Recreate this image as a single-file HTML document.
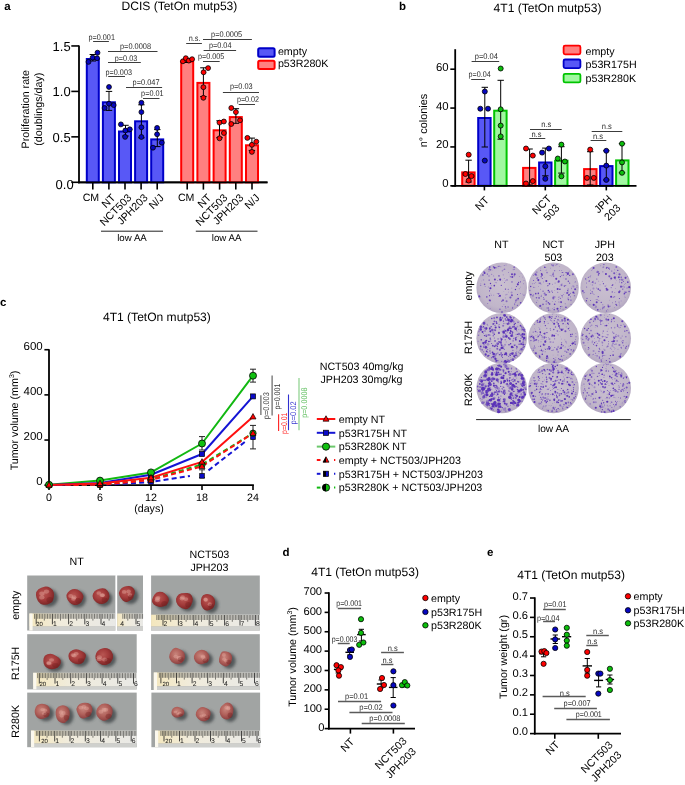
<!DOCTYPE html><html><head><meta charset="utf-8"><style>html,body{margin:0;padding:0;background:#fff;}svg{display:block;will-change:transform;}text{font-family:"Liberation Sans",sans-serif;text-rendering:geometricPrecision;}</style></head><body>
<svg width="685" height="785" viewBox="0 0 685 785">
<rect width="685" height="785" fill="#fff"/>
<text x="4.3" y="10.3" font-size="11.5" font-weight="bold">a</text>
<text x="121.5" y="10.3" font-size="12.05">DCIS (TetOn mutp53)</text>
<line x1="79" y1="45.45" x2="79" y2="183.2" stroke="#000" stroke-width="1.8"/>
<line x1="78.1" y1="182.3" x2="267.5" y2="182.3" stroke="#000" stroke-width="1.8"/>
<line x1="71.3" y1="45.95" x2="79" y2="45.95" stroke="#000" stroke-width="1.6"/>
<text x="70.7" y="50.65" font-size="13" text-anchor="end">1.5</text>
<line x1="71.3" y1="91.4" x2="79" y2="91.4" stroke="#000" stroke-width="1.6"/>
<text x="70.7" y="96.1" font-size="13" text-anchor="end">1.0</text>
<line x1="71.3" y1="136.85" x2="79" y2="136.85" stroke="#000" stroke-width="1.6"/>
<text x="70.7" y="141.55" font-size="13" text-anchor="end">0.5</text>
<line x1="71.3" y1="182.3" x2="79" y2="182.3" stroke="#000" stroke-width="1.6"/>
<text x="73.7" y="189.4" font-size="13" text-anchor="end">0.0</text>
<text x="29.4" y="109.2" font-size="10.7" text-anchor="middle" transform="rotate(-90 29.4 109.2)">Proliferation rate</text>
<text x="41.6" y="109.2" font-size="10.7" text-anchor="middle" transform="rotate(-90 41.6 109.2)">(doublings/day)</text>
<rect x="86.8" y="59" width="12" height="123.3" fill="#5858f6" stroke="#0000c8" stroke-width="2"/>
<rect x="102.9" y="102.3" width="12" height="80" fill="#5858f6" stroke="#0000c8" stroke-width="2"/>
<rect x="119" y="131.5" width="12" height="50.8" fill="#5858f6" stroke="#0000c8" stroke-width="2"/>
<rect x="135.1" y="121.3" width="12" height="61" fill="#5858f6" stroke="#0000c8" stroke-width="2"/>
<rect x="151.2" y="139.4" width="12" height="42.9" fill="#5858f6" stroke="#0000c8" stroke-width="2"/>
<rect x="181.2" y="61.6" width="12" height="120.7" fill="#ff8080" stroke="#ff0000" stroke-width="2"/>
<rect x="197.4" y="82.9" width="12" height="99.4" fill="#ff8080" stroke="#ff0000" stroke-width="2"/>
<rect x="213.6" y="130.3" width="12" height="52" fill="#ff8080" stroke="#ff0000" stroke-width="2"/>
<rect x="229.8" y="117.1" width="12" height="65.2" fill="#ff8080" stroke="#ff0000" stroke-width="2"/>
<rect x="246" y="145.3" width="12" height="37" fill="#ff8080" stroke="#ff0000" stroke-width="2"/>
<line x1="78.1" y1="182.3" x2="267.5" y2="182.3" stroke="#000" stroke-width="1.8"/>
<line x1="92.8" y1="182.3" x2="92.8" y2="189.6" stroke="#000" stroke-width="1.6"/>
<line x1="108.9" y1="182.3" x2="108.9" y2="189.6" stroke="#000" stroke-width="1.6"/>
<line x1="125" y1="182.3" x2="125" y2="189.6" stroke="#000" stroke-width="1.6"/>
<line x1="141.1" y1="182.3" x2="141.1" y2="189.6" stroke="#000" stroke-width="1.6"/>
<line x1="157.2" y1="182.3" x2="157.2" y2="189.6" stroke="#000" stroke-width="1.6"/>
<line x1="187.2" y1="182.3" x2="187.2" y2="189.6" stroke="#000" stroke-width="1.6"/>
<line x1="203.4" y1="182.3" x2="203.4" y2="189.6" stroke="#000" stroke-width="1.6"/>
<line x1="219.6" y1="182.3" x2="219.6" y2="189.6" stroke="#000" stroke-width="1.6"/>
<line x1="235.8" y1="182.3" x2="235.8" y2="189.6" stroke="#000" stroke-width="1.6"/>
<line x1="252" y1="182.3" x2="252" y2="189.6" stroke="#000" stroke-width="1.6"/>
<line x1="92.8" y1="54.5" x2="92.8" y2="61" stroke="#000" stroke-width="1"/>
<line x1="89.6" y1="54.5" x2="96" y2="54.5" stroke="#000" stroke-width="1"/>
<line x1="89.6" y1="61" x2="96" y2="61" stroke="#000" stroke-width="1"/>
<line x1="109" y1="91.4" x2="109" y2="110.4" stroke="#000" stroke-width="1"/>
<line x1="105.8" y1="91.4" x2="112.2" y2="91.4" stroke="#000" stroke-width="1"/>
<line x1="105.8" y1="110.4" x2="112.2" y2="110.4" stroke="#000" stroke-width="1"/>
<line x1="125.5" y1="125.3" x2="125.5" y2="136" stroke="#000" stroke-width="1"/>
<line x1="122.3" y1="125.3" x2="128.7" y2="125.3" stroke="#000" stroke-width="1"/>
<line x1="122.3" y1="136" x2="128.7" y2="136" stroke="#000" stroke-width="1"/>
<line x1="141.4" y1="104.8" x2="141.4" y2="137.8" stroke="#000" stroke-width="1"/>
<line x1="138.2" y1="104.8" x2="144.6" y2="104.8" stroke="#000" stroke-width="1"/>
<line x1="138.2" y1="137.8" x2="144.6" y2="137.8" stroke="#000" stroke-width="1"/>
<line x1="157.3" y1="129.6" x2="157.3" y2="146.6" stroke="#000" stroke-width="1"/>
<line x1="154.1" y1="129.6" x2="160.5" y2="129.6" stroke="#000" stroke-width="1"/>
<line x1="154.1" y1="146.6" x2="160.5" y2="146.6" stroke="#000" stroke-width="1"/>
<line x1="187" y1="58.5" x2="187" y2="62.5" stroke="#000" stroke-width="1"/>
<line x1="183.8" y1="58.5" x2="190.2" y2="58.5" stroke="#000" stroke-width="1"/>
<line x1="183.8" y1="62.5" x2="190.2" y2="62.5" stroke="#000" stroke-width="1"/>
<line x1="203.4" y1="67.8" x2="203.4" y2="96.5" stroke="#000" stroke-width="1"/>
<line x1="200.2" y1="67.8" x2="206.6" y2="67.8" stroke="#000" stroke-width="1"/>
<line x1="200.2" y1="96.5" x2="206.6" y2="96.5" stroke="#000" stroke-width="1"/>
<line x1="219.5" y1="120.8" x2="219.5" y2="137.6" stroke="#000" stroke-width="1"/>
<line x1="216.3" y1="120.8" x2="222.7" y2="120.8" stroke="#000" stroke-width="1"/>
<line x1="216.3" y1="137.6" x2="222.7" y2="137.6" stroke="#000" stroke-width="1"/>
<line x1="235.9" y1="108.7" x2="235.9" y2="123.3" stroke="#000" stroke-width="1"/>
<line x1="232.7" y1="108.7" x2="239.1" y2="108.7" stroke="#000" stroke-width="1"/>
<line x1="232.7" y1="123.3" x2="239.1" y2="123.3" stroke="#000" stroke-width="1"/>
<line x1="251.9" y1="138.1" x2="251.9" y2="150.4" stroke="#000" stroke-width="1"/>
<line x1="248.7" y1="138.1" x2="255.1" y2="138.1" stroke="#000" stroke-width="1"/>
<line x1="248.7" y1="150.4" x2="255.1" y2="150.4" stroke="#000" stroke-width="1"/>
<circle cx="88.5" cy="61.9" r="2.45" fill="#0606c0" stroke="#000" stroke-width="0.8"/>
<circle cx="92.7" cy="57.6" r="2.45" fill="#0606c0" stroke="#000" stroke-width="0.8"/>
<circle cx="97.1" cy="58.2" r="2.45" fill="#0606c0" stroke="#000" stroke-width="0.8"/>
<circle cx="97.5" cy="52.7" r="2.45" fill="#0606c0" stroke="#000" stroke-width="0.8"/>
<circle cx="109" cy="87" r="2.45" fill="#0606c0" stroke="#000" stroke-width="0.8"/>
<circle cx="109" cy="103.7" r="2.45" fill="#0606c0" stroke="#000" stroke-width="0.8"/>
<circle cx="113.7" cy="105.1" r="2.45" fill="#0606c0" stroke="#000" stroke-width="0.8"/>
<circle cx="104.6" cy="108" r="2.45" fill="#0606c0" stroke="#000" stroke-width="0.8"/>
<circle cx="120.9" cy="124.4" r="2.45" fill="#0606c0" stroke="#000" stroke-width="0.8"/>
<circle cx="125.4" cy="130.5" r="2.45" fill="#0606c0" stroke="#000" stroke-width="0.8"/>
<circle cx="129.8" cy="129.3" r="2.45" fill="#0606c0" stroke="#000" stroke-width="0.8"/>
<circle cx="125.1" cy="136.9" r="2.45" fill="#0606c0" stroke="#000" stroke-width="0.8"/>
<circle cx="141.4" cy="102.8" r="2.45" fill="#0606c0" stroke="#000" stroke-width="0.8"/>
<circle cx="141.4" cy="112.1" r="2.45" fill="#0606c0" stroke="#000" stroke-width="0.8"/>
<circle cx="141.4" cy="127.3" r="2.45" fill="#0606c0" stroke="#000" stroke-width="0.8"/>
<circle cx="141.4" cy="137" r="2.45" fill="#0606c0" stroke="#000" stroke-width="0.8"/>
<circle cx="157.1" cy="127.9" r="2.45" fill="#0606c0" stroke="#000" stroke-width="0.8"/>
<circle cx="157.1" cy="134.3" r="2.45" fill="#0606c0" stroke="#000" stroke-width="0.8"/>
<circle cx="161.8" cy="142.7" r="2.45" fill="#0606c0" stroke="#000" stroke-width="0.8"/>
<circle cx="153" cy="147.7" r="2.45" fill="#0606c0" stroke="#000" stroke-width="0.8"/>
<circle cx="182.9" cy="61.3" r="2.45" fill="#ff0000" stroke="#000" stroke-width="0.8"/>
<circle cx="185.8" cy="58.2" r="2.45" fill="#ff0000" stroke="#000" stroke-width="0.8"/>
<circle cx="188.8" cy="60.6" r="2.45" fill="#ff0000" stroke="#000" stroke-width="0.8"/>
<circle cx="192.1" cy="59.2" r="2.45" fill="#ff0000" stroke="#000" stroke-width="0.8"/>
<circle cx="208.1" cy="68.1" r="2.45" fill="#ff0000" stroke="#000" stroke-width="0.8"/>
<circle cx="203.6" cy="72.3" r="2.45" fill="#ff0000" stroke="#000" stroke-width="0.8"/>
<circle cx="203.4" cy="87.2" r="2.45" fill="#ff0000" stroke="#000" stroke-width="0.8"/>
<circle cx="203.4" cy="97.8" r="2.45" fill="#ff0000" stroke="#000" stroke-width="0.8"/>
<circle cx="219.5" cy="122.6" r="2.45" fill="#ff0000" stroke="#000" stroke-width="0.8"/>
<circle cx="223.9" cy="121.5" r="2.45" fill="#ff0000" stroke="#000" stroke-width="0.8"/>
<circle cx="223.9" cy="133" r="2.45" fill="#ff0000" stroke="#000" stroke-width="0.8"/>
<circle cx="219.5" cy="138.3" r="2.45" fill="#ff0000" stroke="#000" stroke-width="0.8"/>
<circle cx="231.3" cy="108" r="2.45" fill="#ff0000" stroke="#000" stroke-width="0.8"/>
<circle cx="235.9" cy="112.1" r="2.45" fill="#ff0000" stroke="#000" stroke-width="0.8"/>
<circle cx="240" cy="120.3" r="2.45" fill="#ff0000" stroke="#000" stroke-width="0.8"/>
<circle cx="231.3" cy="124" r="2.45" fill="#ff0000" stroke="#000" stroke-width="0.8"/>
<circle cx="247.4" cy="137.9" r="2.45" fill="#ff0000" stroke="#000" stroke-width="0.8"/>
<circle cx="256.3" cy="141.7" r="2.45" fill="#ff0000" stroke="#000" stroke-width="0.8"/>
<circle cx="251.9" cy="144.8" r="2.45" fill="#ff0000" stroke="#000" stroke-width="0.8"/>
<circle cx="251.9" cy="151.9" r="2.45" fill="#ff0000" stroke="#000" stroke-width="0.8"/>
<line x1="93.1" y1="41.5" x2="108.9" y2="41.5" stroke="#3c3c3c" stroke-width="1"/>
<text x="88.5" y="39.9" font-size="8.2" fill="#2a2a2a" textLength="26.45" lengthAdjust="spacingAndGlyphs">p=0.001</text>
<line x1="108" y1="51.5" x2="157.5" y2="51.5" stroke="#3c3c3c" stroke-width="1"/>
<text x="120" y="48.5" font-size="8.2" fill="#2a2a2a" textLength="31.05" lengthAdjust="spacingAndGlyphs">p=0.0008</text>
<line x1="108" y1="62.5" x2="140.8" y2="62.5" stroke="#3c3c3c" stroke-width="1"/>
<text x="114.8" y="60.7" font-size="8.2" fill="#2a2a2a" textLength="22.45" lengthAdjust="spacingAndGlyphs">p=0.03</text>
<line x1="108.2" y1="76.5" x2="125" y2="76.5" stroke="#3c3c3c" stroke-width="1"/>
<text x="105.6" y="74.7" font-size="8.2" fill="#2a2a2a" textLength="26.35" lengthAdjust="spacingAndGlyphs">p=0.003</text>
<line x1="126" y1="87.5" x2="162.1" y2="87.5" stroke="#3c3c3c" stroke-width="1"/>
<text x="132.6" y="85.1" font-size="8.2" fill="#2a2a2a" textLength="26.95" lengthAdjust="spacingAndGlyphs">p=0.047</text>
<line x1="143" y1="98.5" x2="159.5" y2="98.5" stroke="#3c3c3c" stroke-width="1"/>
<text x="141.1" y="96.3" font-size="8.2" fill="#2a2a2a" textLength="22.55" lengthAdjust="spacingAndGlyphs">p=0.01</text>
<line x1="186.2" y1="43.5" x2="201.9" y2="43.5" stroke="#3c3c3c" stroke-width="1"/>
<text x="188.8" y="41.3" font-size="8.2" fill="#2a2a2a" textLength="11.75" lengthAdjust="spacingAndGlyphs">n.s.</text>
<line x1="203" y1="39.5" x2="251.9" y2="39.5" stroke="#3c3c3c" stroke-width="1"/>
<text x="211.1" y="37.1" font-size="8.2" fill="#2a2a2a" textLength="31.05" lengthAdjust="spacingAndGlyphs">p=0.0005</text>
<line x1="203.6" y1="50.5" x2="236.1" y2="50.5" stroke="#3c3c3c" stroke-width="1"/>
<text x="208.9" y="48.3" font-size="8.2" fill="#2a2a2a" textLength="22.65" lengthAdjust="spacingAndGlyphs">p=0.04</text>
<line x1="203" y1="61.5" x2="219.7" y2="61.5" stroke="#3c3c3c" stroke-width="1"/>
<text x="198" y="59.2" font-size="8.2" fill="#2a2a2a" textLength="26.35" lengthAdjust="spacingAndGlyphs">p=0.005</text>
<line x1="222.9" y1="92.5" x2="259" y2="92.5" stroke="#3c3c3c" stroke-width="1"/>
<text x="229.9" y="89.1" font-size="8.2" fill="#2a2a2a" textLength="22.75" lengthAdjust="spacingAndGlyphs">p=0.03</text>
<line x1="238.7" y1="104.5" x2="255" y2="104.5" stroke="#3c3c3c" stroke-width="1"/>
<text x="236.9" y="101.9" font-size="8.2" fill="#2a2a2a" textLength="22.25" lengthAdjust="spacingAndGlyphs">p=0.02</text>
<text x="90.9" y="201.2" font-size="10.6" text-anchor="middle">CM</text>
<text x="186.2" y="201.2" font-size="10.6" text-anchor="middle">CM</text>
<text x="116.2" y="198.4" font-size="10.7" text-anchor="end" transform="rotate(-45 116.2 198.4)">NT</text>
<text x="132.3" y="198.4" font-size="10.7" text-anchor="end" transform="rotate(-45 132.3 198.4)">NCT503</text>
<text x="148.4" y="198.4" font-size="10.7" text-anchor="end" transform="rotate(-45 148.4 198.4)">JPH203</text>
<text x="164.5" y="198.4" font-size="10.7" text-anchor="end" transform="rotate(-45 164.5 198.4)">N/J</text>
<text x="212" y="198.4" font-size="10.7" text-anchor="end" transform="rotate(-45 212 198.4)">NT</text>
<text x="228.1" y="198.4" font-size="10.7" text-anchor="end" transform="rotate(-45 228.1 198.4)">NCT503</text>
<text x="244.2" y="198.4" font-size="10.7" text-anchor="end" transform="rotate(-45 244.2 198.4)">JPH203</text>
<text x="260.3" y="198.4" font-size="10.7" text-anchor="end" transform="rotate(-45 260.3 198.4)">N/J</text>
<line x1="101" y1="231.2" x2="163" y2="231.2" stroke="#222" stroke-width="1"/>
<line x1="195.8" y1="231.2" x2="257.5" y2="231.2" stroke="#222" stroke-width="1"/>
<text x="132" y="240.6" font-size="9.7" text-anchor="middle">low AA</text>
<text x="226.6" y="240.6" font-size="9.7" text-anchor="middle">low AA</text>
<rect x="258.2" y="48.2" width="16.4" height="8.5" fill="#5858f6" stroke="#0000c8" stroke-width="2" rx="1.5"/>
<rect x="258.2" y="60.7" width="16.4" height="8.3" fill="#ff8080" stroke="#ff0000" stroke-width="2" rx="1.5"/>
<text x="277.9" y="54.6" font-size="10.7">empty</text>
<text x="277.9" y="66.7" font-size="10.7">p53R280K</text>
<text x="399" y="10.3" font-size="11.5" font-weight="bold">b</text>
<text x="493.6" y="12.1" font-size="12.05">4T1 (TetOn mutp53)</text>
<line x1="455.2" y1="49.2" x2="455.2" y2="186.7" stroke="#000" stroke-width="1.8"/>
<line x1="450.3" y1="185.8" x2="455.2" y2="185.8" stroke="#000" stroke-width="1.6"/>
<text x="448.7" y="187.3" font-size="11.4" text-anchor="end">0</text>
<line x1="450.3" y1="146.93" x2="455.2" y2="146.93" stroke="#000" stroke-width="1.6"/>
<text x="448.7" y="148.43" font-size="11.4" text-anchor="end">20</text>
<line x1="450.3" y1="108.07" x2="455.2" y2="108.07" stroke="#000" stroke-width="1.6"/>
<text x="448.7" y="109.57" font-size="11.4" text-anchor="end">40</text>
<line x1="450.3" y1="69.2" x2="455.2" y2="69.2" stroke="#000" stroke-width="1.6"/>
<text x="448.7" y="70.7" font-size="11.4" text-anchor="end">60</text>
<text x="426.6" y="120.5" font-size="10.9" text-anchor="middle" transform="rotate(-90 426.6 120.5)">n° colonies</text>
<rect x="462.2" y="172.4" width="12.4" height="13.4" fill="#ff8080" stroke="#ff0000" stroke-width="2"/>
<rect x="478.2" y="118" width="12.4" height="67.8" fill="#5858f6" stroke="#0000c8" stroke-width="2"/>
<rect x="494.2" y="110.7" width="12.4" height="75.1" fill="#a0f8a0" stroke="#00c400" stroke-width="2"/>
<rect x="523.1" y="167.9" width="12.4" height="17.9" fill="#ff8080" stroke="#ff0000" stroke-width="2"/>
<rect x="539.1" y="162.5" width="12.4" height="23.3" fill="#5858f6" stroke="#0000c8" stroke-width="2"/>
<rect x="555.1" y="160.7" width="12.4" height="25.1" fill="#a0f8a0" stroke="#00c400" stroke-width="2"/>
<rect x="584.1" y="169.1" width="12.4" height="16.7" fill="#ff8080" stroke="#ff0000" stroke-width="2"/>
<rect x="600.1" y="166.1" width="12.4" height="19.7" fill="#5858f6" stroke="#0000c8" stroke-width="2"/>
<rect x="616.1" y="160.4" width="12.4" height="25.4" fill="#a0f8a0" stroke="#00c400" stroke-width="2"/>
<line x1="451.5" y1="185.8" x2="636.5" y2="185.8" stroke="#000" stroke-width="1.8"/>
<line x1="484.4" y1="185.8" x2="484.4" y2="190.4" stroke="#000" stroke-width="1.6"/>
<line x1="545.3" y1="185.8" x2="545.3" y2="190.4" stroke="#000" stroke-width="1.6"/>
<line x1="606.3" y1="185.8" x2="606.3" y2="190.4" stroke="#000" stroke-width="1.6"/>
<line x1="468.6" y1="160.2" x2="468.6" y2="182" stroke="#000" stroke-width="1"/>
<line x1="465.4" y1="160.2" x2="471.8" y2="160.2" stroke="#000" stroke-width="1"/>
<line x1="465.4" y1="182" x2="471.8" y2="182" stroke="#000" stroke-width="1"/>
<line x1="484.8" y1="87.3" x2="484.8" y2="147" stroke="#000" stroke-width="1"/>
<line x1="481.6" y1="87.3" x2="488" y2="87.3" stroke="#000" stroke-width="1"/>
<line x1="481.6" y1="147" x2="488" y2="147" stroke="#000" stroke-width="1"/>
<line x1="500.7" y1="80.3" x2="500.7" y2="139.2" stroke="#000" stroke-width="1"/>
<line x1="497.5" y1="80.3" x2="503.9" y2="80.3" stroke="#000" stroke-width="1"/>
<line x1="497.5" y1="139.2" x2="503.9" y2="139.2" stroke="#000" stroke-width="1"/>
<line x1="529.6" y1="149" x2="529.6" y2="185" stroke="#000" stroke-width="1"/>
<line x1="526.4" y1="149" x2="532.8" y2="149" stroke="#000" stroke-width="1"/>
<line x1="526.4" y1="185" x2="532.8" y2="185" stroke="#000" stroke-width="1"/>
<line x1="545.3" y1="148.1" x2="545.3" y2="175.8" stroke="#000" stroke-width="1"/>
<line x1="542.1" y1="148.1" x2="548.5" y2="148.1" stroke="#000" stroke-width="1"/>
<line x1="542.1" y1="175.8" x2="548.5" y2="175.8" stroke="#000" stroke-width="1"/>
<line x1="561.4" y1="146.7" x2="561.4" y2="173.1" stroke="#000" stroke-width="1"/>
<line x1="558.2" y1="146.7" x2="564.6" y2="146.7" stroke="#000" stroke-width="1"/>
<line x1="558.2" y1="173.1" x2="564.6" y2="173.1" stroke="#000" stroke-width="1"/>
<line x1="590.2" y1="151.7" x2="590.2" y2="185" stroke="#000" stroke-width="1"/>
<line x1="587" y1="151.7" x2="593.4" y2="151.7" stroke="#000" stroke-width="1"/>
<line x1="587" y1="185" x2="593.4" y2="185" stroke="#000" stroke-width="1"/>
<line x1="606.3" y1="150.8" x2="606.3" y2="180" stroke="#000" stroke-width="1"/>
<line x1="603.1" y1="150.8" x2="609.5" y2="150.8" stroke="#000" stroke-width="1"/>
<line x1="603.1" y1="180" x2="609.5" y2="180" stroke="#000" stroke-width="1"/>
<line x1="622" y1="143.7" x2="622" y2="172.8" stroke="#000" stroke-width="1"/>
<line x1="618.8" y1="143.7" x2="625.2" y2="143.7" stroke="#000" stroke-width="1"/>
<line x1="618.8" y1="172.8" x2="625.2" y2="172.8" stroke="#000" stroke-width="1"/>
<circle cx="468.7" cy="154.7" r="2.5" fill="#ff0000" stroke="#000" stroke-width="0.8"/>
<circle cx="465.4" cy="174" r="2.5" fill="#ff0000" stroke="#000" stroke-width="0.8"/>
<circle cx="471.5" cy="176.1" r="2.5" fill="#ff0000" stroke="#000" stroke-width="0.8"/>
<circle cx="468.7" cy="180.6" r="2.5" fill="#ff0000" stroke="#000" stroke-width="0.8"/>
<circle cx="526" cy="148.5" r="2.5" fill="#ff0000" stroke="#000" stroke-width="0.8"/>
<circle cx="532.8" cy="155.6" r="2.5" fill="#ff0000" stroke="#000" stroke-width="0.8"/>
<circle cx="532.8" cy="181.1" r="2.5" fill="#ff0000" stroke="#000" stroke-width="0.8"/>
<circle cx="526" cy="183.5" r="2.5" fill="#ff0000" stroke="#000" stroke-width="0.8"/>
<circle cx="590.2" cy="149.6" r="2.5" fill="#ff0000" stroke="#000" stroke-width="0.8"/>
<circle cx="587" cy="177.9" r="2.5" fill="#ff0000" stroke="#000" stroke-width="0.8"/>
<circle cx="593.8" cy="177.9" r="2.5" fill="#ff0000" stroke="#000" stroke-width="0.8"/>
<circle cx="484.8" cy="91.5" r="2.5" fill="#0606c0" stroke="#000" stroke-width="0.8"/>
<circle cx="480.3" cy="108.7" r="2.5" fill="#0606c0" stroke="#000" stroke-width="0.8"/>
<circle cx="488" cy="108.7" r="2.5" fill="#0606c0" stroke="#000" stroke-width="0.8"/>
<circle cx="484.8" cy="160.6" r="2.5" fill="#0606c0" stroke="#000" stroke-width="0.8"/>
<circle cx="542.1" cy="152.6" r="2.5" fill="#0606c0" stroke="#000" stroke-width="0.8"/>
<circle cx="548.9" cy="148.5" r="2.5" fill="#0606c0" stroke="#000" stroke-width="0.8"/>
<circle cx="545.3" cy="166.3" r="2.5" fill="#0606c0" stroke="#000" stroke-width="0.8"/>
<circle cx="545.3" cy="178.8" r="2.5" fill="#0606c0" stroke="#000" stroke-width="0.8"/>
<circle cx="606.3" cy="150.8" r="2.5" fill="#0606c0" stroke="#000" stroke-width="0.8"/>
<circle cx="606.3" cy="165.6" r="2.5" fill="#0606c0" stroke="#000" stroke-width="0.8"/>
<circle cx="606.3" cy="179.9" r="2.5" fill="#0606c0" stroke="#000" stroke-width="0.8"/>
<circle cx="500.7" cy="68.5" r="2.5" fill="#0cbf0c" stroke="#000" stroke-width="0.8"/>
<circle cx="500.7" cy="109.3" r="2.5" fill="#0cbf0c" stroke="#000" stroke-width="0.8"/>
<circle cx="500.7" cy="125.6" r="2.5" fill="#0cbf0c" stroke="#000" stroke-width="0.8"/>
<circle cx="500.7" cy="136.4" r="2.5" fill="#0cbf0c" stroke="#000" stroke-width="0.8"/>
<circle cx="561.4" cy="144.6" r="2.5" fill="#0cbf0c" stroke="#000" stroke-width="0.8"/>
<circle cx="557.8" cy="158.5" r="2.5" fill="#0cbf0c" stroke="#000" stroke-width="0.8"/>
<circle cx="564.9" cy="161.5" r="2.5" fill="#0cbf0c" stroke="#000" stroke-width="0.8"/>
<circle cx="561.4" cy="176.3" r="2.5" fill="#0cbf0c" stroke="#000" stroke-width="0.8"/>
<circle cx="622" cy="143.7" r="2.5" fill="#0cbf0c" stroke="#000" stroke-width="0.8"/>
<circle cx="622" cy="162.4" r="2.5" fill="#0cbf0c" stroke="#000" stroke-width="0.8"/>
<circle cx="622" cy="172.8" r="2.5" fill="#0cbf0c" stroke="#000" stroke-width="0.8"/>
<line x1="471.6" y1="61.5" x2="499.2" y2="61.5" stroke="#3c3c3c" stroke-width="1"/>
<text x="474.7" y="58.7" font-size="8.2" fill="#2a2a2a" textLength="23.25" lengthAdjust="spacingAndGlyphs">p=0.04</text>
<line x1="471.2" y1="79.5" x2="484.9" y2="79.5" stroke="#3c3c3c" stroke-width="1"/>
<text x="468.6" y="76.7" font-size="8.2" fill="#2a2a2a" textLength="22.15" lengthAdjust="spacingAndGlyphs">p=0.04</text>
<line x1="529.3" y1="138.5" x2="545.3" y2="138.5" stroke="#3c3c3c" stroke-width="1"/>
<text x="531.4" y="136.9" font-size="8.2" fill="#2a2a2a" textLength="10.05" lengthAdjust="spacingAndGlyphs">n.s</text>
<line x1="530" y1="129.5" x2="561.7" y2="129.5" stroke="#3c3c3c" stroke-width="1"/>
<text x="541.2" y="127.2" font-size="8.2" fill="#2a2a2a" textLength="10.05" lengthAdjust="spacingAndGlyphs">n.s</text>
<line x1="590.6" y1="140.5" x2="606.3" y2="140.5" stroke="#3c3c3c" stroke-width="1"/>
<text x="592.9" y="138.7" font-size="8.2" fill="#2a2a2a" textLength="10.05" lengthAdjust="spacingAndGlyphs">n.s</text>
<line x1="591.7" y1="131.5" x2="622.3" y2="131.5" stroke="#3c3c3c" stroke-width="1"/>
<text x="601.8" y="129" font-size="8.2" fill="#2a2a2a" textLength="10.05" lengthAdjust="spacingAndGlyphs">n.s</text>
<text x="489.6" y="201" font-size="10.7" text-anchor="end" transform="rotate(-45 489.6 201)">NT</text>
<text x="552" y="199.5" font-size="10.7" text-anchor="end" transform="rotate(-45 552 199.5)">NCT</text>
<text x="560.3" y="208.6" font-size="10.7" text-anchor="end" transform="rotate(-45 560.3 208.6)">503</text>
<text x="612.8" y="199.5" font-size="10.7" text-anchor="end" transform="rotate(-45 612.8 199.5)">JPH</text>
<text x="621.1" y="208.6" font-size="10.7" text-anchor="end" transform="rotate(-45 621.1 208.6)">203</text>
<rect x="563.6" y="45.7" width="16.8" height="8.6" fill="#ff8080" stroke="#ff0000" stroke-width="1.8" rx="1.5"/>
<rect x="563.6" y="59.5" width="16.8" height="8.6" fill="#5858f6" stroke="#0000c8" stroke-width="1.8" rx="1.5"/>
<rect x="563.6" y="73.8" width="16.8" height="8.6" fill="#a0f8a0" stroke="#00c400" stroke-width="1.8" rx="1.5"/>
<text x="585.5" y="54.6" font-size="10.7">empty</text>
<text x="585.5" y="68.4" font-size="10.7">p53R175H</text>
<text x="585.5" y="82.3" font-size="10.7">p53R280K</text>
<text x="501.4" y="248.2" font-size="10.7" text-anchor="middle">NT</text>
<text x="553.4" y="248.4" font-size="10.7" text-anchor="middle">NCT</text>
<text x="553.4" y="261" font-size="10.7" text-anchor="middle">503</text>
<text x="604.8" y="248.4" font-size="10.7" text-anchor="middle">JPH</text>
<text x="604.8" y="261" font-size="10.7" text-anchor="middle">203</text>
<text x="472.2" y="286" font-size="10.7" text-anchor="middle" transform="rotate(-90 472.2 286)">empty</text>
<text x="472.2" y="337.4" font-size="10.7" text-anchor="middle" transform="rotate(-90 472.2 337.4)">R175H</text>
<text x="472.2" y="389.6" font-size="10.7" text-anchor="middle" transform="rotate(-90 472.2 389.6)">R280K</text>
<defs><radialGradient id="pg" cx="50%" cy="45%" r="55%"><stop offset="0" stop-color="#cac0d0"/><stop offset="0.8" stop-color="#c1b6ca"/><stop offset="1" stop-color="#b2a6c0"/></radialGradient><radialGradient id="tg" cx="40%" cy="35%" r="65%"><stop offset="0" stop-color="#c87070"/><stop offset="0.6" stop-color="#a83c3c"/><stop offset="1" stop-color="#7a2424"/></radialGradient><linearGradient id="bgp" x1="0" y1="0" x2="1" y2="1"><stop offset="0" stop-color="#9a9d9f"/><stop offset="1" stop-color="#a7abac"/></linearGradient></defs>
<circle cx="501.7" cy="287.8" r="25.3" fill="url(#pg)"/>
<g fill="#5a32b8"><circle cx="492.79" cy="270.13" r="0.3" fill-opacity="0.35"/><circle cx="505.89" cy="308.53" r="0.51" fill-opacity="0.35"/><circle cx="480.75" cy="283.66" r="0.51" fill-opacity="0.35"/><circle cx="504.28" cy="265.49" r="0.38" fill-opacity="0.55"/><circle cx="508.31" cy="292" r="0.3" fill-opacity="1.00"/><circle cx="506.03" cy="265.01" r="0.51" fill-opacity="0.35"/><circle cx="504.57" cy="269.24" r="0.81" fill-opacity="0.55"/><circle cx="503.76" cy="291.39" r="0.42" fill-opacity="0.35"/><circle cx="505.83" cy="294.83" r="0.68" fill-opacity="0.35"/><circle cx="504.12" cy="265.68" r="0.3" fill-opacity="1.00"/><circle cx="486.82" cy="296.93" r="0.81" fill-opacity="0.75"/><circle cx="499.96" cy="309.23" r="0.68" fill-opacity="0.75"/><circle cx="488.97" cy="271.6" r="0.51" fill-opacity="0.35"/><circle cx="505.47" cy="289.07" r="0.68" fill-opacity="1.00"/><circle cx="499.11" cy="293.31" r="0.38" fill-opacity="0.35"/><circle cx="502.3" cy="270.85" r="0.68" fill-opacity="0.55"/><circle cx="523.62" cy="283.84" r="0.38" fill-opacity="1.00"/><circle cx="505.4" cy="306.8" r="0.68" fill-opacity="0.75"/><circle cx="511.58" cy="292.58" r="1.02" fill-opacity="0.35"/><circle cx="500.39" cy="296.11" r="0.3" fill-opacity="1.00"/><circle cx="511.9" cy="295.24" r="1.02" fill-opacity="0.75"/><circle cx="512.66" cy="307.38" r="0.68" fill-opacity="0.35"/><circle cx="524" cy="280.49" r="0.38" fill-opacity="0.90"/><circle cx="482.94" cy="275.03" r="0.81" fill-opacity="0.90"/><circle cx="480.48" cy="285.23" r="0.59" fill-opacity="0.55"/><circle cx="490.49" cy="283.51" r="0.68" fill-opacity="1.00"/><circle cx="484.04" cy="271.42" r="0.51" fill-opacity="1.00"/><circle cx="488.21" cy="287.04" r="0.42" fill-opacity="0.75"/><circle cx="490.67" cy="269.87" r="0.68" fill-opacity="1.00"/><circle cx="505.06" cy="310.73" r="0.3" fill-opacity="0.90"/><circle cx="520.65" cy="302.87" r="0.81" fill-opacity="0.90"/><circle cx="496.59" cy="267.74" r="0.81" fill-opacity="0.35"/><circle cx="498.7" cy="268.06" r="0.3" fill-opacity="0.35"/><circle cx="481.53" cy="280.9" r="0.3" fill-opacity="0.35"/><circle cx="520.64" cy="293.57" r="0.42" fill-opacity="1.00"/><circle cx="489.16" cy="280.08" r="0.68" fill-opacity="0.90"/><circle cx="500.88" cy="266.85" r="0.38" fill-opacity="1.00"/><circle cx="493.74" cy="275.9" r="0.42" fill-opacity="1.00"/><circle cx="503.13" cy="269.92" r="0.3" fill-opacity="1.00"/><circle cx="491.48" cy="295.03" r="0.38" fill-opacity="1.00"/><circle cx="519.18" cy="288.73" r="0.42" fill-opacity="0.75"/><circle cx="515.46" cy="289.45" r="0.68" fill-opacity="1.00"/><circle cx="487.69" cy="303.56" r="0.51" fill-opacity="0.55"/><circle cx="517.81" cy="299.94" r="0.51" fill-opacity="0.55"/><circle cx="502.59" cy="280.49" r="0.3" fill-opacity="0.35"/><circle cx="516.38" cy="286.4" r="0.51" fill-opacity="1.00"/><circle cx="507.02" cy="279.92" r="0.68" fill-opacity="0.75"/><circle cx="500.19" cy="279.59" r="1.02" fill-opacity="1.00"/><circle cx="493.81" cy="295.04" r="0.38" fill-opacity="0.90"/><circle cx="515.98" cy="300.46" r="1.02" fill-opacity="0.55"/><circle cx="498.36" cy="294.67" r="0.38" fill-opacity="1.00"/><circle cx="496.43" cy="282.81" r="0.38" fill-opacity="1.00"/><circle cx="499.95" cy="295.69" r="1.02" fill-opacity="1.00"/><circle cx="516.85" cy="299.25" r="0.38" fill-opacity="1.00"/><circle cx="514.32" cy="269.55" r="0.51" fill-opacity="0.55"/><circle cx="501.76" cy="301.14" r="0.68" fill-opacity="0.75"/><circle cx="503.94" cy="304.71" r="0.3" fill-opacity="1.00"/><circle cx="494.3" cy="285.68" r="0.81" fill-opacity="1.00"/><circle cx="502.23" cy="306.66" r="0.42" fill-opacity="1.00"/><circle cx="485.12" cy="286.46" r="0.38" fill-opacity="1.00"/><circle cx="479.52" cy="297.03" r="1.02" fill-opacity="0.35"/><circle cx="481.35" cy="285.38" r="0.3" fill-opacity="0.35"/><circle cx="498.83" cy="293.49" r="0.51" fill-opacity="1.00"/><circle cx="490.43" cy="288.21" r="1.02" fill-opacity="1.00"/><circle cx="489.54" cy="290.81" r="0.51" fill-opacity="0.90"/><circle cx="498.77" cy="266.17" r="0.51" fill-opacity="0.90"/><circle cx="480.1" cy="296.38" r="0.38" fill-opacity="0.55"/><circle cx="523.94" cy="295.06" r="0.68" fill-opacity="0.55"/><circle cx="489.21" cy="269.45" r="1.02" fill-opacity="0.55"/><circle cx="514.18" cy="267.26" r="1.02" fill-opacity="0.55"/><circle cx="484.57" cy="284.34" r="0.81" fill-opacity="0.75"/><circle cx="497.72" cy="280.54" r="0.38" fill-opacity="1.00"/><circle cx="494.92" cy="279.6" r="1.02" fill-opacity="0.90"/><circle cx="511.98" cy="281.95" r="0.59" fill-opacity="1.00"/><circle cx="490.16" cy="308.34" r="0.42" fill-opacity="0.75"/><circle cx="514.64" cy="303.98" r="0.59" fill-opacity="0.90"/><circle cx="505.27" cy="297.94" r="0.38" fill-opacity="0.75"/><circle cx="497.92" cy="266.16" r="0.3" fill-opacity="1.00"/><circle cx="480.88" cy="275.68" r="0.51" fill-opacity="0.35"/><circle cx="489.78" cy="268.66" r="0.3" fill-opacity="0.75"/><circle cx="522.72" cy="293.96" r="0.3" fill-opacity="1.00"/><circle cx="508.21" cy="289.37" r="0.51" fill-opacity="0.75"/><circle cx="498.95" cy="296.51" r="0.59" fill-opacity="0.75"/><circle cx="501.99" cy="311.99" r="1.02" fill-opacity="0.55"/><circle cx="517.84" cy="284.37" r="1.02" fill-opacity="1.00"/><circle cx="518.63" cy="282.39" r="0.59" fill-opacity="1.00"/><circle cx="487.29" cy="274.12" r="0.51" fill-opacity="1.00"/><circle cx="513.28" cy="269.57" r="0.68" fill-opacity="0.35"/><circle cx="508.05" cy="307.02" r="0.81" fill-opacity="0.55"/><circle cx="479.2" cy="296.16" r="0.81" fill-opacity="1.00"/><circle cx="510.33" cy="276.77" r="0.51" fill-opacity="1.00"/><circle cx="491.23" cy="285.75" r="0.42" fill-opacity="0.75"/><circle cx="498.96" cy="275.82" r="0.68" fill-opacity="1.00"/><circle cx="521.05" cy="273.52" r="0.42" fill-opacity="0.35"/><circle cx="493.37" cy="266.74" r="0.59" fill-opacity="1.00"/><circle cx="509.59" cy="275.06" r="0.3" fill-opacity="0.35"/><circle cx="489.77" cy="267.04" r="0.81" fill-opacity="1.00"/><circle cx="491.79" cy="274.28" r="0.42" fill-opacity="1.00"/><circle cx="506.59" cy="301.17" r="1.02" fill-opacity="0.55"/><circle cx="490.78" cy="293.81" r="0.42" fill-opacity="0.35"/><circle cx="518.14" cy="298.68" r="0.81" fill-opacity="1.00"/><circle cx="511.87" cy="288.08" r="0.3" fill-opacity="1.00"/><circle cx="505.95" cy="307.68" r="0.51" fill-opacity="0.35"/><circle cx="494.65" cy="267.81" r="1.02" fill-opacity="1.00"/><circle cx="503.29" cy="274.87" r="0.59" fill-opacity="0.35"/><circle cx="499.52" cy="266.05" r="0.38" fill-opacity="1.00"/><circle cx="503.02" cy="300.23" r="1.02" fill-opacity="0.75"/><circle cx="517.35" cy="305.31" r="0.51" fill-opacity="1.00"/><circle cx="514.68" cy="274.18" r="1.02" fill-opacity="0.90"/><circle cx="522.47" cy="277.04" r="0.3" fill-opacity="1.00"/><circle cx="508.42" cy="272.53" r="0.42" fill-opacity="0.75"/><circle cx="489.25" cy="300.11" r="0.59" fill-opacity="1.00"/><circle cx="510.4" cy="297.52" r="1.02" fill-opacity="0.75"/><circle cx="512.27" cy="276.95" r="1.02" fill-opacity="0.90"/><circle cx="504.18" cy="278.27" r="0.38" fill-opacity="0.90"/><circle cx="499.14" cy="276.09" r="0.51" fill-opacity="0.55"/><circle cx="514.22" cy="275.75" r="0.68" fill-opacity="0.55"/><circle cx="506.93" cy="294.46" r="0.59" fill-opacity="0.35"/><circle cx="511.99" cy="274.21" r="1.02" fill-opacity="0.90"/><circle cx="501.28" cy="285.31" r="0.59" fill-opacity="1.00"/><circle cx="483.52" cy="279.9" r="0.68" fill-opacity="0.35"/><circle cx="514.39" cy="304.96" r="0.38" fill-opacity="0.55"/><circle cx="512.48" cy="308.12" r="0.59" fill-opacity="0.75"/><circle cx="495.23" cy="282.38" r="0.38" fill-opacity="0.75"/><circle cx="519.63" cy="276.7" r="0.3" fill-opacity="1.00"/><circle cx="489.02" cy="275.95" r="0.68" fill-opacity="0.55"/><circle cx="515.52" cy="302.23" r="0.81" fill-opacity="0.35"/><circle cx="517.49" cy="294.42" r="0.51" fill-opacity="1.00"/><circle cx="497.19" cy="293.61" r="0.42" fill-opacity="1.00"/><circle cx="520.4" cy="287.07" r="0.42" fill-opacity="0.55"/><circle cx="500.29" cy="279.89" r="0.59" fill-opacity="0.75"/><circle cx="489.56" cy="295.69" r="0.59" fill-opacity="0.90"/><circle cx="504.6" cy="282.46" r="0.42" fill-opacity="1.00"/><circle cx="484.58" cy="273.02" r="1.02" fill-opacity="1.00"/><circle cx="483.46" cy="272.24" r="0.38" fill-opacity="0.55"/><circle cx="493.7" cy="267.11" r="0.51" fill-opacity="0.75"/><circle cx="489.47" cy="291.32" r="0.3" fill-opacity="1.00"/><circle cx="520.45" cy="281.87" r="0.51" fill-opacity="0.90"/><circle cx="490.07" cy="300.56" r="1.02" fill-opacity="0.75"/><circle cx="505.46" cy="280.72" r="0.51" fill-opacity="0.35"/></g>
<circle cx="553.5" cy="287.8" r="25.3" fill="url(#pg)"/>
<g fill="#5a32b8"><circle cx="541.91" cy="275.07" r="0.81" fill-opacity="1.00"/><circle cx="550.76" cy="310.77" r="0.3" fill-opacity="0.55"/><circle cx="573.52" cy="286.45" r="1.02" fill-opacity="0.35"/><circle cx="575.16" cy="289.21" r="1.02" fill-opacity="0.90"/><circle cx="540.77" cy="268.02" r="0.42" fill-opacity="0.55"/><circle cx="554.63" cy="297.01" r="1.02" fill-opacity="0.35"/><circle cx="556.11" cy="264.5" r="0.42" fill-opacity="0.55"/><circle cx="557.01" cy="264.4" r="0.59" fill-opacity="0.55"/><circle cx="559.9" cy="289.23" r="0.81" fill-opacity="1.00"/><circle cx="537.9" cy="275.7" r="0.3" fill-opacity="0.35"/><circle cx="542.3" cy="278.51" r="0.51" fill-opacity="0.90"/><circle cx="554.83" cy="290.18" r="0.3" fill-opacity="0.90"/><circle cx="563.86" cy="278.05" r="0.3" fill-opacity="0.55"/><circle cx="553.41" cy="296.63" r="0.81" fill-opacity="0.35"/><circle cx="541.22" cy="296.27" r="0.68" fill-opacity="0.55"/><circle cx="553.14" cy="297.71" r="0.81" fill-opacity="0.75"/><circle cx="562.74" cy="272.52" r="0.59" fill-opacity="1.00"/><circle cx="553.28" cy="272.64" r="0.51" fill-opacity="0.55"/><circle cx="551.73" cy="275.91" r="0.59" fill-opacity="0.35"/><circle cx="576.37" cy="287.59" r="0.42" fill-opacity="0.55"/><circle cx="552.74" cy="308.57" r="0.3" fill-opacity="1.00"/><circle cx="535.61" cy="282.41" r="0.51" fill-opacity="0.35"/><circle cx="548.1" cy="307.95" r="0.68" fill-opacity="1.00"/><circle cx="536.58" cy="272.15" r="1.02" fill-opacity="0.35"/><circle cx="543.98" cy="299.2" r="0.68" fill-opacity="0.75"/><circle cx="550.59" cy="268.01" r="0.38" fill-opacity="0.75"/><circle cx="532.29" cy="283.76" r="0.38" fill-opacity="1.00"/><circle cx="546.25" cy="304.07" r="0.81" fill-opacity="0.35"/><circle cx="530.69" cy="286.46" r="0.68" fill-opacity="1.00"/><circle cx="546.63" cy="307.89" r="0.3" fill-opacity="1.00"/><circle cx="548.99" cy="303.58" r="0.81" fill-opacity="0.35"/><circle cx="547.2" cy="285.98" r="0.3" fill-opacity="0.75"/><circle cx="558.84" cy="280.87" r="0.68" fill-opacity="1.00"/><circle cx="563.09" cy="309.27" r="0.59" fill-opacity="0.35"/><circle cx="564.71" cy="292.64" r="0.38" fill-opacity="0.35"/><circle cx="564.41" cy="286.07" r="0.81" fill-opacity="0.75"/><circle cx="534.91" cy="287.62" r="0.3" fill-opacity="1.00"/><circle cx="543.55" cy="297.52" r="0.42" fill-opacity="1.00"/><circle cx="540.15" cy="306.08" r="1.02" fill-opacity="0.75"/><circle cx="567.86" cy="292.64" r="0.51" fill-opacity="0.90"/><circle cx="566.3" cy="275.01" r="0.38" fill-opacity="1.00"/><circle cx="529.91" cy="290.46" r="0.68" fill-opacity="0.55"/><circle cx="553.42" cy="298.41" r="1.02" fill-opacity="0.55"/><circle cx="540.05" cy="283.59" r="0.51" fill-opacity="1.00"/><circle cx="555.45" cy="301.66" r="0.38" fill-opacity="0.75"/><circle cx="543.07" cy="291.18" r="0.68" fill-opacity="0.75"/><circle cx="565.55" cy="272.58" r="0.51" fill-opacity="0.55"/><circle cx="540.61" cy="270.26" r="0.51" fill-opacity="0.75"/><circle cx="540.65" cy="289.13" r="0.38" fill-opacity="1.00"/><circle cx="551.67" cy="264.37" r="0.3" fill-opacity="0.90"/><circle cx="572.87" cy="274.19" r="1.02" fill-opacity="0.75"/><circle cx="575.27" cy="281.34" r="0.42" fill-opacity="0.90"/><circle cx="558.71" cy="301.71" r="0.3" fill-opacity="0.35"/><circle cx="560.46" cy="298.41" r="0.68" fill-opacity="0.55"/><circle cx="569.63" cy="283.2" r="0.68" fill-opacity="0.55"/><circle cx="559.62" cy="266.44" r="0.3" fill-opacity="0.90"/><circle cx="555.93" cy="265.7" r="0.38" fill-opacity="0.90"/><circle cx="561.8" cy="270.32" r="0.38" fill-opacity="1.00"/><circle cx="536.48" cy="297.69" r="0.81" fill-opacity="0.75"/><circle cx="561.99" cy="283.64" r="0.3" fill-opacity="0.75"/><circle cx="565.91" cy="307.21" r="0.81" fill-opacity="0.90"/><circle cx="568.79" cy="295.11" r="0.81" fill-opacity="1.00"/><circle cx="548.69" cy="310.16" r="0.81" fill-opacity="0.55"/><circle cx="549.64" cy="304.01" r="0.81" fill-opacity="1.00"/><circle cx="572.87" cy="285.82" r="0.42" fill-opacity="0.55"/><circle cx="560.62" cy="308.54" r="0.38" fill-opacity="1.00"/><circle cx="559.68" cy="281.26" r="0.42" fill-opacity="0.55"/><circle cx="545.81" cy="270.69" r="0.42" fill-opacity="0.35"/><circle cx="533.7" cy="287.32" r="0.51" fill-opacity="0.75"/><circle cx="577.56" cy="286.93" r="0.3" fill-opacity="1.00"/><circle cx="575.06" cy="282.13" r="0.42" fill-opacity="1.00"/><circle cx="567.96" cy="273.74" r="0.81" fill-opacity="1.00"/><circle cx="571.03" cy="304.46" r="0.42" fill-opacity="1.00"/><circle cx="539.24" cy="282.73" r="0.42" fill-opacity="0.90"/><circle cx="546.38" cy="270.06" r="0.51" fill-opacity="0.35"/><circle cx="562.22" cy="296.3" r="0.68" fill-opacity="0.35"/><circle cx="547.93" cy="285.56" r="0.59" fill-opacity="1.00"/><circle cx="549.46" cy="291.98" r="0.81" fill-opacity="0.90"/><circle cx="561.54" cy="285.11" r="1.02" fill-opacity="0.55"/><circle cx="552.97" cy="274.4" r="1.02" fill-opacity="0.55"/><circle cx="569.21" cy="282.76" r="0.38" fill-opacity="0.55"/><circle cx="546.34" cy="280.99" r="1.02" fill-opacity="1.00"/><circle cx="554.01" cy="264.56" r="0.42" fill-opacity="0.35"/><circle cx="574.86" cy="278.37" r="0.38" fill-opacity="0.35"/><circle cx="566.25" cy="307.78" r="0.42" fill-opacity="0.35"/><circle cx="565.24" cy="303.74" r="0.51" fill-opacity="0.55"/><circle cx="536.55" cy="302.39" r="0.51" fill-opacity="0.35"/><circle cx="570.35" cy="293.39" r="0.59" fill-opacity="0.55"/><circle cx="544.59" cy="293.54" r="1.02" fill-opacity="0.55"/><circle cx="552.49" cy="292.45" r="0.51" fill-opacity="0.75"/><circle cx="547.04" cy="272.57" r="0.81" fill-opacity="0.55"/><circle cx="560.41" cy="276.58" r="0.68" fill-opacity="0.90"/><circle cx="536.74" cy="302.21" r="0.38" fill-opacity="1.00"/><circle cx="577.09" cy="285.42" r="0.38" fill-opacity="0.75"/><circle cx="548.15" cy="302.86" r="0.59" fill-opacity="0.90"/><circle cx="546.43" cy="301.19" r="1.02" fill-opacity="0.55"/><circle cx="537.14" cy="300.13" r="0.3" fill-opacity="0.75"/><circle cx="569.68" cy="275.33" r="0.68" fill-opacity="1.00"/><circle cx="535.76" cy="293.67" r="0.81" fill-opacity="0.90"/><circle cx="554.14" cy="307.81" r="0.42" fill-opacity="0.90"/><circle cx="539.7" cy="295.55" r="0.3" fill-opacity="0.35"/><circle cx="533.58" cy="280.57" r="0.51" fill-opacity="0.90"/><circle cx="557.73" cy="292.31" r="0.51" fill-opacity="0.75"/><circle cx="559.77" cy="286.53" r="0.42" fill-opacity="0.35"/><circle cx="560.49" cy="306.59" r="0.59" fill-opacity="0.90"/><circle cx="573.37" cy="292.59" r="1.02" fill-opacity="1.00"/><circle cx="540.77" cy="308.22" r="0.3" fill-opacity="0.35"/><circle cx="555.1" cy="283.04" r="0.51" fill-opacity="0.55"/><circle cx="538.3" cy="293.27" r="0.81" fill-opacity="1.00"/><circle cx="537.04" cy="278.15" r="0.59" fill-opacity="1.00"/><circle cx="567.82" cy="298.7" r="0.3" fill-opacity="0.90"/><circle cx="570.93" cy="300.21" r="1.02" fill-opacity="0.35"/><circle cx="565.73" cy="285.4" r="0.51" fill-opacity="0.35"/><circle cx="541.43" cy="295.09" r="0.38" fill-opacity="0.75"/><circle cx="530.86" cy="294.67" r="0.81" fill-opacity="1.00"/><circle cx="568.1" cy="288.98" r="0.59" fill-opacity="0.75"/><circle cx="539.18" cy="307.03" r="0.3" fill-opacity="0.55"/><circle cx="541.37" cy="274.45" r="0.51" fill-opacity="0.55"/><circle cx="565.96" cy="279.04" r="0.81" fill-opacity="0.75"/><circle cx="558.62" cy="281.7" r="1.02" fill-opacity="0.90"/><circle cx="570.69" cy="297.8" r="0.3" fill-opacity="0.90"/><circle cx="548.01" cy="292.12" r="0.42" fill-opacity="0.55"/><circle cx="559.67" cy="270.69" r="0.42" fill-opacity="1.00"/><circle cx="563.25" cy="294.57" r="0.38" fill-opacity="1.00"/><circle cx="566.75" cy="272.59" r="0.38" fill-opacity="1.00"/><circle cx="569.29" cy="294.59" r="0.59" fill-opacity="0.90"/><circle cx="566.52" cy="272.87" r="0.68" fill-opacity="0.75"/><circle cx="541.19" cy="276.8" r="0.68" fill-opacity="0.75"/><circle cx="567.12" cy="292.96" r="1.02" fill-opacity="0.75"/><circle cx="549.09" cy="284.58" r="0.38" fill-opacity="0.75"/><circle cx="551.93" cy="264.93" r="0.51" fill-opacity="1.00"/><circle cx="569.68" cy="271.12" r="0.3" fill-opacity="1.00"/><circle cx="538.42" cy="301.07" r="0.3" fill-opacity="0.35"/><circle cx="545.8" cy="267.34" r="0.42" fill-opacity="0.90"/><circle cx="558.18" cy="310.93" r="0.59" fill-opacity="1.00"/><circle cx="539.06" cy="297.89" r="1.02" fill-opacity="0.55"/><circle cx="533.76" cy="294.71" r="0.38" fill-opacity="0.90"/><circle cx="568.07" cy="297.78" r="0.38" fill-opacity="1.00"/><circle cx="544.73" cy="267.31" r="0.81" fill-opacity="1.00"/><circle cx="541.52" cy="308.1" r="0.42" fill-opacity="0.90"/><circle cx="558.26" cy="297.38" r="0.3" fill-opacity="0.75"/><circle cx="557.63" cy="288.9" r="1.02" fill-opacity="1.00"/><circle cx="556.22" cy="278.86" r="1.02" fill-opacity="0.90"/><circle cx="563.07" cy="275.51" r="0.51" fill-opacity="0.55"/><circle cx="545.1" cy="295.02" r="0.51" fill-opacity="1.00"/><circle cx="537.89" cy="277.76" r="0.42" fill-opacity="1.00"/><circle cx="536.09" cy="275.03" r="0.68" fill-opacity="1.00"/><circle cx="554.62" cy="270.64" r="0.68" fill-opacity="0.55"/><circle cx="561.49" cy="272.39" r="0.42" fill-opacity="0.55"/><circle cx="568.42" cy="299.6" r="0.81" fill-opacity="0.75"/><circle cx="538.13" cy="294.78" r="0.38" fill-opacity="0.75"/><circle cx="538.65" cy="282.15" r="0.3" fill-opacity="0.35"/><circle cx="548.39" cy="302.52" r="0.51" fill-opacity="1.00"/><circle cx="540.46" cy="305.66" r="0.81" fill-opacity="0.55"/><circle cx="562" cy="295.52" r="0.51" fill-opacity="1.00"/><circle cx="550.09" cy="275.65" r="0.38" fill-opacity="0.90"/><circle cx="540.47" cy="282.75" r="0.42" fill-opacity="0.75"/><circle cx="571.18" cy="286.93" r="0.3" fill-opacity="1.00"/><circle cx="571.64" cy="288.72" r="0.42" fill-opacity="1.00"/><circle cx="533.58" cy="275.21" r="0.51" fill-opacity="0.55"/><circle cx="538.31" cy="280.12" r="1.02" fill-opacity="1.00"/><circle cx="538.57" cy="286.57" r="0.3" fill-opacity="1.00"/><circle cx="568.3" cy="281.22" r="0.68" fill-opacity="0.90"/><circle cx="565.75" cy="285.62" r="0.42" fill-opacity="0.90"/><circle cx="554.2" cy="309.69" r="0.68" fill-opacity="1.00"/><circle cx="549.38" cy="283.78" r="0.68" fill-opacity="1.00"/><circle cx="541.62" cy="273.86" r="0.81" fill-opacity="1.00"/><circle cx="576.82" cy="285.88" r="0.42" fill-opacity="0.55"/><circle cx="568.6" cy="272.27" r="0.51" fill-opacity="0.55"/><circle cx="546.07" cy="294.82" r="0.81" fill-opacity="0.90"/><circle cx="561.07" cy="301.96" r="1.02" fill-opacity="0.75"/><circle cx="567.85" cy="274.16" r="0.81" fill-opacity="1.00"/><circle cx="541.03" cy="284.06" r="0.42" fill-opacity="0.90"/><circle cx="542.43" cy="274.9" r="0.59" fill-opacity="0.75"/><circle cx="552.47" cy="284.18" r="0.38" fill-opacity="1.00"/><circle cx="543.54" cy="281.99" r="0.38" fill-opacity="1.00"/><circle cx="561.39" cy="275.15" r="0.38" fill-opacity="1.00"/><circle cx="535.42" cy="274.32" r="1.02" fill-opacity="0.75"/><circle cx="567.92" cy="273.05" r="0.81" fill-opacity="1.00"/><circle cx="558.98" cy="302.03" r="0.59" fill-opacity="0.55"/><circle cx="553.22" cy="273.28" r="0.38" fill-opacity="1.00"/><circle cx="570.67" cy="296.46" r="0.38" fill-opacity="1.00"/><circle cx="534.19" cy="283.7" r="0.42" fill-opacity="0.90"/><circle cx="553.15" cy="265.46" r="1.02" fill-opacity="0.55"/><circle cx="563.64" cy="274.98" r="0.42" fill-opacity="1.00"/><circle cx="558.54" cy="299.67" r="0.42" fill-opacity="0.75"/><circle cx="551.88" cy="290.97" r="0.59" fill-opacity="0.90"/><circle cx="547.17" cy="283.69" r="0.38" fill-opacity="0.55"/><circle cx="560.43" cy="294.69" r="0.3" fill-opacity="0.35"/><circle cx="559.05" cy="297.04" r="0.68" fill-opacity="0.35"/><circle cx="554.04" cy="287.02" r="0.42" fill-opacity="0.35"/><circle cx="539" cy="283.53" r="0.42" fill-opacity="0.75"/><circle cx="532.98" cy="295.85" r="0.68" fill-opacity="0.90"/><circle cx="567.59" cy="290.54" r="0.51" fill-opacity="0.75"/><circle cx="550.22" cy="283.87" r="0.3" fill-opacity="0.75"/><circle cx="543.02" cy="304.38" r="0.81" fill-opacity="0.75"/><circle cx="553.69" cy="276.25" r="0.68" fill-opacity="0.55"/><circle cx="561.32" cy="302.57" r="0.68" fill-opacity="0.55"/><circle cx="544.24" cy="277.64" r="0.38" fill-opacity="0.35"/><circle cx="548.38" cy="290.55" r="0.81" fill-opacity="1.00"/><circle cx="557.25" cy="282.66" r="0.38" fill-opacity="0.35"/><circle cx="552.24" cy="301.26" r="0.3" fill-opacity="1.00"/><circle cx="574.24" cy="293.45" r="0.42" fill-opacity="1.00"/><circle cx="562.29" cy="297.37" r="0.38" fill-opacity="0.55"/><circle cx="530.2" cy="294.56" r="0.42" fill-opacity="0.35"/><circle cx="561.78" cy="306.48" r="0.81" fill-opacity="0.35"/><circle cx="574.45" cy="295.68" r="0.68" fill-opacity="0.55"/><circle cx="568" cy="290.94" r="0.59" fill-opacity="0.75"/><circle cx="557.46" cy="308.74" r="1.02" fill-opacity="1.00"/><circle cx="554.62" cy="304.23" r="0.81" fill-opacity="1.00"/></g>
<circle cx="605.7" cy="287.8" r="25.3" fill="url(#pg)"/>
<g fill="#5a32b8"><circle cx="615.6" cy="282.98" r="0.38" fill-opacity="0.35"/><circle cx="614.81" cy="292.55" r="0.42" fill-opacity="0.90"/><circle cx="619.36" cy="290.27" r="0.38" fill-opacity="1.00"/><circle cx="604.29" cy="307.83" r="0.3" fill-opacity="0.90"/><circle cx="616.8" cy="274.76" r="0.42" fill-opacity="0.35"/><circle cx="598.91" cy="300.31" r="0.42" fill-opacity="1.00"/><circle cx="618.82" cy="277.33" r="1.02" fill-opacity="0.90"/><circle cx="614.28" cy="307.53" r="0.3" fill-opacity="1.00"/><circle cx="625.1" cy="297.24" r="0.38" fill-opacity="0.90"/><circle cx="596.14" cy="299.41" r="0.42" fill-opacity="0.90"/><circle cx="611.21" cy="278.5" r="1.02" fill-opacity="0.90"/><circle cx="614.65" cy="269.83" r="0.38" fill-opacity="0.75"/><circle cx="620.97" cy="286.63" r="1.02" fill-opacity="0.75"/><circle cx="620.1" cy="291.18" r="0.59" fill-opacity="0.75"/><circle cx="615.99" cy="304.37" r="0.68" fill-opacity="1.00"/><circle cx="592.85" cy="282.1" r="0.81" fill-opacity="1.00"/><circle cx="619.44" cy="274.36" r="1.02" fill-opacity="0.75"/><circle cx="615.24" cy="278.77" r="0.59" fill-opacity="0.90"/><circle cx="619.02" cy="302.12" r="0.59" fill-opacity="0.55"/><circle cx="609.34" cy="276.36" r="1.02" fill-opacity="0.75"/><circle cx="607.45" cy="289.82" r="1.02" fill-opacity="0.90"/><circle cx="590.54" cy="300.46" r="0.51" fill-opacity="0.75"/><circle cx="611.11" cy="296.79" r="1.02" fill-opacity="1.00"/><circle cx="590.85" cy="275.39" r="0.3" fill-opacity="0.90"/><circle cx="603.66" cy="266.94" r="0.68" fill-opacity="0.35"/><circle cx="592.18" cy="291.83" r="0.59" fill-opacity="1.00"/><circle cx="596.64" cy="288.11" r="0.51" fill-opacity="0.55"/><circle cx="621.18" cy="277.16" r="0.68" fill-opacity="0.90"/><circle cx="619.85" cy="305.86" r="0.51" fill-opacity="0.35"/><circle cx="627.08" cy="287.46" r="0.38" fill-opacity="0.75"/><circle cx="612.42" cy="302.34" r="0.42" fill-opacity="0.75"/><circle cx="610.62" cy="279.95" r="0.3" fill-opacity="0.35"/><circle cx="624.22" cy="287.11" r="0.51" fill-opacity="0.75"/><circle cx="627.23" cy="276.66" r="0.38" fill-opacity="0.90"/><circle cx="619.22" cy="303.93" r="0.42" fill-opacity="0.75"/><circle cx="623.09" cy="279.65" r="0.42" fill-opacity="0.90"/><circle cx="608.6" cy="306.56" r="1.02" fill-opacity="0.90"/><circle cx="583.65" cy="292.76" r="0.81" fill-opacity="0.35"/><circle cx="616.14" cy="267.05" r="0.68" fill-opacity="1.00"/><circle cx="627" cy="288.13" r="0.42" fill-opacity="0.90"/><circle cx="623.39" cy="281.27" r="0.51" fill-opacity="1.00"/><circle cx="593.35" cy="280.31" r="0.3" fill-opacity="0.35"/><circle cx="593.45" cy="288.47" r="1.02" fill-opacity="0.35"/><circle cx="585.51" cy="278.57" r="0.3" fill-opacity="0.55"/><circle cx="614.65" cy="277.62" r="1.02" fill-opacity="1.00"/><circle cx="585.73" cy="278.89" r="0.59" fill-opacity="0.90"/><circle cx="586.68" cy="286.85" r="0.42" fill-opacity="0.90"/><circle cx="592.47" cy="269.74" r="0.3" fill-opacity="0.90"/><circle cx="616.69" cy="272.37" r="0.3" fill-opacity="0.55"/><circle cx="603.03" cy="267.41" r="0.81" fill-opacity="0.35"/><circle cx="612.2" cy="285.39" r="0.68" fill-opacity="0.75"/><circle cx="622.05" cy="286.66" r="0.68" fill-opacity="0.55"/><circle cx="597.2" cy="299.74" r="0.42" fill-opacity="1.00"/><circle cx="603.24" cy="307.5" r="1.02" fill-opacity="0.55"/><circle cx="593.88" cy="283.34" r="0.42" fill-opacity="0.35"/><circle cx="594.12" cy="304.98" r="0.68" fill-opacity="0.55"/><circle cx="593.59" cy="268.03" r="1.02" fill-opacity="0.90"/><circle cx="614.21" cy="273.18" r="1.02" fill-opacity="0.75"/><circle cx="586.43" cy="300.7" r="0.68" fill-opacity="0.90"/><circle cx="595.05" cy="307.85" r="0.3" fill-opacity="1.00"/><circle cx="612.77" cy="284.87" r="0.68" fill-opacity="1.00"/><circle cx="622.51" cy="289.15" r="0.42" fill-opacity="0.75"/><circle cx="602.42" cy="308.65" r="0.51" fill-opacity="0.75"/><circle cx="609.31" cy="269.49" r="0.42" fill-opacity="1.00"/><circle cx="619.38" cy="298.51" r="0.51" fill-opacity="1.00"/><circle cx="611.19" cy="287.57" r="0.59" fill-opacity="0.55"/><circle cx="590.83" cy="293.49" r="0.51" fill-opacity="1.00"/><circle cx="615.43" cy="288.79" r="0.3" fill-opacity="1.00"/><circle cx="621.42" cy="279.46" r="1.02" fill-opacity="0.35"/><circle cx="604.52" cy="306.62" r="0.59" fill-opacity="0.55"/><circle cx="589.81" cy="304.58" r="0.68" fill-opacity="0.35"/><circle cx="588.67" cy="281.28" r="0.3" fill-opacity="0.75"/><circle cx="606.7" cy="285.06" r="0.38" fill-opacity="0.35"/><circle cx="598.45" cy="274.88" r="0.68" fill-opacity="1.00"/><circle cx="624.33" cy="291.66" r="0.3" fill-opacity="0.75"/><circle cx="605.44" cy="288.47" r="0.42" fill-opacity="0.35"/><circle cx="611.73" cy="270.99" r="0.59" fill-opacity="0.75"/><circle cx="608.5" cy="310.84" r="0.3" fill-opacity="0.35"/><circle cx="593.63" cy="304.87" r="1.02" fill-opacity="1.00"/><circle cx="592.46" cy="284.98" r="0.68" fill-opacity="0.35"/><circle cx="586.63" cy="287.48" r="0.59" fill-opacity="0.35"/><circle cx="586.58" cy="283.03" r="0.42" fill-opacity="1.00"/><circle cx="610.35" cy="306.07" r="0.42" fill-opacity="1.00"/><circle cx="609.39" cy="300.28" r="0.42" fill-opacity="0.35"/><circle cx="627.84" cy="282.17" r="0.81" fill-opacity="1.00"/><circle cx="622.89" cy="289.1" r="0.81" fill-opacity="0.35"/><circle cx="619.71" cy="279.63" r="0.51" fill-opacity="0.75"/><circle cx="616.61" cy="305.16" r="0.68" fill-opacity="0.90"/><circle cx="606.58" cy="310.97" r="0.68" fill-opacity="0.55"/><circle cx="624.45" cy="296.05" r="0.3" fill-opacity="0.75"/><circle cx="596.81" cy="272.66" r="0.3" fill-opacity="0.55"/><circle cx="612.44" cy="303.45" r="0.3" fill-opacity="0.35"/><circle cx="624.2" cy="293.92" r="0.59" fill-opacity="1.00"/><circle cx="607.84" cy="309.27" r="0.38" fill-opacity="0.75"/><circle cx="586.12" cy="280.09" r="0.42" fill-opacity="0.35"/><circle cx="584.67" cy="292.37" r="0.42" fill-opacity="0.90"/><circle cx="595.26" cy="283.07" r="0.59" fill-opacity="0.75"/><circle cx="608.04" cy="304.99" r="0.51" fill-opacity="1.00"/><circle cx="599.96" cy="290.26" r="0.68" fill-opacity="0.90"/><circle cx="625.53" cy="277.87" r="1.02" fill-opacity="0.90"/><circle cx="597.28" cy="272.05" r="0.81" fill-opacity="1.00"/><circle cx="600.46" cy="309.26" r="0.42" fill-opacity="0.55"/><circle cx="596.79" cy="278.97" r="0.59" fill-opacity="0.75"/><circle cx="624.85" cy="273.44" r="0.3" fill-opacity="0.35"/><circle cx="624.49" cy="284.76" r="0.3" fill-opacity="1.00"/><circle cx="600.03" cy="284.76" r="0.38" fill-opacity="1.00"/><circle cx="617.78" cy="270.32" r="0.68" fill-opacity="1.00"/><circle cx="598.23" cy="296.67" r="0.59" fill-opacity="1.00"/><circle cx="594" cy="294.41" r="0.42" fill-opacity="0.90"/><circle cx="619.14" cy="292.14" r="1.02" fill-opacity="0.90"/><circle cx="629.11" cy="291.44" r="0.81" fill-opacity="0.75"/><circle cx="624.56" cy="293.23" r="0.81" fill-opacity="0.90"/><circle cx="615.45" cy="277.08" r="0.68" fill-opacity="0.75"/><circle cx="598.26" cy="289.12" r="0.81" fill-opacity="1.00"/><circle cx="596.69" cy="302.33" r="1.02" fill-opacity="0.90"/><circle cx="602.87" cy="271.82" r="0.59" fill-opacity="0.55"/><circle cx="602.44" cy="281.58" r="0.51" fill-opacity="0.35"/><circle cx="621.97" cy="279.2" r="0.51" fill-opacity="0.75"/><circle cx="590.74" cy="284.08" r="0.3" fill-opacity="0.35"/><circle cx="582.8" cy="291.09" r="1.02" fill-opacity="0.75"/><circle cx="606.58" cy="288.67" r="0.81" fill-opacity="0.90"/><circle cx="603.89" cy="264.56" r="0.68" fill-opacity="0.90"/><circle cx="606.98" cy="267.51" r="0.68" fill-opacity="1.00"/><circle cx="600.69" cy="290.9" r="0.42" fill-opacity="0.55"/><circle cx="629.2" cy="287.13" r="1.02" fill-opacity="1.00"/><circle cx="625.9" cy="292.22" r="0.38" fill-opacity="0.55"/><circle cx="598.75" cy="281.05" r="0.38" fill-opacity="0.75"/><circle cx="606.34" cy="268.09" r="0.59" fill-opacity="1.00"/><circle cx="597.77" cy="309.83" r="0.81" fill-opacity="1.00"/><circle cx="588.31" cy="277.17" r="0.51" fill-opacity="1.00"/><circle cx="625.59" cy="283.36" r="0.3" fill-opacity="1.00"/><circle cx="608.99" cy="267.89" r="0.3" fill-opacity="1.00"/><circle cx="601.22" cy="302.35" r="0.59" fill-opacity="1.00"/><circle cx="595.81" cy="305.11" r="0.3" fill-opacity="1.00"/><circle cx="619.31" cy="291.19" r="0.42" fill-opacity="1.00"/><circle cx="590.45" cy="292.95" r="0.42" fill-opacity="0.55"/><circle cx="606.63" cy="288.28" r="0.3" fill-opacity="0.35"/><circle cx="605.22" cy="286.16" r="0.81" fill-opacity="0.35"/><circle cx="613.3" cy="297.14" r="0.68" fill-opacity="0.55"/><circle cx="616.6" cy="280.4" r="0.42" fill-opacity="0.35"/><circle cx="593.89" cy="267.53" r="0.38" fill-opacity="0.75"/><circle cx="590.1" cy="294.07" r="0.3" fill-opacity="0.35"/><circle cx="591.53" cy="282.54" r="0.3" fill-opacity="0.90"/><circle cx="591.68" cy="270.57" r="0.42" fill-opacity="0.75"/><circle cx="603.45" cy="283.67" r="0.59" fill-opacity="0.90"/><circle cx="614.67" cy="296.65" r="0.51" fill-opacity="0.90"/><circle cx="596.04" cy="306.79" r="1.02" fill-opacity="0.35"/><circle cx="620.51" cy="274.82" r="0.42" fill-opacity="0.55"/><circle cx="598.53" cy="271.94" r="0.59" fill-opacity="0.90"/><circle cx="608.81" cy="268.31" r="0.81" fill-opacity="0.75"/><circle cx="600.8" cy="265.81" r="0.38" fill-opacity="0.90"/><circle cx="622.19" cy="280.27" r="0.51" fill-opacity="0.90"/><circle cx="590.07" cy="276.85" r="0.51" fill-opacity="0.90"/><circle cx="597.68" cy="270.39" r="0.42" fill-opacity="0.35"/><circle cx="590.33" cy="290.07" r="0.42" fill-opacity="1.00"/><circle cx="602.83" cy="304.82" r="0.51" fill-opacity="0.55"/><circle cx="599.02" cy="273.45" r="0.81" fill-opacity="0.90"/><circle cx="612.24" cy="291.89" r="0.59" fill-opacity="0.90"/><circle cx="605.94" cy="274" r="1.02" fill-opacity="1.00"/><circle cx="587.03" cy="298.25" r="0.59" fill-opacity="1.00"/><circle cx="625.92" cy="292.23" r="0.68" fill-opacity="1.00"/><circle cx="592.86" cy="293.28" r="0.51" fill-opacity="0.55"/><circle cx="606.36" cy="289.96" r="0.59" fill-opacity="1.00"/><circle cx="619.45" cy="281.97" r="0.42" fill-opacity="0.75"/><circle cx="615.55" cy="301.77" r="0.51" fill-opacity="0.75"/><circle cx="621.14" cy="300.88" r="0.51" fill-opacity="0.35"/><circle cx="616.77" cy="266.95" r="0.59" fill-opacity="0.55"/><circle cx="621.73" cy="282.69" r="0.68" fill-opacity="0.90"/><circle cx="623.12" cy="286" r="0.42" fill-opacity="0.75"/><circle cx="589.33" cy="281.05" r="0.68" fill-opacity="0.90"/></g>
<circle cx="501.7" cy="338.3" r="25.3" fill="url(#pg)"/>
<g fill="#5a32b8"><circle cx="496.67" cy="358.85" r="0.5" fill-opacity="0.55"/><circle cx="491.15" cy="326.71" r="0.66" fill-opacity="1.00"/><circle cx="510.68" cy="333.48" r="0.55" fill-opacity="0.90"/><circle cx="486.42" cy="328.34" r="1.04" fill-opacity="1.00"/><circle cx="508.7" cy="322.09" r="0.66" fill-opacity="1.00"/><circle cx="501.59" cy="339.35" r="1.04" fill-opacity="1.00"/><circle cx="511.03" cy="330.66" r="0.39" fill-opacity="0.35"/><circle cx="518.61" cy="352.29" r="0.77" fill-opacity="0.35"/><circle cx="520.68" cy="342.61" r="0.39" fill-opacity="0.55"/><circle cx="492.52" cy="352.32" r="0.88" fill-opacity="1.00"/><circle cx="522.63" cy="334.11" r="1.04" fill-opacity="1.00"/><circle cx="507.54" cy="324.17" r="0.5" fill-opacity="0.75"/><circle cx="524.29" cy="334.45" r="0.88" fill-opacity="1.00"/><circle cx="501.86" cy="347.83" r="1.32" fill-opacity="1.00"/><circle cx="498.07" cy="338.9" r="0.55" fill-opacity="0.90"/><circle cx="511.96" cy="353.77" r="0.77" fill-opacity="0.55"/><circle cx="504.05" cy="362.05" r="0.66" fill-opacity="1.00"/><circle cx="484.9" cy="330.57" r="0.5" fill-opacity="0.55"/><circle cx="508.61" cy="319.94" r="1.32" fill-opacity="1.00"/><circle cx="500.83" cy="348.7" r="0.39" fill-opacity="1.00"/><circle cx="511.39" cy="319.73" r="0.88" fill-opacity="1.00"/><circle cx="491.55" cy="357.77" r="0.55" fill-opacity="1.00"/><circle cx="504.9" cy="329.88" r="0.5" fill-opacity="1.00"/><circle cx="497.89" cy="360.63" r="0.55" fill-opacity="1.00"/><circle cx="496.95" cy="323.44" r="0.77" fill-opacity="0.35"/><circle cx="494.64" cy="323.45" r="0.39" fill-opacity="0.75"/><circle cx="491.78" cy="318.6" r="0.77" fill-opacity="0.90"/><circle cx="498.92" cy="341.8" r="0.77" fill-opacity="0.55"/><circle cx="504.61" cy="315.31" r="1.32" fill-opacity="0.90"/><circle cx="480.65" cy="349.29" r="0.77" fill-opacity="0.35"/><circle cx="509.04" cy="361.41" r="1.32" fill-opacity="0.55"/><circle cx="516.06" cy="329.28" r="0.88" fill-opacity="0.35"/><circle cx="509.01" cy="344.76" r="0.77" fill-opacity="1.00"/><circle cx="488.85" cy="320.02" r="0.39" fill-opacity="0.35"/><circle cx="515.59" cy="355.48" r="0.77" fill-opacity="0.75"/><circle cx="485.8" cy="345.29" r="0.55" fill-opacity="0.35"/><circle cx="516.1" cy="355.02" r="0.88" fill-opacity="0.90"/><circle cx="485.74" cy="354.76" r="0.88" fill-opacity="0.55"/><circle cx="495.05" cy="340.89" r="0.88" fill-opacity="0.75"/><circle cx="505.08" cy="344.79" r="1.04" fill-opacity="0.35"/><circle cx="524.21" cy="338.02" r="1.32" fill-opacity="1.00"/><circle cx="484.37" cy="328.16" r="0.5" fill-opacity="0.55"/><circle cx="511.21" cy="321.28" r="1.32" fill-opacity="1.00"/><circle cx="478.42" cy="335.24" r="0.66" fill-opacity="0.55"/><circle cx="516.22" cy="334.53" r="0.77" fill-opacity="0.35"/><circle cx="509.88" cy="339.04" r="1.04" fill-opacity="0.75"/><circle cx="513.07" cy="332.17" r="0.39" fill-opacity="0.90"/><circle cx="517.09" cy="347.17" r="0.66" fill-opacity="0.90"/><circle cx="480.7" cy="329.38" r="1.32" fill-opacity="0.90"/><circle cx="525.07" cy="344.37" r="0.39" fill-opacity="1.00"/><circle cx="510.63" cy="343.82" r="0.77" fill-opacity="1.00"/><circle cx="505.3" cy="361.21" r="1.32" fill-opacity="1.00"/><circle cx="509.16" cy="328.15" r="0.88" fill-opacity="1.00"/><circle cx="485.96" cy="347.34" r="1.32" fill-opacity="1.00"/><circle cx="480.71" cy="346.42" r="0.88" fill-opacity="1.00"/><circle cx="505.79" cy="334.07" r="0.66" fill-opacity="1.00"/><circle cx="498.73" cy="326.21" r="0.66" fill-opacity="0.55"/><circle cx="514.34" cy="324.2" r="0.77" fill-opacity="1.00"/><circle cx="481.21" cy="339.86" r="0.77" fill-opacity="1.00"/><circle cx="501.16" cy="341.03" r="0.66" fill-opacity="1.00"/><circle cx="505.38" cy="318.72" r="0.5" fill-opacity="0.90"/><circle cx="510.78" cy="353.5" r="0.55" fill-opacity="1.00"/><circle cx="504.26" cy="349.16" r="0.5" fill-opacity="1.00"/><circle cx="496.23" cy="321.67" r="0.66" fill-opacity="1.00"/><circle cx="500.44" cy="317.71" r="0.88" fill-opacity="1.00"/><circle cx="506.47" cy="323.78" r="0.77" fill-opacity="0.35"/><circle cx="512.2" cy="334.55" r="0.5" fill-opacity="1.00"/><circle cx="482.2" cy="349.85" r="0.88" fill-opacity="0.55"/><circle cx="494.97" cy="355.58" r="0.39" fill-opacity="0.75"/><circle cx="482.61" cy="331.87" r="0.88" fill-opacity="1.00"/><circle cx="501.14" cy="354.32" r="0.88" fill-opacity="0.35"/><circle cx="494.4" cy="329.56" r="0.5" fill-opacity="0.35"/><circle cx="523.22" cy="347.17" r="0.77" fill-opacity="0.75"/><circle cx="486.17" cy="335.61" r="1.32" fill-opacity="0.35"/><circle cx="516.43" cy="337.7" r="0.5" fill-opacity="0.75"/><circle cx="485.77" cy="341.04" r="0.77" fill-opacity="1.00"/><circle cx="510.28" cy="355.31" r="0.77" fill-opacity="1.00"/><circle cx="490" cy="335.47" r="0.39" fill-opacity="0.75"/><circle cx="500.89" cy="314.6" r="0.39" fill-opacity="0.35"/><circle cx="485.62" cy="354.41" r="1.04" fill-opacity="0.90"/><circle cx="499.1" cy="324.6" r="0.5" fill-opacity="0.75"/><circle cx="493.06" cy="323.95" r="0.55" fill-opacity="1.00"/><circle cx="508.01" cy="323.7" r="0.88" fill-opacity="1.00"/><circle cx="500.07" cy="342.2" r="1.04" fill-opacity="0.75"/><circle cx="492.31" cy="329.98" r="1.32" fill-opacity="0.75"/><circle cx="487.87" cy="325.59" r="0.39" fill-opacity="1.00"/><circle cx="483.78" cy="346.95" r="0.77" fill-opacity="0.90"/><circle cx="490.23" cy="338.3" r="0.77" fill-opacity="0.75"/><circle cx="505.19" cy="339.72" r="0.55" fill-opacity="1.00"/><circle cx="478.13" cy="341.37" r="0.5" fill-opacity="0.55"/><circle cx="515.58" cy="345.03" r="0.5" fill-opacity="0.75"/><circle cx="516.47" cy="353.13" r="0.66" fill-opacity="0.55"/><circle cx="510.88" cy="328.38" r="0.88" fill-opacity="1.00"/><circle cx="494.75" cy="356.17" r="0.66" fill-opacity="0.75"/><circle cx="520.57" cy="349.21" r="0.88" fill-opacity="0.35"/><circle cx="512.03" cy="346.99" r="1.32" fill-opacity="1.00"/><circle cx="494.98" cy="325.32" r="0.66" fill-opacity="0.75"/><circle cx="484.03" cy="323.39" r="1.32" fill-opacity="0.90"/><circle cx="498.94" cy="341.78" r="0.77" fill-opacity="0.55"/><circle cx="506.09" cy="320.28" r="0.77" fill-opacity="0.75"/><circle cx="513.17" cy="340.89" r="0.88" fill-opacity="0.35"/><circle cx="523.01" cy="342.52" r="0.5" fill-opacity="1.00"/><circle cx="485.44" cy="342.37" r="1.32" fill-opacity="0.75"/><circle cx="512.89" cy="359.65" r="1.32" fill-opacity="0.75"/><circle cx="521.89" cy="326.96" r="0.77" fill-opacity="1.00"/><circle cx="489.96" cy="348.64" r="0.66" fill-opacity="0.35"/><circle cx="496.62" cy="323.14" r="0.77" fill-opacity="1.00"/><circle cx="509.19" cy="322.95" r="0.39" fill-opacity="0.55"/><circle cx="506.81" cy="317.01" r="0.88" fill-opacity="1.00"/><circle cx="483.32" cy="322.52" r="0.39" fill-opacity="1.00"/><circle cx="492.67" cy="356.91" r="0.39" fill-opacity="1.00"/><circle cx="501.01" cy="343.86" r="0.88" fill-opacity="0.55"/><circle cx="479.31" cy="333.96" r="0.39" fill-opacity="0.35"/><circle cx="508.09" cy="329.93" r="1.32" fill-opacity="1.00"/><circle cx="496.62" cy="360.58" r="0.39" fill-opacity="0.35"/><circle cx="523.22" cy="341.55" r="0.88" fill-opacity="0.35"/><circle cx="497.41" cy="348.93" r="0.88" fill-opacity="0.55"/><circle cx="483.62" cy="351.82" r="0.5" fill-opacity="0.75"/><circle cx="517.59" cy="334.42" r="0.55" fill-opacity="1.00"/><circle cx="488.04" cy="344.31" r="1.32" fill-opacity="0.35"/><circle cx="515.67" cy="328.65" r="1.32" fill-opacity="1.00"/><circle cx="490.48" cy="339.48" r="0.77" fill-opacity="0.55"/><circle cx="489.2" cy="341.24" r="0.5" fill-opacity="1.00"/><circle cx="484.02" cy="344.82" r="1.04" fill-opacity="0.35"/><circle cx="523.81" cy="344.61" r="0.5" fill-opacity="0.35"/><circle cx="503.89" cy="323.37" r="0.55" fill-opacity="0.75"/><circle cx="523.95" cy="331.5" r="0.55" fill-opacity="0.55"/><circle cx="515.82" cy="339.74" r="0.88" fill-opacity="1.00"/><circle cx="501.65" cy="345.19" r="0.88" fill-opacity="0.90"/><circle cx="499.68" cy="329.39" r="0.39" fill-opacity="0.35"/><circle cx="510.52" cy="330.74" r="0.66" fill-opacity="1.00"/><circle cx="495.43" cy="358.9" r="1.04" fill-opacity="1.00"/><circle cx="508.13" cy="324.34" r="0.77" fill-opacity="0.35"/><circle cx="489.67" cy="334.95" r="0.66" fill-opacity="0.75"/><circle cx="486.68" cy="351.41" r="0.77" fill-opacity="0.75"/><circle cx="520.9" cy="338.23" r="0.55" fill-opacity="0.90"/><circle cx="489.92" cy="351.03" r="0.77" fill-opacity="0.75"/><circle cx="520.53" cy="325.64" r="0.88" fill-opacity="1.00"/><circle cx="507.28" cy="361.42" r="0.66" fill-opacity="1.00"/><circle cx="519.48" cy="350.22" r="0.39" fill-opacity="0.90"/><circle cx="513.64" cy="317.94" r="0.55" fill-opacity="0.90"/><circle cx="510.95" cy="317.57" r="0.88" fill-opacity="1.00"/><circle cx="522.88" cy="349.25" r="0.88" fill-opacity="0.35"/><circle cx="506.01" cy="323.19" r="0.39" fill-opacity="0.35"/><circle cx="483.22" cy="343.12" r="1.04" fill-opacity="1.00"/><circle cx="501.06" cy="319.87" r="1.04" fill-opacity="0.35"/><circle cx="485.46" cy="347.68" r="0.55" fill-opacity="1.00"/><circle cx="513.75" cy="338.34" r="0.5" fill-opacity="1.00"/><circle cx="494.29" cy="338.11" r="0.5" fill-opacity="0.75"/><circle cx="480.06" cy="348.6" r="0.39" fill-opacity="0.75"/><circle cx="489.92" cy="329.48" r="0.39" fill-opacity="1.00"/><circle cx="499.36" cy="327.28" r="0.88" fill-opacity="1.00"/><circle cx="514.11" cy="326.59" r="1.04" fill-opacity="0.75"/><circle cx="503.72" cy="332.38" r="0.55" fill-opacity="0.90"/><circle cx="514.9" cy="357.61" r="0.55" fill-opacity="1.00"/><circle cx="507.31" cy="332.07" r="0.66" fill-opacity="0.55"/><circle cx="509.97" cy="317.39" r="0.39" fill-opacity="1.00"/><circle cx="492.81" cy="345.7" r="0.88" fill-opacity="0.90"/><circle cx="514.16" cy="356.19" r="0.88" fill-opacity="1.00"/><circle cx="504.04" cy="332.22" r="1.04" fill-opacity="0.75"/><circle cx="512.44" cy="332.91" r="0.77" fill-opacity="1.00"/><circle cx="509.78" cy="354.81" r="0.5" fill-opacity="1.00"/><circle cx="516.74" cy="346.61" r="0.77" fill-opacity="0.75"/><circle cx="522.38" cy="336.95" r="0.88" fill-opacity="1.00"/><circle cx="506.23" cy="341.88" r="0.55" fill-opacity="0.35"/><circle cx="523.32" cy="339.75" r="0.66" fill-opacity="1.00"/><circle cx="484.96" cy="331.51" r="0.55" fill-opacity="0.55"/><circle cx="517.99" cy="336.29" r="0.39" fill-opacity="0.75"/><circle cx="495.69" cy="355.11" r="1.04" fill-opacity="0.35"/><circle cx="497.15" cy="348.55" r="1.04" fill-opacity="0.35"/><circle cx="494.86" cy="346.55" r="0.77" fill-opacity="0.90"/><circle cx="509.91" cy="326.92" r="0.77" fill-opacity="0.90"/><circle cx="511.57" cy="335.74" r="1.32" fill-opacity="1.00"/><circle cx="516.79" cy="351.4" r="0.55" fill-opacity="0.35"/><circle cx="510.82" cy="331.57" r="0.66" fill-opacity="1.00"/><circle cx="495.16" cy="330.21" r="1.04" fill-opacity="0.75"/><circle cx="505.27" cy="315.92" r="0.55" fill-opacity="0.75"/><circle cx="512.74" cy="326.89" r="0.88" fill-opacity="0.75"/><circle cx="488.64" cy="355.21" r="0.5" fill-opacity="1.00"/><circle cx="508.59" cy="356.46" r="0.66" fill-opacity="0.55"/><circle cx="497.81" cy="353.09" r="0.88" fill-opacity="0.35"/><circle cx="512.7" cy="332.01" r="0.39" fill-opacity="1.00"/><circle cx="498.21" cy="343.74" r="0.77" fill-opacity="0.75"/><circle cx="488.47" cy="355.99" r="0.55" fill-opacity="1.00"/><circle cx="512.42" cy="331.84" r="0.66" fill-opacity="0.75"/><circle cx="498.94" cy="332.9" r="1.04" fill-opacity="0.90"/><circle cx="523.75" cy="345.54" r="0.39" fill-opacity="0.35"/><circle cx="506.39" cy="336.4" r="1.32" fill-opacity="1.00"/><circle cx="518.88" cy="333.99" r="1.32" fill-opacity="0.55"/><circle cx="521.45" cy="335.26" r="1.32" fill-opacity="0.55"/><circle cx="502.3" cy="354.73" r="0.66" fill-opacity="1.00"/><circle cx="486.53" cy="340.41" r="0.77" fill-opacity="1.00"/><circle cx="493.11" cy="332.61" r="1.32" fill-opacity="0.35"/><circle cx="501.55" cy="355.92" r="0.66" fill-opacity="1.00"/><circle cx="499.39" cy="354.69" r="0.66" fill-opacity="1.00"/><circle cx="493.38" cy="356.67" r="1.04" fill-opacity="1.00"/><circle cx="483.5" cy="333.59" r="0.39" fill-opacity="1.00"/><circle cx="483.76" cy="329.92" r="0.39" fill-opacity="0.55"/><circle cx="489.67" cy="328.84" r="0.77" fill-opacity="1.00"/><circle cx="519.86" cy="341.12" r="1.04" fill-opacity="1.00"/><circle cx="520.26" cy="353.58" r="0.77" fill-opacity="0.75"/><circle cx="503.56" cy="331.91" r="1.32" fill-opacity="1.00"/><circle cx="501.14" cy="342.54" r="0.88" fill-opacity="0.75"/><circle cx="504.54" cy="315.59" r="0.88" fill-opacity="0.35"/><circle cx="503.37" cy="333.69" r="0.88" fill-opacity="0.35"/><circle cx="490.24" cy="353.28" r="0.77" fill-opacity="0.55"/><circle cx="512.35" cy="353.6" r="1.32" fill-opacity="0.90"/><circle cx="523.7" cy="335.51" r="0.66" fill-opacity="0.35"/><circle cx="512.9" cy="350.3" r="0.55" fill-opacity="0.90"/><circle cx="487.57" cy="349.45" r="0.77" fill-opacity="0.55"/><circle cx="503.44" cy="321.04" r="0.66" fill-opacity="1.00"/><circle cx="497.38" cy="346.34" r="0.77" fill-opacity="1.00"/><circle cx="522.24" cy="347.71" r="0.55" fill-opacity="0.35"/><circle cx="484.5" cy="335.58" r="0.66" fill-opacity="1.00"/><circle cx="516.74" cy="348.77" r="0.55" fill-opacity="0.75"/><circle cx="522.54" cy="329.41" r="0.66" fill-opacity="0.55"/><circle cx="524.25" cy="346.67" r="0.66" fill-opacity="0.90"/><circle cx="484.29" cy="327.73" r="0.5" fill-opacity="0.55"/><circle cx="499.9" cy="349.85" r="1.04" fill-opacity="0.75"/><circle cx="510.75" cy="318.79" r="0.88" fill-opacity="0.35"/><circle cx="509.67" cy="323.65" r="0.5" fill-opacity="0.75"/><circle cx="490.57" cy="328.33" r="0.5" fill-opacity="0.55"/><circle cx="483.47" cy="326.72" r="0.66" fill-opacity="1.00"/><circle cx="506.7" cy="361.95" r="0.88" fill-opacity="0.55"/><circle cx="524.19" cy="346.22" r="0.39" fill-opacity="0.55"/><circle cx="493.26" cy="335.75" r="0.66" fill-opacity="0.75"/><circle cx="513.96" cy="322.05" r="0.77" fill-opacity="0.35"/><circle cx="513.02" cy="336.02" r="0.5" fill-opacity="0.55"/><circle cx="506.54" cy="336.35" r="0.39" fill-opacity="0.35"/><circle cx="502.38" cy="317.92" r="0.55" fill-opacity="0.90"/><circle cx="505.65" cy="330.86" r="0.88" fill-opacity="1.00"/><circle cx="509.96" cy="321.29" r="0.55" fill-opacity="1.00"/><circle cx="524.04" cy="329.78" r="1.32" fill-opacity="0.75"/><circle cx="501.5" cy="340.12" r="0.5" fill-opacity="0.75"/><circle cx="500.07" cy="321.3" r="0.39" fill-opacity="1.00"/><circle cx="490.74" cy="341.1" r="0.55" fill-opacity="0.55"/><circle cx="513.16" cy="340.06" r="0.66" fill-opacity="0.35"/><circle cx="501.11" cy="353.03" r="0.66" fill-opacity="1.00"/><circle cx="514.03" cy="317.4" r="0.55" fill-opacity="0.55"/><circle cx="497.85" cy="344.59" r="0.5" fill-opacity="0.75"/><circle cx="505.23" cy="319.11" r="0.66" fill-opacity="0.55"/><circle cx="488.72" cy="352.21" r="0.39" fill-opacity="0.55"/><circle cx="480.1" cy="330.07" r="0.5" fill-opacity="0.35"/><circle cx="487.27" cy="352.11" r="0.55" fill-opacity="0.75"/><circle cx="493.71" cy="354.01" r="1.32" fill-opacity="1.00"/><circle cx="523.98" cy="333.85" r="1.04" fill-opacity="0.35"/><circle cx="513.53" cy="347.35" r="0.55" fill-opacity="0.75"/><circle cx="515.37" cy="323.31" r="0.66" fill-opacity="1.00"/><circle cx="500.67" cy="338.16" r="0.88" fill-opacity="0.35"/><circle cx="514.42" cy="345.2" r="0.66" fill-opacity="1.00"/><circle cx="478.95" cy="331.5" r="1.04" fill-opacity="0.35"/><circle cx="505.89" cy="353.65" r="1.32" fill-opacity="1.00"/><circle cx="515.47" cy="338.11" r="0.77" fill-opacity="1.00"/><circle cx="514.1" cy="355.12" r="0.55" fill-opacity="0.90"/><circle cx="495.92" cy="345.37" r="0.77" fill-opacity="1.00"/><circle cx="525.02" cy="339.9" r="0.5" fill-opacity="0.35"/><circle cx="489.15" cy="355.42" r="0.66" fill-opacity="0.55"/><circle cx="486.42" cy="336.17" r="0.66" fill-opacity="0.90"/><circle cx="505.5" cy="360.22" r="0.39" fill-opacity="0.90"/><circle cx="509.98" cy="332.98" r="0.88" fill-opacity="0.90"/><circle cx="496.96" cy="317.41" r="0.88" fill-opacity="1.00"/><circle cx="506.5" cy="355.32" r="0.77" fill-opacity="0.35"/><circle cx="491.6" cy="343.55" r="0.5" fill-opacity="0.90"/><circle cx="497.58" cy="343.6" r="1.32" fill-opacity="0.55"/><circle cx="493.37" cy="323.81" r="0.88" fill-opacity="0.90"/><circle cx="519.13" cy="344.34" r="0.77" fill-opacity="0.75"/><circle cx="480.85" cy="326.71" r="1.32" fill-opacity="0.90"/><circle cx="509.85" cy="353.84" r="0.5" fill-opacity="0.55"/><circle cx="518.04" cy="322.32" r="0.77" fill-opacity="0.75"/><circle cx="524.86" cy="331.34" r="0.66" fill-opacity="0.75"/><circle cx="521.43" cy="343.88" r="1.04" fill-opacity="0.75"/><circle cx="501.68" cy="361.36" r="0.66" fill-opacity="0.55"/><circle cx="488.84" cy="341.6" r="0.77" fill-opacity="1.00"/><circle cx="494.23" cy="318.11" r="1.04" fill-opacity="0.55"/><circle cx="510.12" cy="316.84" r="0.88" fill-opacity="0.90"/><circle cx="489.88" cy="327.97" r="0.77" fill-opacity="1.00"/><circle cx="512.29" cy="347.73" r="0.39" fill-opacity="1.00"/><circle cx="501.6" cy="331.4" r="0.39" fill-opacity="0.35"/><circle cx="482.42" cy="332.08" r="0.77" fill-opacity="1.00"/><circle cx="521.49" cy="349.88" r="1.32" fill-opacity="0.35"/><circle cx="524.38" cy="337.41" r="0.39" fill-opacity="0.75"/><circle cx="483.71" cy="342.73" r="0.39" fill-opacity="0.90"/><circle cx="485.18" cy="342.83" r="0.77" fill-opacity="1.00"/><circle cx="514.98" cy="327.73" r="0.39" fill-opacity="0.90"/><circle cx="504.14" cy="333.62" r="0.5" fill-opacity="1.00"/><circle cx="508.76" cy="337.95" r="0.88" fill-opacity="1.00"/><circle cx="522.08" cy="329.4" r="1.32" fill-opacity="0.35"/><circle cx="516.56" cy="330.57" r="0.55" fill-opacity="0.55"/><circle cx="502.51" cy="357.4" r="0.55" fill-opacity="0.75"/><circle cx="513.76" cy="321.64" r="0.77" fill-opacity="0.35"/><circle cx="506.12" cy="362.16" r="0.88" fill-opacity="1.00"/><circle cx="485.87" cy="328.66" r="1.32" fill-opacity="0.55"/><circle cx="507.81" cy="359.96" r="1.04" fill-opacity="0.35"/><circle cx="510.89" cy="331.31" r="0.88" fill-opacity="0.90"/><circle cx="516.54" cy="336.91" r="0.5" fill-opacity="0.55"/><circle cx="523.25" cy="344.51" r="1.04" fill-opacity="1.00"/><circle cx="503.51" cy="346.46" r="1.04" fill-opacity="0.35"/><circle cx="490.33" cy="331.35" r="1.04" fill-opacity="1.00"/><circle cx="517.44" cy="356.08" r="0.5" fill-opacity="0.75"/><circle cx="503.33" cy="348.32" r="0.77" fill-opacity="0.75"/><circle cx="506.87" cy="331.21" r="0.66" fill-opacity="0.35"/><circle cx="506.9" cy="354.91" r="0.5" fill-opacity="0.75"/><circle cx="484.8" cy="321.93" r="0.5" fill-opacity="0.90"/><circle cx="496.36" cy="360.58" r="0.88" fill-opacity="0.90"/><circle cx="496.26" cy="353.77" r="0.88" fill-opacity="0.55"/><circle cx="512.44" cy="320.26" r="1.04" fill-opacity="1.00"/><circle cx="523.32" cy="327.61" r="0.66" fill-opacity="0.75"/><circle cx="510.9" cy="359.78" r="0.5" fill-opacity="1.00"/><circle cx="488.32" cy="334.89" r="0.66" fill-opacity="1.00"/><circle cx="513.27" cy="352.73" r="0.55" fill-opacity="0.55"/><circle cx="487.64" cy="355.99" r="0.66" fill-opacity="1.00"/><circle cx="482.72" cy="327.3" r="0.39" fill-opacity="1.00"/><circle cx="495.68" cy="327.55" r="1.04" fill-opacity="1.00"/><circle cx="521.75" cy="349.03" r="0.77" fill-opacity="1.00"/><circle cx="487.18" cy="324.33" r="0.5" fill-opacity="0.75"/><circle cx="516.99" cy="331.2" r="0.5" fill-opacity="0.35"/><circle cx="518.83" cy="329.45" r="0.39" fill-opacity="0.90"/><circle cx="508.24" cy="320.02" r="0.77" fill-opacity="1.00"/><circle cx="479.39" cy="335.55" r="0.39" fill-opacity="0.35"/><circle cx="503.62" cy="336.66" r="1.32" fill-opacity="0.55"/><circle cx="525.21" cy="339.85" r="0.66" fill-opacity="0.55"/><circle cx="504.56" cy="354.52" r="0.77" fill-opacity="1.00"/><circle cx="503.58" cy="314.54" r="0.55" fill-opacity="0.35"/><circle cx="517.43" cy="326.56" r="0.88" fill-opacity="0.35"/><circle cx="496.15" cy="361.3" r="1.04" fill-opacity="0.55"/><circle cx="510.14" cy="357.62" r="0.39" fill-opacity="0.75"/><circle cx="500.58" cy="319.77" r="1.32" fill-opacity="1.00"/><circle cx="520.95" cy="344.25" r="0.66" fill-opacity="0.75"/><circle cx="507.55" cy="318.66" r="0.55" fill-opacity="0.75"/><circle cx="515.74" cy="352.99" r="0.66" fill-opacity="0.75"/><circle cx="486.58" cy="351.23" r="0.77" fill-opacity="1.00"/><circle cx="513.81" cy="344.02" r="0.39" fill-opacity="0.35"/><circle cx="494.31" cy="334.15" r="0.77" fill-opacity="1.00"/><circle cx="494.38" cy="321.28" r="0.88" fill-opacity="0.75"/><circle cx="485.26" cy="330.98" r="0.39" fill-opacity="1.00"/><circle cx="499.43" cy="318.17" r="0.5" fill-opacity="0.55"/><circle cx="494.81" cy="357.74" r="1.32" fill-opacity="0.35"/><circle cx="500.5" cy="354.59" r="0.55" fill-opacity="0.35"/><circle cx="503.13" cy="325.71" r="1.04" fill-opacity="0.55"/><circle cx="494.3" cy="346.21" r="0.66" fill-opacity="1.00"/></g>
<circle cx="553.5" cy="338.3" r="25.3" fill="url(#pg)"/>
<g fill="#5a32b8"><circle cx="542.28" cy="354.24" r="0.81" fill-opacity="1.00"/><circle cx="564.92" cy="321.14" r="0.81" fill-opacity="0.55"/><circle cx="565.03" cy="339.88" r="0.3" fill-opacity="0.35"/><circle cx="538.52" cy="341.99" r="0.38" fill-opacity="0.75"/><circle cx="545.33" cy="341.31" r="1.02" fill-opacity="0.90"/><circle cx="546.14" cy="357.56" r="0.38" fill-opacity="1.00"/><circle cx="550.47" cy="341.95" r="1.02" fill-opacity="0.35"/><circle cx="557.05" cy="349.39" r="1.02" fill-opacity="0.55"/><circle cx="548.45" cy="347.05" r="0.51" fill-opacity="1.00"/><circle cx="561.07" cy="348.02" r="1.02" fill-opacity="1.00"/><circle cx="558.51" cy="316.17" r="0.51" fill-opacity="0.55"/><circle cx="565.91" cy="324.34" r="0.3" fill-opacity="0.55"/><circle cx="562.2" cy="360.08" r="0.81" fill-opacity="0.75"/><circle cx="530.29" cy="336.68" r="1.02" fill-opacity="0.35"/><circle cx="566.63" cy="357.65" r="0.38" fill-opacity="0.55"/><circle cx="535.45" cy="339.77" r="0.68" fill-opacity="0.35"/><circle cx="554" cy="361.41" r="0.81" fill-opacity="0.35"/><circle cx="561" cy="317.33" r="0.38" fill-opacity="1.00"/><circle cx="530.94" cy="340.6" r="0.59" fill-opacity="0.90"/><circle cx="570.18" cy="354.06" r="1.02" fill-opacity="0.55"/><circle cx="534.38" cy="345.89" r="0.51" fill-opacity="1.00"/><circle cx="549.91" cy="318.59" r="0.38" fill-opacity="1.00"/><circle cx="554.5" cy="347.29" r="0.38" fill-opacity="1.00"/><circle cx="540.29" cy="357.6" r="0.38" fill-opacity="0.35"/><circle cx="546.8" cy="328.32" r="0.59" fill-opacity="0.55"/><circle cx="553.2" cy="342.16" r="0.68" fill-opacity="0.55"/><circle cx="533.95" cy="348.04" r="0.51" fill-opacity="1.00"/><circle cx="574.94" cy="342.07" r="0.51" fill-opacity="1.00"/><circle cx="565.1" cy="346.91" r="0.42" fill-opacity="0.90"/><circle cx="559.51" cy="327.84" r="0.59" fill-opacity="1.00"/><circle cx="534.99" cy="352.86" r="0.68" fill-opacity="0.35"/><circle cx="544.62" cy="317.79" r="1.02" fill-opacity="0.55"/><circle cx="566.29" cy="326.87" r="0.51" fill-opacity="0.35"/><circle cx="539.88" cy="357.85" r="0.68" fill-opacity="0.35"/><circle cx="567.18" cy="352.21" r="0.68" fill-opacity="0.35"/><circle cx="555.12" cy="318.31" r="0.68" fill-opacity="0.90"/><circle cx="559.93" cy="331.58" r="0.38" fill-opacity="0.90"/><circle cx="536.35" cy="339.86" r="0.51" fill-opacity="0.90"/><circle cx="575.33" cy="339.25" r="0.38" fill-opacity="1.00"/><circle cx="538.95" cy="327.54" r="0.3" fill-opacity="1.00"/><circle cx="541.37" cy="349.22" r="0.42" fill-opacity="1.00"/><circle cx="550.36" cy="347.76" r="0.59" fill-opacity="0.90"/><circle cx="540.77" cy="326.01" r="0.3" fill-opacity="0.35"/><circle cx="563.17" cy="323.59" r="0.59" fill-opacity="1.00"/><circle cx="558.11" cy="346.2" r="0.38" fill-opacity="1.00"/><circle cx="547.99" cy="316.94" r="0.38" fill-opacity="1.00"/><circle cx="553.18" cy="362.06" r="0.59" fill-opacity="0.90"/><circle cx="543.54" cy="333.69" r="0.42" fill-opacity="0.90"/><circle cx="571.78" cy="336.31" r="0.68" fill-opacity="0.55"/><circle cx="539.65" cy="356.26" r="0.68" fill-opacity="1.00"/><circle cx="545.18" cy="344.62" r="0.51" fill-opacity="0.35"/><circle cx="561.56" cy="342.7" r="0.59" fill-opacity="0.55"/><circle cx="530.51" cy="337.36" r="0.3" fill-opacity="0.90"/><circle cx="541.05" cy="317.5" r="0.51" fill-opacity="0.35"/><circle cx="564.77" cy="320" r="0.59" fill-opacity="0.75"/><circle cx="546.73" cy="339.47" r="0.38" fill-opacity="0.55"/><circle cx="573.06" cy="351.59" r="0.68" fill-opacity="0.55"/><circle cx="560.66" cy="336.87" r="0.3" fill-opacity="0.35"/><circle cx="533.24" cy="332.1" r="0.68" fill-opacity="0.55"/><circle cx="542.46" cy="336.91" r="1.02" fill-opacity="0.35"/><circle cx="533.76" cy="341.1" r="1.02" fill-opacity="0.35"/><circle cx="548.68" cy="337.54" r="0.42" fill-opacity="0.55"/><circle cx="549.75" cy="316.07" r="0.51" fill-opacity="0.35"/><circle cx="541.66" cy="335.46" r="0.51" fill-opacity="0.75"/><circle cx="556.27" cy="316.62" r="0.51" fill-opacity="0.90"/><circle cx="565.86" cy="341.48" r="0.81" fill-opacity="0.35"/><circle cx="531.23" cy="334.85" r="0.3" fill-opacity="0.55"/><circle cx="554.59" cy="338.83" r="0.68" fill-opacity="0.55"/><circle cx="533.34" cy="337.15" r="1.02" fill-opacity="0.90"/><circle cx="567.92" cy="319.67" r="1.02" fill-opacity="1.00"/><circle cx="544.28" cy="323.39" r="0.68" fill-opacity="0.35"/><circle cx="552.57" cy="322.11" r="0.3" fill-opacity="1.00"/><circle cx="561.24" cy="339.04" r="0.3" fill-opacity="1.00"/><circle cx="552" cy="350.47" r="0.51" fill-opacity="0.90"/><circle cx="561.82" cy="320.05" r="0.68" fill-opacity="0.55"/><circle cx="547.8" cy="357.88" r="0.68" fill-opacity="1.00"/><circle cx="561.42" cy="345.93" r="0.51" fill-opacity="0.35"/><circle cx="558.46" cy="358.62" r="0.38" fill-opacity="0.90"/><circle cx="550.41" cy="320.11" r="0.51" fill-opacity="0.75"/><circle cx="566.1" cy="342.52" r="0.38" fill-opacity="0.90"/><circle cx="546.41" cy="337.5" r="0.38" fill-opacity="0.90"/><circle cx="547.11" cy="356.18" r="1.02" fill-opacity="1.00"/><circle cx="539.15" cy="355.2" r="0.51" fill-opacity="0.75"/><circle cx="544.48" cy="333.59" r="0.68" fill-opacity="0.90"/><circle cx="547.12" cy="321.2" r="0.3" fill-opacity="0.55"/><circle cx="558.94" cy="326.05" r="1.02" fill-opacity="0.90"/><circle cx="556.63" cy="349.01" r="0.42" fill-opacity="0.75"/><circle cx="540.37" cy="319.1" r="0.81" fill-opacity="0.55"/><circle cx="535.04" cy="329.25" r="0.3" fill-opacity="0.55"/><circle cx="540.06" cy="321.48" r="1.02" fill-opacity="0.90"/><circle cx="541.01" cy="341.85" r="0.51" fill-opacity="0.55"/><circle cx="575.87" cy="333.63" r="0.3" fill-opacity="0.90"/><circle cx="572.24" cy="334.26" r="0.81" fill-opacity="0.75"/><circle cx="569.04" cy="346.06" r="0.38" fill-opacity="0.90"/><circle cx="540.53" cy="346.3" r="0.68" fill-opacity="1.00"/><circle cx="557.06" cy="322.19" r="0.59" fill-opacity="1.00"/><circle cx="540.17" cy="331.53" r="0.59" fill-opacity="1.00"/><circle cx="569.8" cy="348.47" r="0.3" fill-opacity="1.00"/><circle cx="562.73" cy="323.74" r="0.68" fill-opacity="0.35"/><circle cx="550.71" cy="330.21" r="0.42" fill-opacity="0.90"/><circle cx="539.99" cy="334.79" r="0.51" fill-opacity="1.00"/><circle cx="548.9" cy="361.66" r="0.51" fill-opacity="0.75"/><circle cx="565.4" cy="331.2" r="1.02" fill-opacity="0.75"/><circle cx="534.65" cy="324.26" r="0.51" fill-opacity="0.75"/><circle cx="533.92" cy="338.8" r="0.81" fill-opacity="1.00"/><circle cx="549.49" cy="316.94" r="1.02" fill-opacity="0.75"/><circle cx="557.39" cy="331" r="0.81" fill-opacity="0.75"/><circle cx="537.08" cy="337.37" r="0.3" fill-opacity="1.00"/><circle cx="562.4" cy="321.14" r="0.68" fill-opacity="0.35"/><circle cx="570.48" cy="345.49" r="0.51" fill-opacity="1.00"/><circle cx="558.16" cy="351.91" r="0.68" fill-opacity="0.75"/><circle cx="561.03" cy="321.27" r="0.38" fill-opacity="1.00"/><circle cx="551.22" cy="346.69" r="0.3" fill-opacity="0.55"/><circle cx="573.59" cy="343.13" r="0.81" fill-opacity="1.00"/><circle cx="556.57" cy="314.47" r="0.3" fill-opacity="0.55"/><circle cx="536.98" cy="321.83" r="0.51" fill-opacity="0.35"/><circle cx="551.98" cy="316.71" r="0.68" fill-opacity="0.75"/><circle cx="542.96" cy="350.82" r="0.59" fill-opacity="0.75"/><circle cx="559.78" cy="348.25" r="0.59" fill-opacity="0.55"/><circle cx="568.26" cy="349.88" r="0.68" fill-opacity="1.00"/><circle cx="553.08" cy="322.53" r="0.3" fill-opacity="0.55"/><circle cx="570.65" cy="334.39" r="0.59" fill-opacity="1.00"/><circle cx="531.85" cy="336.91" r="0.38" fill-opacity="1.00"/><circle cx="535.9" cy="353.17" r="1.02" fill-opacity="0.90"/><circle cx="568.24" cy="324.7" r="0.38" fill-opacity="1.00"/><circle cx="552.08" cy="335.03" r="0.3" fill-opacity="0.55"/><circle cx="570.7" cy="336.14" r="0.59" fill-opacity="1.00"/><circle cx="549.63" cy="339.98" r="0.3" fill-opacity="0.35"/><circle cx="554.15" cy="323.7" r="1.02" fill-opacity="1.00"/><circle cx="537.93" cy="322.31" r="0.59" fill-opacity="1.00"/><circle cx="531.34" cy="336.42" r="0.68" fill-opacity="1.00"/><circle cx="568.39" cy="328.67" r="0.68" fill-opacity="1.00"/><circle cx="559.03" cy="317.51" r="0.3" fill-opacity="0.75"/><circle cx="554.2" cy="320.65" r="0.51" fill-opacity="0.90"/><circle cx="567.92" cy="349.35" r="0.68" fill-opacity="1.00"/><circle cx="564.45" cy="339.78" r="0.38" fill-opacity="0.35"/><circle cx="561.54" cy="344.56" r="0.81" fill-opacity="0.90"/><circle cx="554.19" cy="335.75" r="1.02" fill-opacity="1.00"/><circle cx="549.37" cy="348.68" r="1.02" fill-opacity="1.00"/><circle cx="575.46" cy="344.31" r="0.38" fill-opacity="0.90"/><circle cx="575.94" cy="341.21" r="0.38" fill-opacity="0.90"/><circle cx="561.48" cy="356.13" r="0.68" fill-opacity="0.90"/><circle cx="554.5" cy="320.33" r="0.38" fill-opacity="1.00"/><circle cx="542.77" cy="351.86" r="0.42" fill-opacity="1.00"/><circle cx="536.5" cy="339.91" r="0.81" fill-opacity="0.55"/><circle cx="540.33" cy="332.58" r="0.81" fill-opacity="1.00"/><circle cx="545.3" cy="319.24" r="0.51" fill-opacity="0.90"/><circle cx="541.33" cy="350.48" r="0.81" fill-opacity="0.90"/><circle cx="539.66" cy="322.36" r="0.59" fill-opacity="0.90"/><circle cx="548.1" cy="323.21" r="0.42" fill-opacity="1.00"/><circle cx="545.35" cy="325.54" r="0.59" fill-opacity="1.00"/><circle cx="544.45" cy="321.74" r="0.68" fill-opacity="1.00"/><circle cx="537.69" cy="334.17" r="0.3" fill-opacity="0.55"/><circle cx="566.83" cy="343.69" r="0.3" fill-opacity="0.75"/><circle cx="539.73" cy="329.08" r="0.59" fill-opacity="0.75"/><circle cx="543.46" cy="344.26" r="0.81" fill-opacity="0.90"/><circle cx="566.47" cy="351.95" r="0.51" fill-opacity="1.00"/><circle cx="565.04" cy="351.19" r="0.59" fill-opacity="0.75"/><circle cx="553.73" cy="329.49" r="0.81" fill-opacity="0.75"/><circle cx="534.96" cy="340.28" r="0.68" fill-opacity="1.00"/><circle cx="569.72" cy="330.47" r="0.42" fill-opacity="0.75"/><circle cx="562.45" cy="346.01" r="0.3" fill-opacity="1.00"/><circle cx="551.99" cy="336.37" r="0.51" fill-opacity="1.00"/><circle cx="545.43" cy="325.62" r="0.38" fill-opacity="0.35"/><circle cx="568.51" cy="324.49" r="0.38" fill-opacity="1.00"/><circle cx="538.24" cy="336.38" r="0.81" fill-opacity="0.75"/><circle cx="543.88" cy="344.99" r="1.02" fill-opacity="0.75"/><circle cx="573.72" cy="350.13" r="0.59" fill-opacity="1.00"/><circle cx="572.42" cy="342.01" r="0.38" fill-opacity="1.00"/><circle cx="557.93" cy="354.96" r="0.38" fill-opacity="0.90"/><circle cx="538.75" cy="340.46" r="0.38" fill-opacity="1.00"/><circle cx="558.1" cy="334.88" r="0.42" fill-opacity="0.90"/><circle cx="542.92" cy="339.07" r="0.68" fill-opacity="0.35"/><circle cx="539.45" cy="350.69" r="0.3" fill-opacity="0.55"/><circle cx="546.76" cy="360.67" r="0.81" fill-opacity="0.55"/><circle cx="547.46" cy="348.92" r="0.81" fill-opacity="0.55"/><circle cx="554.29" cy="362.21" r="1.02" fill-opacity="1.00"/><circle cx="572.29" cy="343.61" r="0.81" fill-opacity="1.00"/><circle cx="557" cy="315.7" r="0.3" fill-opacity="0.55"/><circle cx="553.75" cy="358.61" r="0.51" fill-opacity="1.00"/><circle cx="551.6" cy="320.81" r="0.51" fill-opacity="0.55"/><circle cx="535.95" cy="335.18" r="0.3" fill-opacity="0.90"/><circle cx="535.09" cy="347.79" r="0.59" fill-opacity="0.55"/><circle cx="549.47" cy="338.97" r="1.02" fill-opacity="0.35"/><circle cx="545.41" cy="349.28" r="0.51" fill-opacity="1.00"/><circle cx="541.13" cy="339.14" r="0.42" fill-opacity="0.55"/><circle cx="558.71" cy="358.75" r="0.51" fill-opacity="1.00"/><circle cx="564.71" cy="318.56" r="1.02" fill-opacity="1.00"/><circle cx="558.27" cy="323.92" r="0.81" fill-opacity="1.00"/><circle cx="550.6" cy="317.37" r="0.38" fill-opacity="1.00"/><circle cx="562.49" cy="320.19" r="1.02" fill-opacity="0.55"/><circle cx="545.2" cy="351.79" r="0.51" fill-opacity="0.55"/><circle cx="539.72" cy="356.99" r="0.68" fill-opacity="1.00"/><circle cx="550.26" cy="328.69" r="0.51" fill-opacity="0.90"/><circle cx="544.18" cy="338.53" r="0.42" fill-opacity="0.90"/><circle cx="552.47" cy="335.26" r="1.02" fill-opacity="0.90"/><circle cx="576.01" cy="336.85" r="0.51" fill-opacity="0.90"/><circle cx="558.15" cy="320.32" r="0.42" fill-opacity="0.55"/><circle cx="531.91" cy="348.49" r="0.38" fill-opacity="0.90"/><circle cx="533.28" cy="350.14" r="0.68" fill-opacity="0.75"/><circle cx="563.87" cy="355.52" r="0.42" fill-opacity="0.90"/><circle cx="571.94" cy="341.97" r="0.3" fill-opacity="0.35"/><circle cx="571.18" cy="349.86" r="0.68" fill-opacity="1.00"/><circle cx="560.08" cy="359.56" r="0.81" fill-opacity="0.90"/><circle cx="559.56" cy="320.92" r="0.3" fill-opacity="1.00"/><circle cx="535.55" cy="331.51" r="0.81" fill-opacity="0.75"/><circle cx="558.06" cy="347.27" r="0.68" fill-opacity="0.55"/><circle cx="556" cy="333.37" r="0.42" fill-opacity="0.75"/><circle cx="544.55" cy="337.27" r="1.02" fill-opacity="0.75"/><circle cx="546.59" cy="358.29" r="0.68" fill-opacity="1.00"/><circle cx="555.12" cy="360.03" r="1.02" fill-opacity="0.35"/><circle cx="545.03" cy="332.59" r="0.59" fill-opacity="0.35"/><circle cx="546.95" cy="332.62" r="0.68" fill-opacity="1.00"/><circle cx="555.47" cy="326.96" r="0.68" fill-opacity="0.75"/><circle cx="569.77" cy="321.11" r="0.81" fill-opacity="0.35"/><circle cx="565.48" cy="320.11" r="0.59" fill-opacity="0.55"/><circle cx="539.3" cy="335.09" r="0.38" fill-opacity="1.00"/><circle cx="556.07" cy="362.26" r="0.42" fill-opacity="0.90"/><circle cx="553.34" cy="349.96" r="0.81" fill-opacity="0.35"/><circle cx="560.06" cy="348.87" r="0.42" fill-opacity="1.00"/><circle cx="534.59" cy="328.27" r="0.38" fill-opacity="0.35"/><circle cx="544.79" cy="348.14" r="0.42" fill-opacity="0.35"/><circle cx="551.65" cy="318.42" r="0.51" fill-opacity="1.00"/><circle cx="546.31" cy="360.62" r="0.51" fill-opacity="0.75"/><circle cx="544.66" cy="333.7" r="1.02" fill-opacity="0.55"/><circle cx="552.64" cy="314.24" r="0.42" fill-opacity="0.55"/><circle cx="537.3" cy="320.7" r="0.68" fill-opacity="1.00"/><circle cx="555.03" cy="347.44" r="0.3" fill-opacity="0.90"/><circle cx="555.89" cy="357.75" r="0.3" fill-opacity="0.90"/><circle cx="560.25" cy="346.41" r="0.42" fill-opacity="0.35"/><circle cx="574.49" cy="341.38" r="0.42" fill-opacity="0.90"/><circle cx="537.06" cy="332.4" r="0.3" fill-opacity="1.00"/><circle cx="568.78" cy="352.77" r="0.3" fill-opacity="0.75"/><circle cx="549.15" cy="346.87" r="0.81" fill-opacity="1.00"/><circle cx="561.73" cy="329.89" r="1.02" fill-opacity="1.00"/><circle cx="575.2" cy="344.13" r="0.68" fill-opacity="0.90"/><circle cx="538.87" cy="346.61" r="0.3" fill-opacity="1.00"/><circle cx="563.01" cy="329.1" r="0.59" fill-opacity="1.00"/><circle cx="545.24" cy="342.02" r="1.02" fill-opacity="0.75"/><circle cx="553.1" cy="354.93" r="0.3" fill-opacity="0.55"/><circle cx="549.86" cy="317.18" r="0.81" fill-opacity="0.75"/><circle cx="557.88" cy="334.62" r="0.3" fill-opacity="0.35"/><circle cx="558" cy="319.76" r="0.81" fill-opacity="0.75"/><circle cx="572.55" cy="343.67" r="0.81" fill-opacity="0.90"/><circle cx="532.32" cy="335.71" r="0.68" fill-opacity="0.35"/><circle cx="543.35" cy="316.29" r="0.59" fill-opacity="0.75"/><circle cx="567.77" cy="323.41" r="0.81" fill-opacity="1.00"/><circle cx="563.25" cy="345.76" r="0.59" fill-opacity="0.90"/><circle cx="560.74" cy="329.08" r="1.02" fill-opacity="0.35"/><circle cx="569.25" cy="327.94" r="0.42" fill-opacity="0.75"/></g>
<circle cx="605.7" cy="338.3" r="25.3" fill="url(#pg)"/>
<g fill="#5a32b8"><circle cx="612.63" cy="332.05" r="0.51" fill-opacity="0.75"/><circle cx="604.58" cy="317.4" r="0.3" fill-opacity="0.55"/><circle cx="603.91" cy="336.73" r="0.38" fill-opacity="1.00"/><circle cx="595.12" cy="355.5" r="0.42" fill-opacity="0.55"/><circle cx="613.05" cy="351.35" r="0.42" fill-opacity="1.00"/><circle cx="593.57" cy="321.31" r="0.51" fill-opacity="0.90"/><circle cx="623.79" cy="324.33" r="0.59" fill-opacity="0.35"/><circle cx="619.42" cy="344.92" r="1.02" fill-opacity="0.55"/><circle cx="621.16" cy="347.51" r="0.81" fill-opacity="0.55"/><circle cx="613.42" cy="337.33" r="0.51" fill-opacity="0.75"/><circle cx="588.52" cy="347.6" r="0.68" fill-opacity="0.90"/><circle cx="625.88" cy="336.76" r="0.59" fill-opacity="1.00"/><circle cx="599" cy="341.03" r="0.68" fill-opacity="0.55"/><circle cx="597.75" cy="317.82" r="0.81" fill-opacity="0.35"/><circle cx="609.86" cy="361.92" r="0.81" fill-opacity="1.00"/><circle cx="608.1" cy="328.88" r="0.3" fill-opacity="0.75"/><circle cx="590.75" cy="319.27" r="0.59" fill-opacity="0.90"/><circle cx="612.25" cy="341.49" r="0.68" fill-opacity="0.90"/><circle cx="628.44" cy="345.08" r="0.42" fill-opacity="0.75"/><circle cx="589.93" cy="322.64" r="0.59" fill-opacity="1.00"/><circle cx="608.39" cy="323.41" r="0.38" fill-opacity="0.55"/><circle cx="614.25" cy="347.62" r="0.38" fill-opacity="0.55"/><circle cx="614.72" cy="349.09" r="0.3" fill-opacity="0.75"/><circle cx="582.89" cy="334.58" r="0.59" fill-opacity="0.75"/><circle cx="625.7" cy="348.07" r="0.81" fill-opacity="0.75"/><circle cx="626.07" cy="342.83" r="0.42" fill-opacity="0.35"/><circle cx="591.05" cy="319.15" r="0.68" fill-opacity="1.00"/><circle cx="629.3" cy="333.5" r="0.3" fill-opacity="0.35"/><circle cx="610.59" cy="348.3" r="0.81" fill-opacity="0.35"/><circle cx="606.43" cy="334.65" r="0.3" fill-opacity="0.35"/><circle cx="611.94" cy="346.06" r="0.42" fill-opacity="0.75"/><circle cx="617.14" cy="340.89" r="0.68" fill-opacity="0.75"/><circle cx="593.31" cy="320.17" r="0.42" fill-opacity="0.55"/><circle cx="587.96" cy="342.78" r="0.38" fill-opacity="0.55"/><circle cx="596.05" cy="341.7" r="0.38" fill-opacity="1.00"/><circle cx="605.53" cy="336.44" r="0.3" fill-opacity="1.00"/><circle cx="583.34" cy="334.39" r="0.51" fill-opacity="0.35"/><circle cx="592.64" cy="354.69" r="0.51" fill-opacity="0.35"/><circle cx="622.64" cy="342.8" r="0.81" fill-opacity="0.75"/><circle cx="604.5" cy="315.1" r="0.3" fill-opacity="0.90"/><circle cx="590.43" cy="326.15" r="0.68" fill-opacity="0.35"/><circle cx="597.54" cy="316.99" r="0.59" fill-opacity="0.35"/><circle cx="606.32" cy="360.39" r="0.51" fill-opacity="1.00"/><circle cx="588.23" cy="328.45" r="0.68" fill-opacity="0.35"/><circle cx="616.13" cy="334.7" r="0.42" fill-opacity="1.00"/><circle cx="623.28" cy="345.79" r="0.42" fill-opacity="1.00"/><circle cx="620.38" cy="327.42" r="0.3" fill-opacity="0.75"/><circle cx="582.82" cy="339.36" r="0.51" fill-opacity="1.00"/><circle cx="600.86" cy="324.58" r="0.51" fill-opacity="0.90"/><circle cx="593.5" cy="335.97" r="0.51" fill-opacity="0.90"/><circle cx="600.56" cy="323.04" r="0.38" fill-opacity="1.00"/><circle cx="597.35" cy="326.47" r="0.68" fill-opacity="0.55"/><circle cx="582.32" cy="334.08" r="0.81" fill-opacity="0.35"/><circle cx="605.82" cy="337.72" r="0.51" fill-opacity="0.35"/><circle cx="614.29" cy="338.08" r="1.02" fill-opacity="0.75"/><circle cx="583.61" cy="342.82" r="1.02" fill-opacity="0.55"/><circle cx="587.55" cy="337.47" r="0.42" fill-opacity="1.00"/><circle cx="615.1" cy="348.29" r="0.3" fill-opacity="1.00"/><circle cx="620.97" cy="325.15" r="0.51" fill-opacity="1.00"/><circle cx="589.03" cy="354.99" r="0.81" fill-opacity="1.00"/><circle cx="622.27" cy="321.19" r="1.02" fill-opacity="0.90"/><circle cx="607.92" cy="334.79" r="0.51" fill-opacity="1.00"/><circle cx="626.31" cy="346.35" r="0.59" fill-opacity="1.00"/><circle cx="584.66" cy="328.49" r="0.68" fill-opacity="1.00"/><circle cx="620.17" cy="356.77" r="1.02" fill-opacity="1.00"/><circle cx="620.12" cy="355.47" r="0.51" fill-opacity="0.75"/><circle cx="606.65" cy="337.44" r="0.68" fill-opacity="0.55"/><circle cx="599.31" cy="338.83" r="0.51" fill-opacity="1.00"/><circle cx="594.44" cy="338.45" r="0.3" fill-opacity="0.90"/><circle cx="602.14" cy="343.25" r="0.3" fill-opacity="1.00"/><circle cx="595.23" cy="319.02" r="1.02" fill-opacity="0.75"/><circle cx="606.58" cy="325.6" r="0.81" fill-opacity="1.00"/><circle cx="595.09" cy="333.34" r="0.3" fill-opacity="0.75"/><circle cx="604.82" cy="349.99" r="0.51" fill-opacity="1.00"/><circle cx="603.27" cy="331.11" r="0.59" fill-opacity="0.90"/><circle cx="598.59" cy="351.19" r="0.51" fill-opacity="0.55"/><circle cx="617.59" cy="325.94" r="0.68" fill-opacity="1.00"/><circle cx="597.69" cy="333.73" r="0.81" fill-opacity="1.00"/><circle cx="606.95" cy="346.91" r="0.59" fill-opacity="0.55"/><circle cx="597.62" cy="336.89" r="0.42" fill-opacity="0.90"/><circle cx="587.04" cy="330.15" r="0.81" fill-opacity="0.90"/><circle cx="595" cy="320.86" r="0.42" fill-opacity="1.00"/><circle cx="589.68" cy="320.98" r="0.59" fill-opacity="0.35"/><circle cx="597.17" cy="356.09" r="0.3" fill-opacity="0.90"/><circle cx="601.86" cy="320.71" r="0.68" fill-opacity="1.00"/><circle cx="602.64" cy="333.11" r="0.59" fill-opacity="0.35"/><circle cx="600.23" cy="322.4" r="0.3" fill-opacity="1.00"/><circle cx="599.21" cy="351.52" r="0.68" fill-opacity="0.55"/><circle cx="614.79" cy="344.6" r="0.51" fill-opacity="0.55"/><circle cx="611.32" cy="327.87" r="0.51" fill-opacity="1.00"/><circle cx="592.21" cy="342.65" r="0.68" fill-opacity="0.35"/><circle cx="613.01" cy="343.46" r="1.02" fill-opacity="0.35"/><circle cx="592.41" cy="335.29" r="0.81" fill-opacity="0.75"/><circle cx="597.2" cy="333.21" r="0.81" fill-opacity="0.55"/><circle cx="597.28" cy="325.17" r="0.3" fill-opacity="1.00"/><circle cx="620.7" cy="354.01" r="0.59" fill-opacity="0.90"/><circle cx="619.67" cy="337.24" r="0.3" fill-opacity="0.35"/><circle cx="613.97" cy="336.37" r="0.42" fill-opacity="1.00"/><circle cx="623.01" cy="340.75" r="0.81" fill-opacity="0.55"/><circle cx="593.56" cy="351.09" r="1.02" fill-opacity="0.35"/><circle cx="596.12" cy="357.08" r="0.3" fill-opacity="0.35"/><circle cx="599.07" cy="334.89" r="1.02" fill-opacity="0.75"/><circle cx="626.91" cy="330.6" r="0.68" fill-opacity="1.00"/><circle cx="588.96" cy="338.84" r="1.02" fill-opacity="0.35"/><circle cx="599.21" cy="356.58" r="0.51" fill-opacity="0.55"/><circle cx="624.81" cy="331.1" r="0.68" fill-opacity="1.00"/><circle cx="611.51" cy="341.51" r="0.59" fill-opacity="0.35"/><circle cx="611.68" cy="349.26" r="0.38" fill-opacity="0.75"/><circle cx="613.62" cy="339.92" r="0.68" fill-opacity="0.55"/><circle cx="597.02" cy="355.76" r="0.68" fill-opacity="0.55"/><circle cx="601.52" cy="361.42" r="0.68" fill-opacity="0.55"/><circle cx="600.74" cy="321.2" r="0.51" fill-opacity="1.00"/><circle cx="607.3" cy="331.25" r="0.59" fill-opacity="0.55"/><circle cx="589.12" cy="348.65" r="0.42" fill-opacity="0.75"/><circle cx="599.46" cy="357.9" r="0.68" fill-opacity="1.00"/><circle cx="600.72" cy="315.13" r="1.02" fill-opacity="0.55"/><circle cx="607.8" cy="316.41" r="0.42" fill-opacity="1.00"/><circle cx="589.82" cy="354.05" r="0.42" fill-opacity="1.00"/><circle cx="611.42" cy="321.69" r="0.68" fill-opacity="0.75"/><circle cx="608.26" cy="319.78" r="1.02" fill-opacity="1.00"/><circle cx="611.6" cy="319.82" r="0.59" fill-opacity="0.75"/><circle cx="614.74" cy="340.64" r="0.51" fill-opacity="1.00"/><circle cx="602.79" cy="355.01" r="0.42" fill-opacity="0.75"/><circle cx="605.38" cy="340.82" r="0.42" fill-opacity="0.35"/><circle cx="613.43" cy="318.39" r="0.3" fill-opacity="1.00"/><circle cx="617.24" cy="326.54" r="0.38" fill-opacity="0.55"/><circle cx="622.2" cy="335.97" r="0.51" fill-opacity="0.55"/><circle cx="597.43" cy="316.34" r="0.38" fill-opacity="0.35"/><circle cx="611.98" cy="319.11" r="0.42" fill-opacity="1.00"/><circle cx="595.2" cy="327.1" r="0.38" fill-opacity="0.55"/><circle cx="620.67" cy="327.22" r="0.3" fill-opacity="0.35"/><circle cx="617.45" cy="324.52" r="0.38" fill-opacity="1.00"/><circle cx="608.34" cy="343.98" r="0.42" fill-opacity="0.90"/><circle cx="615.79" cy="336.48" r="1.02" fill-opacity="0.55"/><circle cx="606.23" cy="319.74" r="0.59" fill-opacity="0.90"/><circle cx="602.65" cy="353.01" r="1.02" fill-opacity="1.00"/><circle cx="598.01" cy="337.53" r="0.68" fill-opacity="0.90"/><circle cx="591.01" cy="330.58" r="0.81" fill-opacity="0.55"/><circle cx="606.95" cy="320.8" r="0.42" fill-opacity="0.90"/><circle cx="628.33" cy="346.08" r="0.51" fill-opacity="0.75"/><circle cx="609.3" cy="358.58" r="0.59" fill-opacity="0.75"/><circle cx="598.04" cy="319.13" r="0.59" fill-opacity="0.90"/><circle cx="610.42" cy="355.59" r="0.68" fill-opacity="0.90"/><circle cx="595.71" cy="353.13" r="0.42" fill-opacity="1.00"/><circle cx="608.36" cy="341.5" r="0.42" fill-opacity="1.00"/><circle cx="619.73" cy="327.78" r="0.38" fill-opacity="1.00"/><circle cx="602.43" cy="336.63" r="0.81" fill-opacity="0.55"/><circle cx="596.48" cy="345.61" r="0.81" fill-opacity="0.90"/><circle cx="594.45" cy="318.05" r="0.51" fill-opacity="0.55"/><circle cx="604.44" cy="340.21" r="1.02" fill-opacity="1.00"/><circle cx="605.89" cy="355.34" r="0.3" fill-opacity="0.55"/><circle cx="602.88" cy="358.01" r="0.38" fill-opacity="1.00"/><circle cx="602.43" cy="356.01" r="0.59" fill-opacity="1.00"/><circle cx="617.18" cy="324.55" r="0.42" fill-opacity="1.00"/><circle cx="597.95" cy="318.28" r="0.38" fill-opacity="1.00"/><circle cx="588.38" cy="328.53" r="0.59" fill-opacity="1.00"/><circle cx="621.51" cy="353.55" r="0.3" fill-opacity="1.00"/><circle cx="605.16" cy="325.67" r="0.59" fill-opacity="0.90"/><circle cx="591.69" cy="325.28" r="0.81" fill-opacity="0.35"/><circle cx="618.57" cy="356.69" r="0.38" fill-opacity="0.75"/><circle cx="618.33" cy="335.88" r="1.02" fill-opacity="0.35"/><circle cx="601.23" cy="360.11" r="0.81" fill-opacity="0.55"/><circle cx="596.21" cy="316.68" r="1.02" fill-opacity="1.00"/><circle cx="602.52" cy="351.89" r="1.02" fill-opacity="0.75"/><circle cx="589.42" cy="333.56" r="0.81" fill-opacity="0.55"/><circle cx="613.84" cy="341.32" r="1.02" fill-opacity="1.00"/><circle cx="606.14" cy="318.99" r="0.68" fill-opacity="0.90"/><circle cx="612.13" cy="344.98" r="0.51" fill-opacity="0.90"/><circle cx="602.36" cy="345.16" r="0.51" fill-opacity="0.55"/><circle cx="612.92" cy="346.23" r="0.59" fill-opacity="0.35"/><circle cx="599.73" cy="349.44" r="0.51" fill-opacity="0.75"/><circle cx="595.34" cy="353.25" r="0.42" fill-opacity="0.35"/><circle cx="585.04" cy="345.5" r="0.59" fill-opacity="0.35"/><circle cx="616.06" cy="344.18" r="0.81" fill-opacity="0.35"/><circle cx="586.36" cy="336.48" r="1.02" fill-opacity="0.90"/><circle cx="599.78" cy="335.03" r="0.51" fill-opacity="0.90"/><circle cx="613.1" cy="355.13" r="0.81" fill-opacity="1.00"/><circle cx="618.62" cy="327.11" r="0.38" fill-opacity="1.00"/><circle cx="582.54" cy="335.72" r="0.51" fill-opacity="0.55"/><circle cx="602.69" cy="351.6" r="0.59" fill-opacity="0.75"/><circle cx="588.12" cy="339.27" r="0.81" fill-opacity="0.55"/><circle cx="592.45" cy="341.38" r="0.81" fill-opacity="0.35"/><circle cx="582.11" cy="335.48" r="0.59" fill-opacity="1.00"/><circle cx="602.66" cy="351.6" r="0.38" fill-opacity="0.35"/><circle cx="600.9" cy="338.61" r="0.3" fill-opacity="0.90"/><circle cx="598.82" cy="353.4" r="0.38" fill-opacity="0.35"/><circle cx="581.77" cy="338.49" r="0.38" fill-opacity="0.35"/><circle cx="608.37" cy="343.58" r="0.38" fill-opacity="0.55"/><circle cx="602.72" cy="342.65" r="0.68" fill-opacity="0.35"/><circle cx="607.88" cy="346.21" r="0.59" fill-opacity="1.00"/><circle cx="602.05" cy="341.95" r="0.51" fill-opacity="1.00"/><circle cx="614.69" cy="327.64" r="0.81" fill-opacity="0.35"/><circle cx="594.65" cy="342.64" r="0.59" fill-opacity="1.00"/><circle cx="594.31" cy="345.51" r="0.38" fill-opacity="0.35"/><circle cx="620.94" cy="338.09" r="0.51" fill-opacity="0.75"/><circle cx="586.22" cy="338.74" r="0.59" fill-opacity="1.00"/><circle cx="595.99" cy="325.52" r="0.59" fill-opacity="1.00"/><circle cx="593.41" cy="354.21" r="0.51" fill-opacity="0.55"/><circle cx="621.37" cy="341.24" r="0.38" fill-opacity="0.75"/><circle cx="593.51" cy="344.18" r="0.51" fill-opacity="0.90"/><circle cx="603.81" cy="349.11" r="0.38" fill-opacity="0.75"/><circle cx="613.83" cy="318.29" r="1.02" fill-opacity="1.00"/><circle cx="613.26" cy="347.78" r="0.3" fill-opacity="0.55"/><circle cx="628.88" cy="332.84" r="0.81" fill-opacity="0.55"/><circle cx="599.35" cy="348.23" r="0.59" fill-opacity="0.90"/><circle cx="613.71" cy="333.23" r="0.81" fill-opacity="0.55"/><circle cx="600.16" cy="320.13" r="0.68" fill-opacity="1.00"/><circle cx="603.96" cy="355.46" r="0.51" fill-opacity="1.00"/><circle cx="617.98" cy="349.18" r="0.42" fill-opacity="0.75"/><circle cx="624.89" cy="326.54" r="1.02" fill-opacity="0.90"/><circle cx="597.22" cy="343.43" r="0.42" fill-opacity="1.00"/><circle cx="614.27" cy="321.62" r="0.42" fill-opacity="1.00"/><circle cx="607.22" cy="337.21" r="0.38" fill-opacity="1.00"/><circle cx="588.23" cy="349.28" r="0.51" fill-opacity="0.75"/><circle cx="591.53" cy="336.6" r="1.02" fill-opacity="1.00"/><circle cx="585.44" cy="348.91" r="0.38" fill-opacity="0.55"/><circle cx="603.09" cy="323.77" r="0.3" fill-opacity="0.75"/><circle cx="609.44" cy="314.61" r="0.38" fill-opacity="1.00"/><circle cx="621.37" cy="348.19" r="0.42" fill-opacity="0.90"/><circle cx="588.21" cy="340.31" r="0.59" fill-opacity="0.75"/></g>
<circle cx="501.7" cy="388" r="25.3" fill="url(#pg)"/>
<g fill="#5a32b8"><circle cx="496.6" cy="372.38" r="1.04" fill-opacity="1.00"/><circle cx="498.35" cy="372.5" r="0.91" fill-opacity="1.00"/><circle cx="501.75" cy="388.35" r="0.45" fill-opacity="0.75"/><circle cx="489.26" cy="400.33" r="0.91" fill-opacity="1.00"/><circle cx="490.27" cy="384.46" r="1.56" fill-opacity="0.90"/><circle cx="499.77" cy="401.14" r="1.04" fill-opacity="0.35"/><circle cx="511.25" cy="371.57" r="0.59" fill-opacity="0.55"/><circle cx="513.99" cy="396.98" r="0.65" fill-opacity="0.55"/><circle cx="483.27" cy="387.65" r="1.04" fill-opacity="0.55"/><circle cx="498.95" cy="402.83" r="0.65" fill-opacity="0.35"/><circle cx="500.73" cy="383.55" r="0.59" fill-opacity="0.90"/><circle cx="488.14" cy="369.7" r="0.45" fill-opacity="1.00"/><circle cx="497.19" cy="379.87" r="1.56" fill-opacity="0.90"/><circle cx="496.39" cy="395.37" r="0.45" fill-opacity="0.75"/><circle cx="498.22" cy="373.91" r="0.45" fill-opacity="0.35"/><circle cx="497.8" cy="405.03" r="1.56" fill-opacity="0.75"/><circle cx="518.75" cy="392.35" r="1.04" fill-opacity="0.35"/><circle cx="524.91" cy="394.48" r="1.23" fill-opacity="1.00"/><circle cx="524.91" cy="387.98" r="1.23" fill-opacity="0.35"/><circle cx="501.29" cy="383.16" r="0.59" fill-opacity="0.90"/><circle cx="513.41" cy="403.2" r="0.45" fill-opacity="0.35"/><circle cx="513.43" cy="386.46" r="0.91" fill-opacity="0.35"/><circle cx="507.05" cy="384.02" r="0.91" fill-opacity="1.00"/><circle cx="521.69" cy="375.22" r="1.56" fill-opacity="0.90"/><circle cx="481.64" cy="394.51" r="0.45" fill-opacity="0.75"/><circle cx="491.93" cy="374.58" r="1.23" fill-opacity="1.00"/><circle cx="516.83" cy="396.09" r="1.23" fill-opacity="0.90"/><circle cx="521.07" cy="394.81" r="0.65" fill-opacity="1.00"/><circle cx="513.52" cy="378.08" r="0.45" fill-opacity="1.00"/><circle cx="491.05" cy="396.41" r="0.65" fill-opacity="0.75"/><circle cx="512.31" cy="398.18" r="0.78" fill-opacity="0.35"/><circle cx="489.68" cy="399.78" r="0.78" fill-opacity="1.00"/><circle cx="512.06" cy="389.46" r="1.04" fill-opacity="1.00"/><circle cx="506.09" cy="411" r="0.59" fill-opacity="0.55"/><circle cx="498.63" cy="407.55" r="1.04" fill-opacity="0.55"/><circle cx="517.05" cy="371.55" r="0.91" fill-opacity="0.75"/><circle cx="501.35" cy="410.08" r="0.65" fill-opacity="0.35"/><circle cx="496.5" cy="390.42" r="0.59" fill-opacity="0.75"/><circle cx="493.07" cy="370.58" r="0.65" fill-opacity="0.75"/><circle cx="503.81" cy="364.75" r="0.59" fill-opacity="0.90"/><circle cx="502.07" cy="369.94" r="0.59" fill-opacity="0.55"/><circle cx="491.95" cy="408.36" r="0.45" fill-opacity="0.75"/><circle cx="515.52" cy="394.77" r="1.04" fill-opacity="0.55"/><circle cx="523" cy="378.56" r="1.23" fill-opacity="1.00"/><circle cx="483.75" cy="396.93" r="1.56" fill-opacity="0.75"/><circle cx="517.17" cy="393.31" r="0.65" fill-opacity="0.55"/><circle cx="507.5" cy="381.52" r="0.65" fill-opacity="0.55"/><circle cx="520.58" cy="372.91" r="0.91" fill-opacity="0.35"/><circle cx="491.9" cy="367.67" r="0.91" fill-opacity="1.00"/><circle cx="500.02" cy="403.96" r="0.65" fill-opacity="0.90"/><circle cx="481.79" cy="380.36" r="0.65" fill-opacity="0.55"/><circle cx="496.7" cy="369.06" r="1.56" fill-opacity="1.00"/><circle cx="508.07" cy="368.61" r="1.23" fill-opacity="0.75"/><circle cx="486.58" cy="392.44" r="1.23" fill-opacity="1.00"/><circle cx="493.95" cy="385.66" r="1.04" fill-opacity="1.00"/><circle cx="479.79" cy="383.88" r="0.91" fill-opacity="1.00"/><circle cx="482.33" cy="384.8" r="1.56" fill-opacity="0.75"/><circle cx="516.65" cy="378.07" r="0.59" fill-opacity="0.35"/><circle cx="499.15" cy="391.38" r="1.23" fill-opacity="0.75"/><circle cx="501.42" cy="382.69" r="0.78" fill-opacity="1.00"/><circle cx="511.87" cy="395.14" r="1.23" fill-opacity="0.55"/><circle cx="495.75" cy="405.18" r="1.04" fill-opacity="0.90"/><circle cx="508.85" cy="390.89" r="0.59" fill-opacity="0.90"/><circle cx="509.8" cy="378.27" r="0.65" fill-opacity="0.75"/><circle cx="492.82" cy="404.72" r="0.91" fill-opacity="1.00"/><circle cx="500.59" cy="411.5" r="0.65" fill-opacity="0.55"/><circle cx="523.01" cy="395.1" r="0.45" fill-opacity="0.90"/><circle cx="512.29" cy="403.09" r="0.91" fill-opacity="1.00"/><circle cx="517.87" cy="381.64" r="0.78" fill-opacity="0.90"/><circle cx="514.48" cy="386.4" r="1.23" fill-opacity="1.00"/><circle cx="486.35" cy="403.18" r="0.59" fill-opacity="0.35"/><circle cx="492.09" cy="372.96" r="1.04" fill-opacity="1.00"/><circle cx="509.9" cy="397.41" r="1.56" fill-opacity="1.00"/><circle cx="498.33" cy="382.39" r="0.78" fill-opacity="0.35"/><circle cx="492.01" cy="368.51" r="1.56" fill-opacity="0.90"/><circle cx="509.85" cy="391.56" r="0.65" fill-opacity="0.55"/><circle cx="523.92" cy="392.6" r="1.23" fill-opacity="0.75"/><circle cx="489.05" cy="378.66" r="1.56" fill-opacity="1.00"/><circle cx="504.89" cy="373.17" r="0.45" fill-opacity="0.55"/><circle cx="501.62" cy="377.81" r="1.23" fill-opacity="1.00"/><circle cx="485.14" cy="373.18" r="0.59" fill-opacity="0.90"/><circle cx="484.13" cy="389.4" r="0.91" fill-opacity="0.75"/><circle cx="479.79" cy="390.7" r="1.23" fill-opacity="0.55"/><circle cx="492.84" cy="406.28" r="1.23" fill-opacity="1.00"/><circle cx="513.18" cy="381.49" r="0.78" fill-opacity="0.75"/><circle cx="485.81" cy="371.88" r="1.56" fill-opacity="1.00"/><circle cx="521.99" cy="401.11" r="0.65" fill-opacity="1.00"/><circle cx="512.57" cy="403.77" r="0.59" fill-opacity="0.55"/><circle cx="491.77" cy="381.05" r="0.91" fill-opacity="1.00"/><circle cx="488.35" cy="403.64" r="1.04" fill-opacity="0.90"/><circle cx="488.07" cy="405.36" r="0.45" fill-opacity="0.35"/><circle cx="498.9" cy="406.65" r="1.04" fill-opacity="0.75"/><circle cx="501.66" cy="391.68" r="0.78" fill-opacity="0.75"/><circle cx="486.95" cy="394.76" r="1.56" fill-opacity="1.00"/><circle cx="494.42" cy="397.95" r="1.23" fill-opacity="0.35"/><circle cx="503.99" cy="382.35" r="1.04" fill-opacity="0.90"/><circle cx="486.94" cy="402.37" r="0.78" fill-opacity="0.90"/><circle cx="521.37" cy="379.2" r="0.45" fill-opacity="1.00"/><circle cx="489.5" cy="396.38" r="0.65" fill-opacity="1.00"/><circle cx="514.76" cy="403.26" r="0.78" fill-opacity="0.75"/><circle cx="503.48" cy="392.95" r="0.78" fill-opacity="0.75"/><circle cx="491.42" cy="409.02" r="0.78" fill-opacity="1.00"/><circle cx="483.83" cy="383.64" r="0.91" fill-opacity="0.35"/><circle cx="495.3" cy="392.5" r="0.59" fill-opacity="0.75"/><circle cx="489.14" cy="388.76" r="0.91" fill-opacity="1.00"/><circle cx="490.74" cy="400.64" r="1.04" fill-opacity="0.75"/><circle cx="513.27" cy="373.95" r="0.78" fill-opacity="0.75"/><circle cx="515.84" cy="403.05" r="0.91" fill-opacity="0.75"/><circle cx="521.92" cy="376.48" r="0.78" fill-opacity="0.75"/><circle cx="482.3" cy="381.28" r="0.59" fill-opacity="1.00"/><circle cx="485.49" cy="375.35" r="1.56" fill-opacity="0.90"/><circle cx="491.83" cy="389.31" r="0.45" fill-opacity="0.75"/><circle cx="497.69" cy="394.22" r="0.91" fill-opacity="1.00"/><circle cx="485.59" cy="387.94" r="0.65" fill-opacity="0.55"/><circle cx="521.21" cy="393.48" r="0.59" fill-opacity="0.55"/><circle cx="488.45" cy="389.8" r="1.56" fill-opacity="0.75"/><circle cx="519.96" cy="381.6" r="0.45" fill-opacity="0.55"/><circle cx="510.06" cy="374.37" r="1.56" fill-opacity="0.55"/><circle cx="480.73" cy="380.37" r="1.56" fill-opacity="0.55"/><circle cx="502.36" cy="407.63" r="0.59" fill-opacity="1.00"/><circle cx="507.92" cy="406.27" r="0.65" fill-opacity="0.75"/><circle cx="487.4" cy="401.4" r="1.56" fill-opacity="0.35"/><circle cx="523.57" cy="379.8" r="1.23" fill-opacity="0.55"/><circle cx="486.53" cy="390.32" r="0.59" fill-opacity="1.00"/><circle cx="519.35" cy="401.88" r="0.78" fill-opacity="1.00"/><circle cx="515.09" cy="379.75" r="0.65" fill-opacity="0.35"/><circle cx="486.04" cy="390.97" r="1.04" fill-opacity="0.75"/><circle cx="511.04" cy="383.48" r="0.45" fill-opacity="0.75"/><circle cx="523.63" cy="382.15" r="1.56" fill-opacity="0.90"/><circle cx="490.07" cy="380.04" r="0.45" fill-opacity="0.55"/><circle cx="501.16" cy="366.71" r="1.04" fill-opacity="1.00"/><circle cx="505.83" cy="372.22" r="0.59" fill-opacity="1.00"/><circle cx="480.57" cy="398.33" r="0.45" fill-opacity="1.00"/><circle cx="482.8" cy="389.35" r="1.56" fill-opacity="0.90"/><circle cx="524.02" cy="396.13" r="0.91" fill-opacity="0.75"/><circle cx="522.75" cy="383.47" r="0.91" fill-opacity="1.00"/><circle cx="487.02" cy="370.11" r="0.91" fill-opacity="0.55"/><circle cx="501.03" cy="381.01" r="0.45" fill-opacity="0.90"/><circle cx="497.61" cy="365.59" r="0.59" fill-opacity="0.90"/><circle cx="511.59" cy="387.64" r="1.56" fill-opacity="0.55"/><circle cx="483.75" cy="388.62" r="0.65" fill-opacity="1.00"/><circle cx="520.73" cy="383.95" r="0.91" fill-opacity="0.35"/><circle cx="488.5" cy="385.96" r="1.04" fill-opacity="1.00"/><circle cx="503.46" cy="371.97" r="0.78" fill-opacity="0.55"/><circle cx="492.25" cy="368.97" r="1.23" fill-opacity="0.55"/><circle cx="500.91" cy="407.17" r="0.78" fill-opacity="0.90"/><circle cx="491.66" cy="399.59" r="0.78" fill-opacity="0.55"/><circle cx="504.48" cy="392.82" r="1.56" fill-opacity="0.55"/><circle cx="478.55" cy="390.81" r="0.78" fill-opacity="0.75"/><circle cx="513.02" cy="400.42" r="0.65" fill-opacity="1.00"/><circle cx="509.2" cy="395.89" r="0.45" fill-opacity="0.90"/><circle cx="505.62" cy="384.01" r="0.45" fill-opacity="0.55"/><circle cx="493.08" cy="394.49" r="0.59" fill-opacity="0.90"/><circle cx="488.55" cy="388.98" r="1.23" fill-opacity="0.55"/><circle cx="498" cy="381.49" r="0.59" fill-opacity="0.90"/><circle cx="496.4" cy="385.41" r="0.59" fill-opacity="0.75"/><circle cx="478.27" cy="391.3" r="0.65" fill-opacity="0.35"/><circle cx="499.94" cy="379.09" r="0.45" fill-opacity="0.55"/><circle cx="518.73" cy="374.9" r="0.91" fill-opacity="1.00"/><circle cx="498.88" cy="368.61" r="0.65" fill-opacity="0.75"/><circle cx="482.19" cy="392.74" r="1.56" fill-opacity="0.55"/><circle cx="525.39" cy="384.19" r="0.78" fill-opacity="0.35"/><circle cx="513.06" cy="385.22" r="1.56" fill-opacity="1.00"/><circle cx="483" cy="397.91" r="0.45" fill-opacity="0.90"/><circle cx="497.09" cy="388.17" r="0.59" fill-opacity="1.00"/><circle cx="487.98" cy="380.04" r="1.04" fill-opacity="0.35"/><circle cx="498.64" cy="403.86" r="0.65" fill-opacity="1.00"/><circle cx="512.84" cy="379.43" r="0.59" fill-opacity="0.75"/><circle cx="485.26" cy="388.01" r="0.45" fill-opacity="0.90"/><circle cx="482.69" cy="391.06" r="0.65" fill-opacity="0.75"/><circle cx="503.51" cy="370.23" r="0.91" fill-opacity="0.75"/><circle cx="522.56" cy="397.3" r="1.56" fill-opacity="1.00"/><circle cx="484.29" cy="375.96" r="1.56" fill-opacity="0.55"/><circle cx="487.21" cy="379.51" r="1.23" fill-opacity="0.75"/><circle cx="496.83" cy="386.74" r="1.23" fill-opacity="0.55"/><circle cx="497.93" cy="409.32" r="0.91" fill-opacity="0.55"/><circle cx="525.88" cy="389.28" r="0.78" fill-opacity="0.90"/><circle cx="502.35" cy="392.92" r="0.65" fill-opacity="0.55"/><circle cx="515.36" cy="376.12" r="1.23" fill-opacity="0.55"/><circle cx="487.11" cy="404.34" r="1.56" fill-opacity="0.75"/><circle cx="518.13" cy="402.53" r="0.45" fill-opacity="1.00"/><circle cx="514.1" cy="391.33" r="0.59" fill-opacity="1.00"/><circle cx="489.46" cy="389.43" r="1.23" fill-opacity="0.55"/><circle cx="514.52" cy="379.97" r="0.45" fill-opacity="0.75"/><circle cx="489.36" cy="405.59" r="0.59" fill-opacity="0.90"/><circle cx="509.45" cy="380.73" r="0.91" fill-opacity="1.00"/><circle cx="508.93" cy="397.2" r="0.91" fill-opacity="0.75"/><circle cx="490.19" cy="367.09" r="0.45" fill-opacity="0.35"/><circle cx="507.39" cy="380.41" r="0.65" fill-opacity="1.00"/><circle cx="498.46" cy="409.8" r="0.78" fill-opacity="1.00"/><circle cx="484.73" cy="394.55" r="0.91" fill-opacity="0.55"/><circle cx="505.61" cy="408.02" r="0.65" fill-opacity="0.35"/><circle cx="488.63" cy="388.7" r="1.56" fill-opacity="0.55"/><circle cx="504.41" cy="399.49" r="1.56" fill-opacity="0.55"/><circle cx="483.64" cy="393.17" r="0.65" fill-opacity="0.55"/><circle cx="491.8" cy="404.17" r="0.59" fill-opacity="1.00"/><circle cx="511.13" cy="402.88" r="1.23" fill-opacity="1.00"/><circle cx="484.26" cy="396.05" r="1.04" fill-opacity="0.55"/><circle cx="496.77" cy="369.12" r="1.23" fill-opacity="0.55"/><circle cx="504.3" cy="390.64" r="1.23" fill-opacity="0.75"/><circle cx="493.09" cy="409.93" r="0.59" fill-opacity="1.00"/><circle cx="504.44" cy="394.46" r="0.59" fill-opacity="1.00"/><circle cx="489.32" cy="367.63" r="1.04" fill-opacity="0.75"/><circle cx="523.82" cy="384.03" r="0.91" fill-opacity="0.75"/><circle cx="490.24" cy="369.02" r="1.04" fill-opacity="0.75"/><circle cx="509.36" cy="409.45" r="1.56" fill-opacity="0.90"/><circle cx="491.79" cy="398.58" r="0.59" fill-opacity="1.00"/><circle cx="512.39" cy="389.55" r="1.04" fill-opacity="1.00"/><circle cx="504.5" cy="381.04" r="0.91" fill-opacity="0.55"/><circle cx="491.84" cy="366.99" r="0.78" fill-opacity="1.00"/><circle cx="517.39" cy="389.46" r="0.65" fill-opacity="0.90"/><circle cx="522.62" cy="389.95" r="0.65" fill-opacity="0.55"/><circle cx="510.43" cy="395.13" r="0.45" fill-opacity="0.55"/><circle cx="488.39" cy="402.11" r="0.65" fill-opacity="0.90"/><circle cx="503.28" cy="401.68" r="0.65" fill-opacity="1.00"/><circle cx="519.82" cy="401.11" r="1.23" fill-opacity="0.90"/><circle cx="518.73" cy="374.44" r="1.04" fill-opacity="0.75"/><circle cx="504.68" cy="402.35" r="0.45" fill-opacity="0.75"/><circle cx="498.47" cy="369.09" r="1.56" fill-opacity="0.55"/><circle cx="504.87" cy="403.43" r="1.04" fill-opacity="1.00"/><circle cx="512.53" cy="387.46" r="0.65" fill-opacity="0.35"/><circle cx="493.49" cy="398.82" r="1.23" fill-opacity="0.75"/><circle cx="505.08" cy="364.09" r="1.56" fill-opacity="0.35"/><circle cx="522.73" cy="386.43" r="0.59" fill-opacity="1.00"/><circle cx="496.65" cy="374.48" r="1.56" fill-opacity="1.00"/><circle cx="518.81" cy="390.97" r="1.56" fill-opacity="1.00"/><circle cx="492.01" cy="393.2" r="1.04" fill-opacity="0.90"/><circle cx="513.17" cy="404.49" r="0.59" fill-opacity="0.90"/><circle cx="482.66" cy="380.19" r="0.65" fill-opacity="1.00"/><circle cx="487.61" cy="373.92" r="0.45" fill-opacity="0.90"/><circle cx="503.12" cy="377.91" r="1.23" fill-opacity="1.00"/><circle cx="513.21" cy="401.18" r="0.65" fill-opacity="0.90"/><circle cx="499.39" cy="406.06" r="1.23" fill-opacity="0.35"/><circle cx="492.73" cy="394.9" r="0.45" fill-opacity="1.00"/><circle cx="517.69" cy="387.41" r="0.65" fill-opacity="0.55"/><circle cx="490.12" cy="400.02" r="0.59" fill-opacity="0.75"/><circle cx="494.07" cy="392.94" r="0.59" fill-opacity="0.75"/><circle cx="493.11" cy="399.01" r="0.91" fill-opacity="0.55"/><circle cx="506.23" cy="404.48" r="0.59" fill-opacity="0.90"/><circle cx="503.87" cy="399.79" r="0.78" fill-opacity="1.00"/><circle cx="481.66" cy="381.59" r="1.23" fill-opacity="1.00"/><circle cx="489.45" cy="379.46" r="0.45" fill-opacity="0.35"/><circle cx="504.77" cy="380.95" r="1.23" fill-opacity="1.00"/><circle cx="489.39" cy="404.24" r="0.45" fill-opacity="0.75"/><circle cx="497.47" cy="410.47" r="0.91" fill-opacity="0.35"/><circle cx="494.98" cy="392.14" r="0.78" fill-opacity="1.00"/><circle cx="512.24" cy="395.72" r="0.59" fill-opacity="1.00"/><circle cx="511.64" cy="380.33" r="0.65" fill-opacity="0.35"/><circle cx="513.95" cy="402.36" r="1.56" fill-opacity="0.90"/><circle cx="523.28" cy="389.65" r="0.91" fill-opacity="1.00"/><circle cx="493.61" cy="404.17" r="1.56" fill-opacity="1.00"/><circle cx="515.88" cy="375.39" r="0.78" fill-opacity="0.35"/><circle cx="503.58" cy="391.79" r="0.65" fill-opacity="0.90"/><circle cx="493.79" cy="383.36" r="0.91" fill-opacity="0.90"/><circle cx="486.14" cy="397.22" r="0.65" fill-opacity="0.55"/><circle cx="489.33" cy="403.56" r="0.65" fill-opacity="1.00"/><circle cx="506.7" cy="381.14" r="0.45" fill-opacity="0.35"/><circle cx="498.23" cy="374.7" r="0.59" fill-opacity="0.90"/><circle cx="511.54" cy="368.15" r="0.78" fill-opacity="0.35"/><circle cx="492.81" cy="378.68" r="1.56" fill-opacity="0.55"/><circle cx="516.64" cy="386.53" r="0.65" fill-opacity="0.75"/><circle cx="495.65" cy="385.37" r="0.59" fill-opacity="1.00"/><circle cx="508.14" cy="385.62" r="1.56" fill-opacity="0.35"/><circle cx="516.67" cy="405.86" r="0.59" fill-opacity="1.00"/><circle cx="510.61" cy="383.56" r="1.56" fill-opacity="0.90"/><circle cx="511.1" cy="393.53" r="1.23" fill-opacity="0.90"/><circle cx="485.82" cy="386.16" r="0.59" fill-opacity="1.00"/><circle cx="493.02" cy="373.97" r="0.78" fill-opacity="0.55"/><circle cx="498.95" cy="404.06" r="1.23" fill-opacity="1.00"/><circle cx="523.9" cy="384.79" r="0.65" fill-opacity="0.55"/><circle cx="487.93" cy="404.91" r="1.04" fill-opacity="0.35"/><circle cx="485.52" cy="386.09" r="1.56" fill-opacity="0.35"/><circle cx="496.8" cy="392.03" r="1.23" fill-opacity="0.55"/><circle cx="477.77" cy="389.31" r="0.65" fill-opacity="0.55"/><circle cx="514.64" cy="380.11" r="1.04" fill-opacity="0.55"/><circle cx="494.5" cy="394.07" r="0.91" fill-opacity="0.55"/><circle cx="489.03" cy="378.93" r="0.45" fill-opacity="0.35"/><circle cx="514.15" cy="380.73" r="0.45" fill-opacity="1.00"/><circle cx="513.63" cy="398.13" r="0.65" fill-opacity="1.00"/><circle cx="510.46" cy="394.61" r="1.04" fill-opacity="1.00"/><circle cx="493.63" cy="380.35" r="0.59" fill-opacity="0.35"/><circle cx="482.05" cy="399.43" r="0.59" fill-opacity="0.35"/><circle cx="490.01" cy="382.41" r="0.78" fill-opacity="0.90"/><circle cx="515.42" cy="403.26" r="0.65" fill-opacity="1.00"/><circle cx="514.38" cy="374.15" r="1.04" fill-opacity="0.75"/><circle cx="496.21" cy="406.22" r="1.04" fill-opacity="0.90"/><circle cx="510.06" cy="388.02" r="1.56" fill-opacity="0.55"/><circle cx="511.92" cy="389.02" r="0.78" fill-opacity="0.75"/><circle cx="499.19" cy="410.08" r="0.78" fill-opacity="0.75"/><circle cx="496.02" cy="374.32" r="1.23" fill-opacity="0.35"/><circle cx="503.79" cy="387.31" r="0.59" fill-opacity="1.00"/><circle cx="521.21" cy="389.48" r="1.23" fill-opacity="0.90"/><circle cx="488.5" cy="380.18" r="1.04" fill-opacity="1.00"/><circle cx="499.1" cy="411.4" r="1.56" fill-opacity="0.35"/><circle cx="519.72" cy="373.73" r="0.78" fill-opacity="0.90"/><circle cx="491.66" cy="408.48" r="1.04" fill-opacity="1.00"/><circle cx="516.5" cy="369.11" r="0.59" fill-opacity="0.55"/><circle cx="513.57" cy="395.09" r="0.45" fill-opacity="0.55"/><circle cx="489.5" cy="382.04" r="0.78" fill-opacity="0.90"/><circle cx="488.73" cy="379.11" r="1.23" fill-opacity="0.75"/><circle cx="494.61" cy="379.1" r="0.45" fill-opacity="1.00"/><circle cx="518.77" cy="400.06" r="1.56" fill-opacity="1.00"/><circle cx="521.97" cy="385.84" r="0.78" fill-opacity="0.90"/><circle cx="501.75" cy="391.1" r="0.59" fill-opacity="0.35"/><circle cx="492.56" cy="393.98" r="0.78" fill-opacity="1.00"/><circle cx="506.88" cy="403.63" r="0.59" fill-opacity="1.00"/><circle cx="485.09" cy="380.22" r="0.78" fill-opacity="1.00"/><circle cx="518.53" cy="382" r="0.78" fill-opacity="0.75"/><circle cx="496.9" cy="368.57" r="1.23" fill-opacity="0.55"/><circle cx="489.21" cy="383.49" r="1.23" fill-opacity="1.00"/><circle cx="490.46" cy="395.1" r="0.65" fill-opacity="1.00"/><circle cx="515.87" cy="397.9" r="0.78" fill-opacity="0.90"/><circle cx="503.46" cy="371.27" r="0.78" fill-opacity="0.55"/><circle cx="494.12" cy="407.55" r="0.59" fill-opacity="0.55"/><circle cx="505.47" cy="411.21" r="0.59" fill-opacity="0.35"/><circle cx="515.5" cy="374.86" r="1.23" fill-opacity="1.00"/><circle cx="513.36" cy="391.3" r="0.65" fill-opacity="1.00"/><circle cx="503.66" cy="398.97" r="0.45" fill-opacity="0.75"/><circle cx="514.86" cy="373.65" r="1.23" fill-opacity="0.90"/><circle cx="522.37" cy="384.49" r="1.56" fill-opacity="0.55"/><circle cx="516.18" cy="383.6" r="0.91" fill-opacity="1.00"/><circle cx="498.52" cy="400.05" r="1.56" fill-opacity="1.00"/><circle cx="523.99" cy="385.32" r="1.04" fill-opacity="1.00"/><circle cx="477.71" cy="386.49" r="0.91" fill-opacity="0.75"/><circle cx="481.72" cy="387.19" r="0.59" fill-opacity="0.55"/><circle cx="498.63" cy="411.8" r="1.56" fill-opacity="1.00"/><circle cx="490.42" cy="379.82" r="0.65" fill-opacity="0.90"/><circle cx="494.2" cy="378.86" r="1.23" fill-opacity="0.90"/><circle cx="507.01" cy="404.22" r="0.65" fill-opacity="0.55"/><circle cx="487.78" cy="379.44" r="0.65" fill-opacity="1.00"/><circle cx="498.62" cy="391.82" r="0.45" fill-opacity="1.00"/><circle cx="506.39" cy="405.01" r="0.78" fill-opacity="0.75"/><circle cx="511.32" cy="399.15" r="0.65" fill-opacity="1.00"/><circle cx="521.94" cy="378.3" r="1.23" fill-opacity="1.00"/><circle cx="501.19" cy="381.72" r="1.04" fill-opacity="0.55"/><circle cx="490.35" cy="407.93" r="0.78" fill-opacity="0.90"/><circle cx="490.11" cy="387.34" r="0.59" fill-opacity="0.55"/><circle cx="500.14" cy="406.51" r="1.23" fill-opacity="1.00"/><circle cx="516.02" cy="398.76" r="0.59" fill-opacity="0.35"/><circle cx="501.31" cy="374.05" r="0.59" fill-opacity="0.90"/><circle cx="495.05" cy="405.81" r="1.56" fill-opacity="0.55"/><circle cx="520.66" cy="391.74" r="0.65" fill-opacity="0.55"/><circle cx="500.7" cy="386.41" r="0.59" fill-opacity="0.90"/><circle cx="513.01" cy="388.45" r="0.91" fill-opacity="0.35"/><circle cx="524.66" cy="392.79" r="0.45" fill-opacity="0.75"/><circle cx="488.55" cy="369.63" r="1.56" fill-opacity="0.55"/><circle cx="500.18" cy="369.83" r="1.04" fill-opacity="0.75"/><circle cx="499.87" cy="374.36" r="0.91" fill-opacity="0.90"/><circle cx="484.3" cy="402.14" r="0.59" fill-opacity="0.55"/><circle cx="487.36" cy="406.72" r="0.65" fill-opacity="0.35"/><circle cx="492.29" cy="379.09" r="1.23" fill-opacity="0.55"/><circle cx="485.81" cy="376.84" r="1.23" fill-opacity="0.35"/><circle cx="515.48" cy="387.15" r="0.59" fill-opacity="0.35"/><circle cx="497.83" cy="409.53" r="0.78" fill-opacity="1.00"/><circle cx="520.8" cy="374.21" r="0.45" fill-opacity="0.75"/><circle cx="494.35" cy="398.97" r="0.45" fill-opacity="1.00"/><circle cx="482.73" cy="388.43" r="1.56" fill-opacity="1.00"/><circle cx="514.16" cy="405.01" r="0.59" fill-opacity="0.75"/><circle cx="511.38" cy="368.79" r="0.59" fill-opacity="0.75"/><circle cx="482.69" cy="402.77" r="1.56" fill-opacity="0.55"/><circle cx="506.71" cy="368.69" r="0.78" fill-opacity="1.00"/><circle cx="482.96" cy="393.59" r="0.45" fill-opacity="0.35"/><circle cx="505.43" cy="373.3" r="0.59" fill-opacity="0.35"/><circle cx="504.85" cy="393.49" r="0.45" fill-opacity="0.55"/><circle cx="507.1" cy="393.76" r="0.45" fill-opacity="0.35"/><circle cx="491.01" cy="399.75" r="1.23" fill-opacity="1.00"/><circle cx="496.59" cy="386.81" r="0.45" fill-opacity="1.00"/><circle cx="499.24" cy="365.63" r="1.23" fill-opacity="0.90"/><circle cx="508.71" cy="371.87" r="1.04" fill-opacity="1.00"/><circle cx="500.35" cy="398.78" r="0.45" fill-opacity="1.00"/><circle cx="489.61" cy="389.71" r="1.56" fill-opacity="0.90"/><circle cx="495.89" cy="403.85" r="0.78" fill-opacity="0.75"/><circle cx="493.07" cy="369.61" r="0.91" fill-opacity="1.00"/><circle cx="480" cy="394.66" r="0.45" fill-opacity="0.35"/><circle cx="519.73" cy="397.06" r="1.04" fill-opacity="1.00"/><circle cx="498.74" cy="397.26" r="0.65" fill-opacity="0.90"/><circle cx="494.87" cy="402.51" r="1.56" fill-opacity="1.00"/><circle cx="516.17" cy="368.62" r="0.91" fill-opacity="0.35"/><circle cx="491.71" cy="395.41" r="1.56" fill-opacity="0.90"/><circle cx="504.45" cy="409.17" r="1.56" fill-opacity="0.35"/><circle cx="502.59" cy="376.93" r="1.56" fill-opacity="0.35"/><circle cx="523.8" cy="387.38" r="0.45" fill-opacity="0.75"/><circle cx="494.3" cy="372.71" r="0.45" fill-opacity="1.00"/><circle cx="504.1" cy="380.79" r="0.78" fill-opacity="0.55"/><circle cx="511.86" cy="392.9" r="0.45" fill-opacity="0.35"/><circle cx="495.78" cy="389.04" r="0.45" fill-opacity="1.00"/><circle cx="483.83" cy="380.15" r="0.59" fill-opacity="1.00"/><circle cx="515.64" cy="372.44" r="0.59" fill-opacity="0.75"/><circle cx="499.85" cy="403.7" r="1.04" fill-opacity="1.00"/><circle cx="479.62" cy="390.9" r="1.56" fill-opacity="0.35"/><circle cx="507.18" cy="379.29" r="1.04" fill-opacity="0.55"/><circle cx="521.9" cy="398.67" r="0.78" fill-opacity="0.55"/><circle cx="520.37" cy="390.17" r="1.04" fill-opacity="0.90"/><circle cx="518.6" cy="399.66" r="0.65" fill-opacity="0.90"/><circle cx="503.75" cy="375.63" r="0.91" fill-opacity="1.00"/><circle cx="487.63" cy="391.23" r="1.23" fill-opacity="0.75"/><circle cx="512.57" cy="374.26" r="0.65" fill-opacity="0.75"/><circle cx="500.89" cy="395.99" r="0.59" fill-opacity="0.75"/><circle cx="500.61" cy="365.7" r="0.91" fill-opacity="0.35"/><circle cx="480.74" cy="387.3" r="1.04" fill-opacity="0.35"/><circle cx="498.08" cy="403.23" r="0.78" fill-opacity="1.00"/><circle cx="505.95" cy="366.42" r="1.56" fill-opacity="0.55"/><circle cx="509.95" cy="377.51" r="0.59" fill-opacity="1.00"/><circle cx="517.79" cy="404.95" r="1.56" fill-opacity="0.90"/><circle cx="509.59" cy="396.89" r="1.23" fill-opacity="0.35"/><circle cx="489.38" cy="388.45" r="0.59" fill-opacity="1.00"/><circle cx="495.1" cy="387.44" r="0.78" fill-opacity="0.75"/><circle cx="498.6" cy="368.46" r="0.65" fill-opacity="1.00"/><circle cx="491.32" cy="403.81" r="0.78" fill-opacity="0.75"/><circle cx="504.48" cy="401.34" r="0.91" fill-opacity="0.90"/><circle cx="498.43" cy="388.53" r="1.56" fill-opacity="0.35"/><circle cx="510.34" cy="405.25" r="0.45" fill-opacity="0.75"/><circle cx="511.73" cy="379.89" r="0.78" fill-opacity="0.35"/><circle cx="481.4" cy="377.41" r="0.59" fill-opacity="0.90"/><circle cx="514.98" cy="381.11" r="0.91" fill-opacity="0.35"/><circle cx="512.84" cy="393.11" r="0.78" fill-opacity="0.35"/><circle cx="510.89" cy="397.74" r="0.78" fill-opacity="0.90"/><circle cx="495.11" cy="402.54" r="1.04" fill-opacity="1.00"/><circle cx="515.8" cy="395.47" r="0.59" fill-opacity="0.90"/><circle cx="494.81" cy="386.62" r="0.45" fill-opacity="0.55"/><circle cx="505.58" cy="373.21" r="1.04" fill-opacity="1.00"/><circle cx="502.4" cy="388.93" r="0.65" fill-opacity="0.75"/><circle cx="518.2" cy="402.7" r="1.04" fill-opacity="1.00"/><circle cx="485.91" cy="386.33" r="0.65" fill-opacity="0.75"/><circle cx="479.89" cy="387.06" r="0.78" fill-opacity="0.75"/><circle cx="500.76" cy="389.94" r="0.45" fill-opacity="0.35"/><circle cx="499.83" cy="399.57" r="0.65" fill-opacity="0.75"/><circle cx="521.32" cy="390.38" r="0.91" fill-opacity="1.00"/><circle cx="502.99" cy="386.92" r="0.65" fill-opacity="0.55"/><circle cx="483.8" cy="388.34" r="1.23" fill-opacity="0.90"/></g>
<circle cx="553.5" cy="388" r="25.3" fill="url(#pg)"/>
<g fill="#5a32b8"><circle cx="530.38" cy="383.34" r="0.42" fill-opacity="1.00"/><circle cx="530.49" cy="395.57" r="0.42" fill-opacity="0.75"/><circle cx="553.63" cy="368.19" r="1.02" fill-opacity="0.90"/><circle cx="564.26" cy="379.24" r="0.59" fill-opacity="0.35"/><circle cx="534.91" cy="390.46" r="0.68" fill-opacity="0.55"/><circle cx="562.44" cy="381.14" r="0.59" fill-opacity="0.90"/><circle cx="539.07" cy="389.85" r="0.38" fill-opacity="0.75"/><circle cx="573.52" cy="387.59" r="0.68" fill-opacity="0.75"/><circle cx="539.52" cy="392.24" r="0.68" fill-opacity="1.00"/><circle cx="549.55" cy="377.67" r="1.02" fill-opacity="0.55"/><circle cx="545.88" cy="393.71" r="0.68" fill-opacity="0.55"/><circle cx="540.63" cy="371.96" r="0.42" fill-opacity="1.00"/><circle cx="562.72" cy="391.97" r="0.59" fill-opacity="0.35"/><circle cx="569.2" cy="396.89" r="0.81" fill-opacity="1.00"/><circle cx="566.93" cy="390.22" r="0.38" fill-opacity="0.75"/><circle cx="552.27" cy="409.91" r="0.38" fill-opacity="1.00"/><circle cx="531.95" cy="382.92" r="0.38" fill-opacity="0.75"/><circle cx="572.92" cy="374.73" r="0.68" fill-opacity="0.90"/><circle cx="559.36" cy="394.05" r="0.81" fill-opacity="0.55"/><circle cx="549.7" cy="370.07" r="1.02" fill-opacity="0.75"/><circle cx="538.44" cy="376.92" r="0.81" fill-opacity="1.00"/><circle cx="557.65" cy="401.53" r="0.59" fill-opacity="0.35"/><circle cx="570.24" cy="373.28" r="0.42" fill-opacity="1.00"/><circle cx="566.58" cy="395.69" r="0.81" fill-opacity="0.55"/><circle cx="554.13" cy="372.51" r="0.3" fill-opacity="0.55"/><circle cx="539.18" cy="369.7" r="0.38" fill-opacity="1.00"/><circle cx="555.66" cy="380.84" r="1.02" fill-opacity="0.75"/><circle cx="575.79" cy="382.49" r="0.3" fill-opacity="0.90"/><circle cx="563.22" cy="390.59" r="0.81" fill-opacity="1.00"/><circle cx="557.53" cy="380.26" r="0.59" fill-opacity="0.55"/><circle cx="567.3" cy="395.98" r="0.81" fill-opacity="1.00"/><circle cx="530.93" cy="396.46" r="0.3" fill-opacity="0.55"/><circle cx="565.41" cy="370.93" r="0.3" fill-opacity="0.90"/><circle cx="561.27" cy="393.71" r="0.81" fill-opacity="1.00"/><circle cx="537.13" cy="383.43" r="1.02" fill-opacity="0.35"/><circle cx="568.34" cy="392.37" r="1.02" fill-opacity="0.55"/><circle cx="530.35" cy="385.74" r="0.81" fill-opacity="1.00"/><circle cx="552.57" cy="366.89" r="0.81" fill-opacity="1.00"/><circle cx="543.15" cy="397.26" r="0.81" fill-opacity="0.75"/><circle cx="566.84" cy="393.06" r="0.59" fill-opacity="0.90"/><circle cx="576.27" cy="379.81" r="0.3" fill-opacity="1.00"/><circle cx="552.78" cy="394.17" r="1.02" fill-opacity="0.90"/><circle cx="542.95" cy="384.57" r="0.51" fill-opacity="0.35"/><circle cx="558.83" cy="389.53" r="0.42" fill-opacity="0.35"/><circle cx="530.07" cy="392.55" r="0.38" fill-opacity="0.55"/><circle cx="547.13" cy="401.25" r="0.81" fill-opacity="1.00"/><circle cx="565.32" cy="368.3" r="0.81" fill-opacity="0.90"/><circle cx="537.65" cy="372.01" r="0.38" fill-opacity="1.00"/><circle cx="550.61" cy="394.44" r="0.38" fill-opacity="1.00"/><circle cx="552.7" cy="381.55" r="0.38" fill-opacity="1.00"/><circle cx="555.49" cy="407.23" r="0.42" fill-opacity="0.75"/><circle cx="566.11" cy="403.54" r="1.02" fill-opacity="0.55"/><circle cx="571.63" cy="372.15" r="0.68" fill-opacity="1.00"/><circle cx="554.22" cy="399.47" r="1.02" fill-opacity="0.90"/><circle cx="543.49" cy="406.57" r="0.81" fill-opacity="0.35"/><circle cx="549.43" cy="374.02" r="1.02" fill-opacity="0.90"/><circle cx="563.93" cy="381" r="1.02" fill-opacity="0.35"/><circle cx="539.02" cy="380.33" r="0.59" fill-opacity="0.55"/><circle cx="538.59" cy="370.44" r="0.38" fill-opacity="1.00"/><circle cx="535.46" cy="396.38" r="0.68" fill-opacity="0.55"/><circle cx="561.8" cy="372.22" r="1.02" fill-opacity="1.00"/><circle cx="540" cy="392.94" r="0.38" fill-opacity="1.00"/><circle cx="554.51" cy="395.48" r="0.38" fill-opacity="1.00"/><circle cx="550.73" cy="390.53" r="0.42" fill-opacity="1.00"/><circle cx="554.94" cy="383.54" r="0.38" fill-opacity="1.00"/><circle cx="565.83" cy="370.32" r="0.81" fill-opacity="0.35"/><circle cx="542.51" cy="386.35" r="0.3" fill-opacity="1.00"/><circle cx="542.25" cy="394.01" r="0.81" fill-opacity="0.75"/><circle cx="552.2" cy="389.54" r="0.42" fill-opacity="0.55"/><circle cx="552.37" cy="403.2" r="0.3" fill-opacity="0.75"/><circle cx="565.1" cy="399.26" r="0.68" fill-opacity="1.00"/><circle cx="566.76" cy="370.87" r="0.59" fill-opacity="0.35"/><circle cx="563.46" cy="373.46" r="0.68" fill-opacity="0.35"/><circle cx="553.77" cy="369.27" r="1.02" fill-opacity="1.00"/><circle cx="533.84" cy="402.17" r="0.38" fill-opacity="0.55"/><circle cx="553.22" cy="365.98" r="0.51" fill-opacity="1.00"/><circle cx="561.91" cy="370.65" r="0.51" fill-opacity="0.75"/><circle cx="534.44" cy="399.18" r="0.68" fill-opacity="1.00"/><circle cx="546.87" cy="410.07" r="0.68" fill-opacity="0.35"/><circle cx="546.42" cy="377.18" r="0.68" fill-opacity="1.00"/><circle cx="575.8" cy="392.68" r="0.59" fill-opacity="0.55"/><circle cx="539.58" cy="403.96" r="0.3" fill-opacity="0.55"/><circle cx="560.17" cy="390.3" r="0.38" fill-opacity="0.75"/><circle cx="556.45" cy="401.85" r="0.42" fill-opacity="0.75"/><circle cx="574.27" cy="398.11" r="1.02" fill-opacity="0.55"/><circle cx="536.37" cy="386.29" r="0.68" fill-opacity="1.00"/><circle cx="572.74" cy="399.91" r="0.59" fill-opacity="0.75"/><circle cx="575.4" cy="394.63" r="0.38" fill-opacity="1.00"/><circle cx="554.46" cy="387.75" r="0.59" fill-opacity="1.00"/><circle cx="574.24" cy="394.2" r="0.38" fill-opacity="0.55"/><circle cx="543.6" cy="398.7" r="0.81" fill-opacity="0.35"/><circle cx="540.76" cy="403.27" r="0.51" fill-opacity="0.90"/><circle cx="548.16" cy="410.52" r="0.68" fill-opacity="1.00"/><circle cx="536.67" cy="389.33" r="0.81" fill-opacity="1.00"/><circle cx="553.44" cy="388.4" r="0.51" fill-opacity="0.75"/><circle cx="553.27" cy="370.71" r="0.68" fill-opacity="1.00"/><circle cx="542.16" cy="366.61" r="0.42" fill-opacity="1.00"/><circle cx="554.44" cy="409.1" r="0.59" fill-opacity="0.90"/><circle cx="538.61" cy="386.35" r="0.38" fill-opacity="0.75"/><circle cx="541.1" cy="404.4" r="0.3" fill-opacity="0.75"/><circle cx="568.62" cy="403.08" r="0.42" fill-opacity="0.75"/><circle cx="554.27" cy="384.7" r="1.02" fill-opacity="1.00"/><circle cx="576.31" cy="390.25" r="0.3" fill-opacity="0.35"/><circle cx="532.62" cy="399.37" r="0.81" fill-opacity="0.35"/><circle cx="556.5" cy="395.15" r="0.51" fill-opacity="1.00"/><circle cx="564.19" cy="404.93" r="0.38" fill-opacity="1.00"/><circle cx="570.34" cy="402.53" r="0.51" fill-opacity="1.00"/><circle cx="571.51" cy="374.23" r="0.68" fill-opacity="1.00"/><circle cx="550.39" cy="371.67" r="0.38" fill-opacity="0.55"/><circle cx="556.38" cy="368.6" r="0.42" fill-opacity="0.75"/><circle cx="566.11" cy="402.91" r="0.68" fill-opacity="1.00"/><circle cx="557.33" cy="365.34" r="0.81" fill-opacity="1.00"/><circle cx="549.53" cy="378.67" r="0.38" fill-opacity="0.55"/><circle cx="562.96" cy="409.55" r="0.38" fill-opacity="0.75"/><circle cx="558.46" cy="402.46" r="0.68" fill-opacity="1.00"/><circle cx="567.16" cy="368.06" r="0.59" fill-opacity="1.00"/><circle cx="558.96" cy="382.78" r="1.02" fill-opacity="0.55"/><circle cx="555.42" cy="392.47" r="1.02" fill-opacity="0.75"/><circle cx="542.5" cy="408.2" r="0.38" fill-opacity="1.00"/><circle cx="534.57" cy="380.93" r="0.68" fill-opacity="0.75"/><circle cx="543.57" cy="366.07" r="0.51" fill-opacity="0.55"/><circle cx="541.03" cy="386.63" r="0.42" fill-opacity="0.35"/><circle cx="553.93" cy="409.41" r="0.42" fill-opacity="0.35"/><circle cx="563.57" cy="406.79" r="0.3" fill-opacity="1.00"/><circle cx="568.9" cy="405.38" r="0.59" fill-opacity="0.35"/><circle cx="532.98" cy="395.4" r="0.42" fill-opacity="1.00"/><circle cx="543.15" cy="387.22" r="0.81" fill-opacity="0.90"/><circle cx="577.05" cy="382.26" r="0.42" fill-opacity="0.35"/><circle cx="545.2" cy="394.06" r="0.51" fill-opacity="1.00"/><circle cx="558.36" cy="400.26" r="0.59" fill-opacity="0.75"/><circle cx="539.17" cy="403.45" r="1.02" fill-opacity="0.35"/><circle cx="548" cy="396.29" r="0.42" fill-opacity="0.55"/><circle cx="554.94" cy="398.32" r="0.3" fill-opacity="0.90"/><circle cx="549.89" cy="400.36" r="0.81" fill-opacity="0.75"/><circle cx="542.69" cy="373.58" r="0.59" fill-opacity="0.90"/><circle cx="546.98" cy="398.12" r="0.68" fill-opacity="0.55"/><circle cx="567.17" cy="377.5" r="0.81" fill-opacity="1.00"/><circle cx="544.39" cy="370" r="0.81" fill-opacity="0.90"/><circle cx="545.92" cy="386.17" r="0.81" fill-opacity="0.90"/><circle cx="537.1" cy="381.38" r="0.3" fill-opacity="0.35"/><circle cx="538.35" cy="379.92" r="0.42" fill-opacity="1.00"/><circle cx="552.29" cy="369.37" r="0.81" fill-opacity="0.55"/><circle cx="540.7" cy="397.41" r="0.68" fill-opacity="0.75"/><circle cx="566.36" cy="407.14" r="0.59" fill-opacity="0.75"/><circle cx="540.84" cy="383.2" r="0.3" fill-opacity="1.00"/><circle cx="560.25" cy="399.96" r="0.38" fill-opacity="0.55"/><circle cx="566.01" cy="403.81" r="0.42" fill-opacity="0.55"/><circle cx="571.17" cy="399.33" r="0.51" fill-opacity="0.55"/><circle cx="561.87" cy="367.08" r="0.59" fill-opacity="0.35"/><circle cx="542.72" cy="407.67" r="0.3" fill-opacity="0.35"/><circle cx="533.21" cy="399.29" r="0.51" fill-opacity="0.90"/><circle cx="542.33" cy="373.4" r="0.38" fill-opacity="0.55"/><circle cx="534.56" cy="401.91" r="1.02" fill-opacity="1.00"/><circle cx="541.21" cy="401.39" r="0.3" fill-opacity="0.55"/><circle cx="541.04" cy="386.71" r="0.68" fill-opacity="1.00"/><circle cx="551.12" cy="370.99" r="0.68" fill-opacity="1.00"/><circle cx="534.74" cy="383.81" r="1.02" fill-opacity="0.90"/><circle cx="553.31" cy="373.21" r="0.81" fill-opacity="0.35"/><circle cx="539.39" cy="378.48" r="0.51" fill-opacity="1.00"/><circle cx="551.3" cy="405.49" r="0.42" fill-opacity="0.35"/><circle cx="554.3" cy="400.37" r="0.81" fill-opacity="0.90"/><circle cx="559.03" cy="395.75" r="0.68" fill-opacity="0.35"/><circle cx="571" cy="378.09" r="0.42" fill-opacity="1.00"/><circle cx="557.03" cy="400.8" r="0.42" fill-opacity="0.55"/><circle cx="557.59" cy="392.93" r="0.51" fill-opacity="0.35"/><circle cx="541.63" cy="402.04" r="0.59" fill-opacity="0.90"/><circle cx="548.48" cy="411.49" r="0.59" fill-opacity="0.35"/><circle cx="555.23" cy="366.45" r="0.81" fill-opacity="1.00"/><circle cx="562" cy="406.59" r="0.38" fill-opacity="1.00"/><circle cx="558.15" cy="408.6" r="0.68" fill-opacity="1.00"/><circle cx="538.77" cy="370.06" r="0.51" fill-opacity="0.90"/><circle cx="535.43" cy="380.44" r="0.42" fill-opacity="0.90"/><circle cx="549.8" cy="395.97" r="0.3" fill-opacity="0.35"/><circle cx="533.99" cy="377.87" r="0.68" fill-opacity="1.00"/><circle cx="540.33" cy="389.01" r="0.51" fill-opacity="1.00"/><circle cx="557.51" cy="398.82" r="0.3" fill-opacity="1.00"/><circle cx="556.09" cy="411.3" r="0.81" fill-opacity="0.35"/><circle cx="540.37" cy="388.79" r="0.59" fill-opacity="1.00"/><circle cx="529.45" cy="386.39" r="0.81" fill-opacity="0.75"/><circle cx="554.85" cy="381.86" r="0.81" fill-opacity="0.35"/><circle cx="557.32" cy="376.86" r="0.81" fill-opacity="1.00"/><circle cx="565.17" cy="375.04" r="0.51" fill-opacity="0.35"/><circle cx="556.9" cy="411.38" r="0.59" fill-opacity="0.75"/><circle cx="533.24" cy="380.43" r="0.38" fill-opacity="1.00"/><circle cx="550.86" cy="406.01" r="0.3" fill-opacity="0.55"/><circle cx="567.71" cy="395.5" r="0.68" fill-opacity="0.55"/><circle cx="548.26" cy="389.23" r="0.81" fill-opacity="0.55"/><circle cx="539.15" cy="372.14" r="0.68" fill-opacity="1.00"/><circle cx="576.24" cy="394.24" r="0.51" fill-opacity="0.35"/><circle cx="557.04" cy="402.25" r="1.02" fill-opacity="0.75"/><circle cx="556.02" cy="387.18" r="1.02" fill-opacity="0.90"/><circle cx="540.53" cy="391.25" r="0.59" fill-opacity="0.55"/><circle cx="560.42" cy="379.86" r="0.81" fill-opacity="1.00"/><circle cx="554.82" cy="391.22" r="0.51" fill-opacity="0.90"/><circle cx="545.13" cy="400.89" r="0.81" fill-opacity="1.00"/><circle cx="538.93" cy="392.45" r="0.3" fill-opacity="0.35"/><circle cx="547.44" cy="369.54" r="0.81" fill-opacity="0.75"/><circle cx="531.24" cy="393.42" r="0.51" fill-opacity="1.00"/><circle cx="539.2" cy="394.93" r="0.3" fill-opacity="1.00"/><circle cx="564.38" cy="392.15" r="1.02" fill-opacity="0.90"/><circle cx="545.05" cy="398.06" r="0.81" fill-opacity="1.00"/><circle cx="552.97" cy="372.44" r="0.68" fill-opacity="1.00"/><circle cx="570.99" cy="403.72" r="0.68" fill-opacity="0.90"/><circle cx="573.47" cy="383.88" r="0.3" fill-opacity="1.00"/><circle cx="553.06" cy="385.64" r="0.81" fill-opacity="1.00"/><circle cx="553.3" cy="368.01" r="0.68" fill-opacity="1.00"/><circle cx="559" cy="393.82" r="0.3" fill-opacity="0.90"/><circle cx="537.94" cy="386.85" r="0.42" fill-opacity="0.55"/><circle cx="568.23" cy="402.22" r="0.68" fill-opacity="0.75"/><circle cx="558.51" cy="379.34" r="0.51" fill-opacity="0.35"/><circle cx="543.88" cy="405.62" r="0.38" fill-opacity="0.55"/><circle cx="562.3" cy="407.57" r="0.51" fill-opacity="0.35"/><circle cx="566.7" cy="384.02" r="0.42" fill-opacity="0.35"/><circle cx="550.64" cy="383.92" r="0.42" fill-opacity="0.35"/><circle cx="552.1" cy="411.34" r="1.02" fill-opacity="0.55"/><circle cx="543.54" cy="386.3" r="0.51" fill-opacity="1.00"/><circle cx="559.46" cy="371.68" r="0.3" fill-opacity="0.35"/><circle cx="557.53" cy="392.84" r="0.68" fill-opacity="0.75"/><circle cx="575.43" cy="396.17" r="0.51" fill-opacity="1.00"/><circle cx="531.26" cy="380.79" r="0.42" fill-opacity="0.35"/><circle cx="556.84" cy="377.37" r="1.02" fill-opacity="0.35"/><circle cx="551" cy="379.93" r="0.68" fill-opacity="1.00"/><circle cx="562.26" cy="400.86" r="0.81" fill-opacity="0.75"/><circle cx="551.04" cy="384.56" r="0.68" fill-opacity="0.75"/><circle cx="567.6" cy="407.45" r="0.59" fill-opacity="1.00"/><circle cx="562.04" cy="372.89" r="0.42" fill-opacity="1.00"/><circle cx="542.14" cy="370.52" r="1.02" fill-opacity="0.35"/><circle cx="564.58" cy="378.94" r="0.42" fill-opacity="0.90"/><circle cx="574.34" cy="384.68" r="0.59" fill-opacity="1.00"/><circle cx="547.31" cy="389.45" r="0.59" fill-opacity="0.35"/><circle cx="531.24" cy="394.62" r="0.38" fill-opacity="0.90"/><circle cx="573.06" cy="385.37" r="0.42" fill-opacity="0.55"/><circle cx="541.91" cy="371.27" r="1.02" fill-opacity="0.35"/><circle cx="552.86" cy="387.3" r="0.38" fill-opacity="0.90"/><circle cx="561.38" cy="388.41" r="0.51" fill-opacity="1.00"/><circle cx="568.01" cy="369.96" r="0.81" fill-opacity="0.35"/><circle cx="541.76" cy="383.72" r="0.81" fill-opacity="0.35"/><circle cx="554.7" cy="402.3" r="0.3" fill-opacity="0.75"/><circle cx="555.48" cy="391.45" r="0.68" fill-opacity="1.00"/><circle cx="558.87" cy="399.94" r="0.81" fill-opacity="0.75"/><circle cx="562.69" cy="408.42" r="0.68" fill-opacity="0.55"/><circle cx="554.82" cy="387.19" r="0.59" fill-opacity="0.75"/><circle cx="548.16" cy="393.92" r="1.02" fill-opacity="0.55"/><circle cx="545.56" cy="374.36" r="0.38" fill-opacity="1.00"/><circle cx="541.71" cy="394.92" r="0.38" fill-opacity="0.75"/><circle cx="551.43" cy="364.16" r="0.51" fill-opacity="1.00"/><circle cx="545.27" cy="395.57" r="0.42" fill-opacity="0.55"/><circle cx="552.74" cy="376.4" r="0.68" fill-opacity="1.00"/><circle cx="544.35" cy="369.83" r="0.59" fill-opacity="1.00"/><circle cx="562.09" cy="383.82" r="1.02" fill-opacity="1.00"/><circle cx="545.99" cy="405.71" r="0.51" fill-opacity="0.90"/><circle cx="569.94" cy="385.27" r="1.02" fill-opacity="1.00"/><circle cx="553.38" cy="381.54" r="0.51" fill-opacity="0.90"/><circle cx="563.23" cy="394.43" r="0.3" fill-opacity="0.75"/><circle cx="542.51" cy="377.55" r="0.3" fill-opacity="0.75"/><circle cx="558.02" cy="370.67" r="0.81" fill-opacity="0.55"/><circle cx="546.7" cy="381.84" r="1.02" fill-opacity="0.75"/><circle cx="557.78" cy="389.42" r="0.38" fill-opacity="1.00"/><circle cx="543.88" cy="369.47" r="0.81" fill-opacity="0.55"/><circle cx="546.59" cy="399.5" r="0.38" fill-opacity="0.90"/><circle cx="552.08" cy="370.37" r="0.3" fill-opacity="0.75"/><circle cx="573.83" cy="397.99" r="0.38" fill-opacity="1.00"/><circle cx="565.48" cy="402.91" r="0.68" fill-opacity="0.75"/><circle cx="546.72" cy="379.35" r="0.81" fill-opacity="0.75"/><circle cx="568.24" cy="372.77" r="0.81" fill-opacity="1.00"/><circle cx="550.58" cy="378.43" r="0.42" fill-opacity="0.90"/><circle cx="541.52" cy="399.12" r="0.68" fill-opacity="0.75"/><circle cx="563.86" cy="404.56" r="0.81" fill-opacity="0.55"/><circle cx="546.41" cy="402.36" r="0.68" fill-opacity="0.90"/><circle cx="568.79" cy="370.57" r="1.02" fill-opacity="1.00"/><circle cx="536.32" cy="384.17" r="0.68" fill-opacity="0.90"/><circle cx="557.03" cy="397.07" r="1.02" fill-opacity="0.75"/><circle cx="557.77" cy="373.35" r="0.81" fill-opacity="0.35"/><circle cx="567.55" cy="381.99" r="0.68" fill-opacity="0.90"/><circle cx="573.39" cy="391.57" r="0.59" fill-opacity="1.00"/><circle cx="564.78" cy="399.07" r="1.02" fill-opacity="0.90"/><circle cx="559.51" cy="372.55" r="0.42" fill-opacity="1.00"/><circle cx="571.98" cy="393.42" r="1.02" fill-opacity="1.00"/><circle cx="568.92" cy="384.4" r="1.02" fill-opacity="1.00"/><circle cx="540.23" cy="399.11" r="0.42" fill-opacity="0.55"/><circle cx="567.23" cy="381.99" r="0.68" fill-opacity="0.75"/><circle cx="558.5" cy="372.57" r="1.02" fill-opacity="1.00"/><circle cx="573.52" cy="389.26" r="0.51" fill-opacity="1.00"/><circle cx="547.96" cy="399.47" r="0.51" fill-opacity="0.75"/><circle cx="569.02" cy="377.31" r="0.68" fill-opacity="0.55"/><circle cx="549.05" cy="405.6" r="0.3" fill-opacity="0.55"/><circle cx="556.51" cy="395.2" r="0.59" fill-opacity="0.55"/><circle cx="572.43" cy="382.02" r="1.02" fill-opacity="0.55"/><circle cx="566.86" cy="368.99" r="1.02" fill-opacity="1.00"/><circle cx="560.6" cy="372.07" r="0.3" fill-opacity="0.75"/><circle cx="563.82" cy="376.92" r="0.3" fill-opacity="1.00"/><circle cx="560.77" cy="372.63" r="0.38" fill-opacity="1.00"/><circle cx="563.48" cy="383.68" r="0.81" fill-opacity="0.35"/><circle cx="554.88" cy="383.93" r="0.81" fill-opacity="0.75"/><circle cx="559.75" cy="383.56" r="0.42" fill-opacity="0.90"/><circle cx="570.93" cy="378.42" r="0.59" fill-opacity="0.35"/><circle cx="541.75" cy="389.47" r="0.42" fill-opacity="0.90"/><circle cx="542.82" cy="381.58" r="0.68" fill-opacity="0.75"/><circle cx="568.03" cy="389.77" r="0.59" fill-opacity="0.35"/><circle cx="549.67" cy="387.9" r="0.38" fill-opacity="0.55"/><circle cx="570.99" cy="378.9" r="0.68" fill-opacity="0.35"/><circle cx="542.07" cy="370.59" r="0.38" fill-opacity="0.55"/><circle cx="548.57" cy="398.78" r="0.38" fill-opacity="0.75"/><circle cx="551.14" cy="378.67" r="1.02" fill-opacity="0.90"/><circle cx="573.33" cy="391.2" r="0.68" fill-opacity="0.75"/><circle cx="545.21" cy="406.72" r="0.51" fill-opacity="0.35"/><circle cx="546.15" cy="402.65" r="0.51" fill-opacity="1.00"/><circle cx="552.36" cy="377.07" r="0.51" fill-opacity="0.35"/><circle cx="559.72" cy="395.24" r="0.51" fill-opacity="1.00"/><circle cx="560.27" cy="405.38" r="1.02" fill-opacity="0.55"/><circle cx="556.55" cy="409.73" r="0.59" fill-opacity="0.90"/><circle cx="565.03" cy="394.34" r="1.02" fill-opacity="0.35"/><circle cx="567.7" cy="389.4" r="0.59" fill-opacity="1.00"/><circle cx="552.86" cy="365.33" r="0.81" fill-opacity="1.00"/><circle cx="553.44" cy="407.89" r="1.02" fill-opacity="0.75"/><circle cx="542.58" cy="399.96" r="0.51" fill-opacity="0.90"/><circle cx="531.9" cy="392.86" r="1.02" fill-opacity="0.90"/><circle cx="572.35" cy="378.96" r="0.38" fill-opacity="0.90"/><circle cx="533.34" cy="395.94" r="1.02" fill-opacity="1.00"/><circle cx="530.84" cy="396.63" r="0.3" fill-opacity="0.55"/><circle cx="569.3" cy="385.37" r="0.42" fill-opacity="0.35"/><circle cx="571.46" cy="390.86" r="0.38" fill-opacity="1.00"/><circle cx="539.04" cy="398.93" r="0.3" fill-opacity="0.35"/><circle cx="545.06" cy="370.99" r="0.81" fill-opacity="0.55"/><circle cx="566.47" cy="367.77" r="0.42" fill-opacity="1.00"/><circle cx="544.17" cy="379.92" r="0.3" fill-opacity="1.00"/><circle cx="566.41" cy="381.19" r="0.3" fill-opacity="0.35"/><circle cx="535.84" cy="382.98" r="0.42" fill-opacity="0.90"/><circle cx="559.72" cy="409.49" r="0.38" fill-opacity="0.55"/><circle cx="561.09" cy="400.98" r="1.02" fill-opacity="0.55"/></g>
<circle cx="605.7" cy="388" r="25.3" fill="url(#pg)"/>
<g fill="#5a32b8"><circle cx="610.76" cy="390.71" r="0.38" fill-opacity="0.75"/><circle cx="623.36" cy="384.78" r="1.02" fill-opacity="0.55"/><circle cx="599.62" cy="375.61" r="0.3" fill-opacity="0.75"/><circle cx="590.73" cy="369.81" r="0.42" fill-opacity="0.75"/><circle cx="591" cy="395.98" r="0.51" fill-opacity="1.00"/><circle cx="584.66" cy="388.91" r="0.68" fill-opacity="0.75"/><circle cx="601.69" cy="411.92" r="0.59" fill-opacity="1.00"/><circle cx="610.53" cy="377.06" r="0.81" fill-opacity="0.35"/><circle cx="599.44" cy="397.68" r="1.02" fill-opacity="1.00"/><circle cx="600.5" cy="371.58" r="0.38" fill-opacity="0.90"/><circle cx="583.81" cy="390.23" r="0.38" fill-opacity="0.75"/><circle cx="623.3" cy="383.71" r="0.81" fill-opacity="0.35"/><circle cx="589.64" cy="384.28" r="0.68" fill-opacity="1.00"/><circle cx="614.03" cy="397.48" r="0.42" fill-opacity="1.00"/><circle cx="627.16" cy="376.77" r="0.38" fill-opacity="0.75"/><circle cx="588.92" cy="395.15" r="0.59" fill-opacity="1.00"/><circle cx="594.51" cy="387.29" r="1.02" fill-opacity="0.35"/><circle cx="595.78" cy="407.84" r="1.02" fill-opacity="1.00"/><circle cx="626.45" cy="377.8" r="0.51" fill-opacity="1.00"/><circle cx="607.97" cy="406.35" r="0.51" fill-opacity="0.35"/><circle cx="613.33" cy="368.62" r="0.68" fill-opacity="0.55"/><circle cx="600" cy="404.33" r="0.38" fill-opacity="0.90"/><circle cx="605.98" cy="368.56" r="0.38" fill-opacity="1.00"/><circle cx="586.33" cy="396.04" r="0.51" fill-opacity="0.90"/><circle cx="615.14" cy="371.06" r="0.59" fill-opacity="0.90"/><circle cx="615.03" cy="389.82" r="0.81" fill-opacity="1.00"/><circle cx="613.4" cy="388.33" r="0.81" fill-opacity="1.00"/><circle cx="613.62" cy="410.91" r="1.02" fill-opacity="1.00"/><circle cx="585.41" cy="399.47" r="0.51" fill-opacity="0.90"/><circle cx="612.34" cy="395.26" r="0.51" fill-opacity="1.00"/><circle cx="606.65" cy="382.47" r="0.42" fill-opacity="1.00"/><circle cx="604.53" cy="405" r="0.51" fill-opacity="0.75"/><circle cx="600.11" cy="406.26" r="1.02" fill-opacity="1.00"/><circle cx="606.37" cy="384.46" r="0.3" fill-opacity="0.35"/><circle cx="611.75" cy="402.18" r="0.59" fill-opacity="0.90"/><circle cx="603.25" cy="365.35" r="0.38" fill-opacity="0.90"/><circle cx="618.84" cy="372.67" r="0.68" fill-opacity="0.55"/><circle cx="584.28" cy="378.78" r="0.51" fill-opacity="0.75"/><circle cx="614.43" cy="369.29" r="0.3" fill-opacity="1.00"/><circle cx="600.98" cy="390.79" r="0.59" fill-opacity="0.35"/><circle cx="601.54" cy="379.83" r="0.68" fill-opacity="1.00"/><circle cx="620.63" cy="375.66" r="0.42" fill-opacity="0.75"/><circle cx="616.16" cy="381.31" r="1.02" fill-opacity="0.35"/><circle cx="607.16" cy="405.23" r="0.38" fill-opacity="1.00"/><circle cx="601.96" cy="384" r="1.02" fill-opacity="0.90"/><circle cx="624.13" cy="401.3" r="0.42" fill-opacity="1.00"/><circle cx="610.93" cy="365.26" r="0.42" fill-opacity="0.75"/><circle cx="617.62" cy="401.59" r="0.38" fill-opacity="1.00"/><circle cx="625.15" cy="402.27" r="0.68" fill-opacity="0.75"/><circle cx="603.59" cy="392.41" r="0.81" fill-opacity="0.55"/><circle cx="606.75" cy="370.04" r="0.42" fill-opacity="0.55"/><circle cx="609.23" cy="394.08" r="0.81" fill-opacity="1.00"/><circle cx="620.76" cy="390.32" r="0.38" fill-opacity="0.90"/><circle cx="587.26" cy="392.86" r="0.81" fill-opacity="0.75"/><circle cx="614.43" cy="406.8" r="0.38" fill-opacity="1.00"/><circle cx="629.27" cy="382.87" r="1.02" fill-opacity="0.90"/><circle cx="594.46" cy="379.31" r="0.59" fill-opacity="0.35"/><circle cx="593.19" cy="392.89" r="0.38" fill-opacity="1.00"/><circle cx="611.61" cy="411.42" r="1.02" fill-opacity="0.90"/><circle cx="609.52" cy="410.8" r="0.68" fill-opacity="0.75"/><circle cx="590.18" cy="403.89" r="0.81" fill-opacity="0.35"/><circle cx="602.09" cy="393.05" r="0.3" fill-opacity="0.55"/><circle cx="624.98" cy="400.65" r="0.59" fill-opacity="0.90"/><circle cx="600.81" cy="383.78" r="0.42" fill-opacity="0.75"/><circle cx="613.23" cy="384.84" r="0.51" fill-opacity="0.90"/><circle cx="593.71" cy="398.52" r="0.42" fill-opacity="0.35"/><circle cx="604.13" cy="364.52" r="0.38" fill-opacity="0.55"/><circle cx="616.07" cy="370.59" r="0.59" fill-opacity="0.55"/><circle cx="585.21" cy="390.73" r="0.51" fill-opacity="0.90"/><circle cx="621.51" cy="372.91" r="0.68" fill-opacity="0.35"/><circle cx="596.35" cy="366.45" r="0.68" fill-opacity="0.90"/><circle cx="603.88" cy="391.29" r="0.51" fill-opacity="0.75"/><circle cx="588.53" cy="380.07" r="1.02" fill-opacity="1.00"/><circle cx="612.77" cy="379.36" r="0.38" fill-opacity="0.75"/><circle cx="605.31" cy="383.98" r="0.81" fill-opacity="1.00"/><circle cx="604.67" cy="384.33" r="0.38" fill-opacity="0.75"/><circle cx="621.32" cy="375.67" r="1.02" fill-opacity="0.90"/><circle cx="602.83" cy="406.14" r="0.51" fill-opacity="0.35"/><circle cx="618.26" cy="385.96" r="0.3" fill-opacity="0.75"/><circle cx="600.69" cy="389.7" r="0.3" fill-opacity="0.35"/><circle cx="609.76" cy="376.42" r="0.81" fill-opacity="1.00"/><circle cx="603.95" cy="377.35" r="0.42" fill-opacity="0.90"/><circle cx="614.16" cy="394.39" r="0.38" fill-opacity="0.35"/><circle cx="591.69" cy="376.94" r="0.68" fill-opacity="1.00"/><circle cx="605.21" cy="408.4" r="0.38" fill-opacity="0.35"/><circle cx="609.45" cy="394.29" r="0.59" fill-opacity="1.00"/><circle cx="598.38" cy="385.21" r="0.38" fill-opacity="0.90"/><circle cx="593.91" cy="373.29" r="0.51" fill-opacity="0.75"/><circle cx="602.37" cy="382.47" r="0.38" fill-opacity="0.35"/><circle cx="616.66" cy="373.37" r="0.68" fill-opacity="0.75"/><circle cx="614.71" cy="383.44" r="0.68" fill-opacity="0.75"/><circle cx="592.28" cy="394.07" r="1.02" fill-opacity="0.75"/><circle cx="588.95" cy="388.17" r="0.68" fill-opacity="1.00"/><circle cx="614.81" cy="371.65" r="1.02" fill-opacity="0.75"/><circle cx="606.15" cy="371.05" r="0.81" fill-opacity="0.75"/><circle cx="621.92" cy="373.97" r="0.51" fill-opacity="1.00"/><circle cx="600.41" cy="369.45" r="0.38" fill-opacity="1.00"/><circle cx="612.8" cy="395.51" r="0.59" fill-opacity="0.90"/><circle cx="619.01" cy="389.37" r="0.68" fill-opacity="0.75"/><circle cx="614.75" cy="405.2" r="0.3" fill-opacity="0.90"/><circle cx="600.96" cy="396.97" r="0.59" fill-opacity="0.35"/><circle cx="599.05" cy="373.13" r="0.68" fill-opacity="1.00"/><circle cx="612.39" cy="384.14" r="0.42" fill-opacity="0.35"/><circle cx="604.35" cy="412.07" r="0.81" fill-opacity="1.00"/><circle cx="611.64" cy="377.7" r="0.81" fill-opacity="0.90"/><circle cx="602.92" cy="386.83" r="1.02" fill-opacity="0.75"/><circle cx="604.35" cy="391.71" r="0.51" fill-opacity="1.00"/><circle cx="613.07" cy="395.05" r="0.81" fill-opacity="0.35"/><circle cx="602.43" cy="374.48" r="0.3" fill-opacity="1.00"/><circle cx="621.25" cy="376.63" r="1.02" fill-opacity="0.55"/><circle cx="610.08" cy="405.77" r="0.81" fill-opacity="0.35"/><circle cx="622.02" cy="389.7" r="0.68" fill-opacity="0.75"/><circle cx="605.49" cy="386.55" r="0.42" fill-opacity="1.00"/><circle cx="584.62" cy="386.36" r="0.3" fill-opacity="0.35"/><circle cx="589.31" cy="383.56" r="1.02" fill-opacity="0.55"/><circle cx="622.69" cy="386.06" r="0.81" fill-opacity="0.75"/><circle cx="612.31" cy="388.2" r="0.3" fill-opacity="1.00"/><circle cx="623.9" cy="390.19" r="0.42" fill-opacity="1.00"/><circle cx="622.19" cy="402.9" r="0.38" fill-opacity="0.90"/><circle cx="617.43" cy="381.01" r="0.51" fill-opacity="0.55"/><circle cx="593.82" cy="402.25" r="1.02" fill-opacity="0.55"/><circle cx="615.82" cy="397.87" r="0.38" fill-opacity="0.55"/><circle cx="591.58" cy="368.88" r="0.38" fill-opacity="0.55"/><circle cx="616.64" cy="390.39" r="0.3" fill-opacity="0.90"/><circle cx="613.56" cy="404.56" r="0.51" fill-opacity="0.75"/><circle cx="608.99" cy="385.65" r="0.38" fill-opacity="0.90"/><circle cx="595.66" cy="390.3" r="0.42" fill-opacity="1.00"/><circle cx="605.33" cy="387.5" r="0.81" fill-opacity="0.75"/><circle cx="591.14" cy="377.06" r="0.51" fill-opacity="0.75"/><circle cx="617.08" cy="376.56" r="0.81" fill-opacity="0.75"/><circle cx="604.16" cy="375.17" r="0.68" fill-opacity="0.75"/><circle cx="602.67" cy="400.16" r="0.51" fill-opacity="1.00"/><circle cx="626.01" cy="389.99" r="0.51" fill-opacity="0.35"/><circle cx="627.26" cy="383.56" r="0.68" fill-opacity="0.75"/><circle cx="604.09" cy="411.16" r="0.38" fill-opacity="1.00"/><circle cx="602.24" cy="374.29" r="0.81" fill-opacity="1.00"/><circle cx="602.84" cy="407.11" r="0.59" fill-opacity="0.90"/><circle cx="606.81" cy="364.45" r="0.68" fill-opacity="0.55"/><circle cx="612.23" cy="384.02" r="0.81" fill-opacity="1.00"/><circle cx="617.83" cy="391.88" r="0.81" fill-opacity="0.55"/><circle cx="587.88" cy="381.1" r="0.68" fill-opacity="1.00"/><circle cx="606.95" cy="387" r="0.3" fill-opacity="0.35"/><circle cx="608.45" cy="391.38" r="0.3" fill-opacity="1.00"/><circle cx="624.37" cy="388.41" r="0.68" fill-opacity="0.55"/><circle cx="601.05" cy="380.09" r="0.81" fill-opacity="0.75"/><circle cx="619.33" cy="386.07" r="0.3" fill-opacity="1.00"/><circle cx="598.77" cy="380.78" r="1.02" fill-opacity="1.00"/><circle cx="592.1" cy="385.75" r="0.38" fill-opacity="1.00"/><circle cx="609.01" cy="409.72" r="0.51" fill-opacity="0.55"/><circle cx="593.29" cy="398.81" r="0.59" fill-opacity="0.75"/><circle cx="610.53" cy="401.92" r="0.3" fill-opacity="0.35"/><circle cx="622.91" cy="389.19" r="0.51" fill-opacity="0.75"/><circle cx="595.95" cy="390.76" r="0.42" fill-opacity="0.90"/><circle cx="612.5" cy="383.09" r="0.59" fill-opacity="1.00"/><circle cx="618.44" cy="397.54" r="0.42" fill-opacity="0.55"/><circle cx="602" cy="374.35" r="0.59" fill-opacity="0.55"/><circle cx="619.32" cy="374.81" r="0.3" fill-opacity="1.00"/><circle cx="608.12" cy="409.36" r="1.02" fill-opacity="0.55"/><circle cx="592.07" cy="373.36" r="0.81" fill-opacity="0.35"/><circle cx="615.46" cy="401.17" r="0.51" fill-opacity="1.00"/><circle cx="602.37" cy="409.59" r="0.68" fill-opacity="0.90"/><circle cx="590.07" cy="375.05" r="1.02" fill-opacity="0.90"/><circle cx="587.71" cy="374.71" r="0.3" fill-opacity="0.90"/><circle cx="611.37" cy="383.34" r="0.81" fill-opacity="0.75"/><circle cx="600.66" cy="387.12" r="0.42" fill-opacity="0.35"/><circle cx="585.56" cy="379.07" r="0.59" fill-opacity="0.90"/><circle cx="599.13" cy="390.08" r="0.42" fill-opacity="0.35"/><circle cx="601.23" cy="406.99" r="0.59" fill-opacity="0.90"/><circle cx="613.32" cy="390.31" r="0.68" fill-opacity="0.55"/><circle cx="616.43" cy="373.83" r="1.02" fill-opacity="0.90"/><circle cx="583.16" cy="394.98" r="0.42" fill-opacity="0.55"/><circle cx="613.68" cy="371.34" r="0.81" fill-opacity="0.90"/><circle cx="583.35" cy="392.87" r="0.68" fill-opacity="1.00"/><circle cx="603.54" cy="364.19" r="0.3" fill-opacity="0.75"/><circle cx="623.49" cy="383.55" r="0.38" fill-opacity="0.90"/><circle cx="602.31" cy="370.42" r="0.42" fill-opacity="0.75"/><circle cx="592" cy="370.65" r="1.02" fill-opacity="0.55"/><circle cx="615.94" cy="404.75" r="0.81" fill-opacity="1.00"/><circle cx="602.51" cy="367.45" r="0.59" fill-opacity="1.00"/><circle cx="624.47" cy="377.12" r="0.3" fill-opacity="1.00"/><circle cx="601.79" cy="404.88" r="0.59" fill-opacity="0.75"/><circle cx="607.39" cy="390.53" r="0.51" fill-opacity="0.90"/><circle cx="593.51" cy="394.73" r="0.42" fill-opacity="0.35"/><circle cx="620.17" cy="406.83" r="0.81" fill-opacity="0.55"/><circle cx="605.16" cy="398.28" r="0.38" fill-opacity="0.35"/><circle cx="616.29" cy="391" r="0.59" fill-opacity="0.90"/><circle cx="592.91" cy="399.33" r="0.38" fill-opacity="0.75"/><circle cx="611.26" cy="395.86" r="1.02" fill-opacity="1.00"/><circle cx="585.16" cy="398.97" r="0.38" fill-opacity="0.90"/><circle cx="601.36" cy="370.18" r="1.02" fill-opacity="1.00"/><circle cx="626.43" cy="377.45" r="0.68" fill-opacity="1.00"/><circle cx="620.7" cy="383.44" r="0.38" fill-opacity="1.00"/><circle cx="627.44" cy="392.62" r="0.59" fill-opacity="1.00"/><circle cx="595.82" cy="402.22" r="1.02" fill-opacity="0.35"/><circle cx="616.5" cy="402.89" r="0.68" fill-opacity="0.75"/><circle cx="615.37" cy="391.33" r="0.81" fill-opacity="0.55"/><circle cx="605.92" cy="384.54" r="0.51" fill-opacity="1.00"/><circle cx="623.5" cy="391.34" r="0.42" fill-opacity="0.75"/><circle cx="606.76" cy="401.78" r="0.51" fill-opacity="0.90"/><circle cx="610.48" cy="396.93" r="0.42" fill-opacity="0.55"/><circle cx="616.71" cy="380.14" r="0.68" fill-opacity="1.00"/><circle cx="600.45" cy="382.72" r="0.68" fill-opacity="0.75"/><circle cx="609.72" cy="392.47" r="0.68" fill-opacity="0.75"/><circle cx="626.69" cy="387.53" r="1.02" fill-opacity="0.75"/><circle cx="581.94" cy="385.08" r="0.3" fill-opacity="0.75"/><circle cx="612.69" cy="367.39" r="0.68" fill-opacity="1.00"/><circle cx="608.26" cy="395.87" r="0.3" fill-opacity="0.35"/><circle cx="591.69" cy="384.27" r="0.38" fill-opacity="0.75"/><circle cx="623.59" cy="386.41" r="0.3" fill-opacity="0.35"/><circle cx="626.5" cy="396.95" r="1.02" fill-opacity="1.00"/><circle cx="606.99" cy="381.63" r="0.51" fill-opacity="1.00"/><circle cx="626.12" cy="376.58" r="0.51" fill-opacity="0.90"/><circle cx="603.68" cy="402.72" r="0.68" fill-opacity="0.90"/><circle cx="597.64" cy="376.37" r="0.68" fill-opacity="0.75"/><circle cx="610.41" cy="376.71" r="0.42" fill-opacity="0.35"/><circle cx="609.26" cy="377.97" r="0.3" fill-opacity="1.00"/><circle cx="602.68" cy="381.31" r="0.59" fill-opacity="1.00"/><circle cx="595.43" cy="398.52" r="0.68" fill-opacity="0.55"/><circle cx="585.55" cy="398.35" r="0.81" fill-opacity="0.75"/><circle cx="623.62" cy="390.16" r="0.3" fill-opacity="1.00"/><circle cx="608.31" cy="364.2" r="0.81" fill-opacity="0.35"/><circle cx="590.13" cy="379.19" r="0.3" fill-opacity="1.00"/><circle cx="604.31" cy="387.57" r="1.02" fill-opacity="0.55"/><circle cx="607.9" cy="383.64" r="0.38" fill-opacity="0.55"/><circle cx="614.95" cy="378.81" r="0.51" fill-opacity="0.75"/><circle cx="620.55" cy="398.1" r="0.51" fill-opacity="1.00"/><circle cx="607.38" cy="381.81" r="0.42" fill-opacity="1.00"/><circle cx="601.43" cy="403.28" r="0.68" fill-opacity="1.00"/><circle cx="598.59" cy="384.3" r="0.51" fill-opacity="0.90"/><circle cx="583.96" cy="384.07" r="0.68" fill-opacity="0.55"/><circle cx="606.54" cy="366.33" r="0.3" fill-opacity="0.55"/><circle cx="597.05" cy="376.75" r="0.38" fill-opacity="0.75"/><circle cx="607.34" cy="401.84" r="1.02" fill-opacity="1.00"/><circle cx="613.8" cy="395.67" r="0.68" fill-opacity="0.35"/><circle cx="589.77" cy="373.48" r="0.38" fill-opacity="0.35"/><circle cx="601.43" cy="391.69" r="0.38" fill-opacity="0.55"/><circle cx="618.64" cy="385.56" r="0.3" fill-opacity="0.90"/><circle cx="611.85" cy="407.4" r="0.59" fill-opacity="0.55"/><circle cx="618.18" cy="381.45" r="0.51" fill-opacity="0.75"/><circle cx="586.43" cy="375.42" r="0.81" fill-opacity="0.35"/><circle cx="623.42" cy="378.12" r="0.68" fill-opacity="1.00"/><circle cx="615.6" cy="375.33" r="1.02" fill-opacity="0.75"/><circle cx="618.4" cy="374.12" r="0.68" fill-opacity="0.35"/><circle cx="607.13" cy="394.21" r="0.42" fill-opacity="0.55"/><circle cx="585.43" cy="376.26" r="0.81" fill-opacity="0.90"/><circle cx="608.59" cy="371.06" r="0.51" fill-opacity="1.00"/><circle cx="610.23" cy="403.58" r="0.3" fill-opacity="0.75"/><circle cx="594.95" cy="383.62" r="0.68" fill-opacity="1.00"/><circle cx="619.2" cy="387.29" r="0.51" fill-opacity="0.75"/><circle cx="585" cy="375.41" r="0.38" fill-opacity="1.00"/><circle cx="604.65" cy="381.09" r="1.02" fill-opacity="1.00"/><circle cx="620.65" cy="374.57" r="0.59" fill-opacity="0.75"/><circle cx="605.42" cy="412.01" r="0.51" fill-opacity="1.00"/><circle cx="613.05" cy="409.63" r="0.42" fill-opacity="0.90"/><circle cx="586.82" cy="402.72" r="0.38" fill-opacity="0.35"/><circle cx="619.2" cy="401.41" r="0.3" fill-opacity="0.35"/><circle cx="605.82" cy="363.78" r="0.38" fill-opacity="1.00"/><circle cx="621.17" cy="391.29" r="0.68" fill-opacity="1.00"/><circle cx="609.28" cy="398.03" r="0.68" fill-opacity="0.55"/><circle cx="607.02" cy="397.66" r="0.81" fill-opacity="0.75"/><circle cx="584.72" cy="376.72" r="0.81" fill-opacity="0.35"/><circle cx="600.66" cy="407.59" r="0.81" fill-opacity="0.55"/><circle cx="625.44" cy="398.4" r="0.38" fill-opacity="0.90"/><circle cx="594.89" cy="382.68" r="1.02" fill-opacity="0.75"/><circle cx="607.27" cy="376.06" r="0.3" fill-opacity="0.55"/><circle cx="609.3" cy="409.9" r="0.3" fill-opacity="0.55"/><circle cx="596.14" cy="392.14" r="0.81" fill-opacity="1.00"/><circle cx="624.2" cy="396.45" r="0.59" fill-opacity="0.75"/><circle cx="604.18" cy="406.85" r="0.42" fill-opacity="0.35"/><circle cx="612.23" cy="374.49" r="0.38" fill-opacity="0.75"/></g>
<line x1="476.1" y1="419.6" x2="630.8" y2="419.6" stroke="#222" stroke-width="1"/>
<text x="553.5" y="432.4" font-size="10.2" text-anchor="middle">low AA</text>
<text x="0" y="305.9" font-size="11.5" font-weight="bold">c</text>
<text x="103" y="321.3" font-size="12.05">4T1 (TetOn mutp53)</text>
<line x1="49" y1="349.3" x2="49" y2="486.1" stroke="#000" stroke-width="1.8"/>
<line x1="48.1" y1="485.2" x2="253.9" y2="485.2" stroke="#000" stroke-width="1.8"/>
<line x1="44.4" y1="485.2" x2="49" y2="485.2" stroke="#000" stroke-width="1.6"/>
<text x="42.7" y="485.3" font-size="11.5" text-anchor="end">0</text>
<line x1="44.4" y1="440.04" x2="49" y2="440.04" stroke="#000" stroke-width="1.6"/>
<text x="42.7" y="440.14" font-size="11.5" text-anchor="end">200</text>
<line x1="44.4" y1="394.88" x2="49" y2="394.88" stroke="#000" stroke-width="1.6"/>
<text x="42.7" y="394.98" font-size="11.5" text-anchor="end">400</text>
<line x1="44.4" y1="349.72" x2="49" y2="349.72" stroke="#000" stroke-width="1.6"/>
<text x="42.7" y="349.82" font-size="11.5" text-anchor="end">600</text>
<line x1="49" y1="485.2" x2="49" y2="490" stroke="#000" stroke-width="1.6"/>
<text x="49" y="501.3" font-size="10.7" text-anchor="middle">0</text>
<line x1="100" y1="485.2" x2="100" y2="490" stroke="#000" stroke-width="1.6"/>
<text x="100" y="501.3" font-size="10.7" text-anchor="middle">6</text>
<line x1="151" y1="485.2" x2="151" y2="490" stroke="#000" stroke-width="1.6"/>
<text x="151" y="501.3" font-size="10.7" text-anchor="middle">12</text>
<line x1="202" y1="485.2" x2="202" y2="490" stroke="#000" stroke-width="1.6"/>
<text x="202" y="501.3" font-size="10.7" text-anchor="middle">18</text>
<line x1="253" y1="485.2" x2="253" y2="490" stroke="#000" stroke-width="1.6"/>
<text x="253" y="501.3" font-size="10.7" text-anchor="middle">24</text>
<text x="149" y="511.5" font-size="10.7" text-anchor="middle">(days)</text>
<text x="18.2" y="420.5" font-size="10.7" text-anchor="middle" transform="rotate(-90 18.2 420.5)">Tumor volume (mm<tspan font-size="7" dy="-4">3</tspan><tspan dy="4">)</tspan></text>
<polyline points="49,485 100,485 151,482 189.9,475.9" fill="none" stroke="#1414d4" stroke-width="2" stroke-dasharray="5,3.2" stroke-linejoin="round"/>
<line x1="208.5" y1="470.4" x2="245.2" y2="441.7" stroke="#1414d4" stroke-width="2" stroke-dasharray="5,3.2"/>
<polyline points="49,485 100,484.5 151,479.4 202,464.5 253,433.2" fill="none" stroke="#12b812" stroke-width="2" stroke-dasharray="5,3.2" stroke-linejoin="round"/>
<polyline points="49,485 100,484.8 151,480 202,466.3 253,433.2" fill="none" stroke="#ff1010" stroke-width="2" stroke-dasharray="5,3.2" stroke-linejoin="round"/>
<polyline points="49,484.8 100,480.6 151,472.4 202,443.5 253,375.7" fill="none" stroke="#12b812" stroke-width="2" stroke-linejoin="round"/>
<polyline points="49,485 100,483 151,474.7 202,454 253,396.4" fill="none" stroke="#1414d4" stroke-width="2" stroke-linejoin="round"/>
<polyline points="49,485 100,483.4 151,477.7 202,461.9 253,416.8" fill="none" stroke="#ff1010" stroke-width="2" stroke-linejoin="round"/>
<line x1="253" y1="369.2" x2="253" y2="382.1" stroke="#222" stroke-width="1"/>
<line x1="250" y1="369.2" x2="256" y2="369.2" stroke="#222" stroke-width="1"/>
<line x1="250" y1="382.1" x2="256" y2="382.1" stroke="#222" stroke-width="1"/>
<line x1="202" y1="436.6" x2="202" y2="450" stroke="#222" stroke-width="1"/>
<line x1="199" y1="436.6" x2="205" y2="436.6" stroke="#222" stroke-width="1"/>
<line x1="199" y1="450" x2="205" y2="450" stroke="#222" stroke-width="1"/>
<line x1="253" y1="425.4" x2="253" y2="448.9" stroke="#222" stroke-width="1"/>
<line x1="250" y1="425.4" x2="256" y2="425.4" stroke="#222" stroke-width="1"/>
<line x1="250" y1="448.9" x2="256" y2="448.9" stroke="#222" stroke-width="1"/>
<line x1="202" y1="469.8" x2="202" y2="477.7" stroke="#222" stroke-width="1"/>
<line x1="199" y1="469.8" x2="205" y2="469.8" stroke="#222" stroke-width="1"/>
<line x1="199" y1="477.7" x2="205" y2="477.7" stroke="#222" stroke-width="1"/>
<rect x="46.7" y="482.7" width="4.6" height="4.6" fill="#0a0ac8" stroke="#000" stroke-width="0.7"/>
<rect x="97.7" y="482.7" width="4.6" height="4.6" fill="#0a0ac8" stroke="#000" stroke-width="0.7"/>
<rect x="148.7" y="479.7" width="4.6" height="4.6" fill="#0a0ac8" stroke="#000" stroke-width="0.7"/>
<rect x="199.7" y="473.6" width="4.6" height="4.6" fill="#0a0ac8" stroke="#000" stroke-width="0.7"/>
<rect x="250.7" y="435" width="4.6" height="4.6" fill="#0a0ac8" stroke="#000" stroke-width="0.7"/>
<circle cx="49" cy="485" r="3.2" fill="#10b810" stroke="#000" stroke-width="0.7"/>
<circle cx="100" cy="484.5" r="3.2" fill="#10b810" stroke="#000" stroke-width="0.7"/>
<circle cx="151" cy="479.4" r="3.2" fill="#10b810" stroke="#000" stroke-width="0.7"/>
<circle cx="202" cy="464.5" r="3.2" fill="#10b810" stroke="#000" stroke-width="0.7"/>
<circle cx="253" cy="433.2" r="3.2" fill="#10b810" stroke="#000" stroke-width="0.7"/>
<path d="M49 481.76L52 487.16L46 487.16Z" fill="#ff0000" stroke="#000" stroke-width="0.7"/>
<path d="M100 481.56L103 486.96L97 486.96Z" fill="#ff0000" stroke="#000" stroke-width="0.7"/>
<path d="M151 476.76L154 482.16L148 482.16Z" fill="#ff0000" stroke="#000" stroke-width="0.7"/>
<path d="M202 463.06L205 468.46L199 468.46Z" fill="#ff0000" stroke="#000" stroke-width="0.7"/>
<path d="M253 429.96L256 435.36L250 435.36Z" fill="#ff0000" stroke="#000" stroke-width="0.7"/>
<rect x="46.5" y="482.5" width="5" height="5" fill="#0a0ac8" stroke="#000" stroke-width="0.7"/>
<rect x="97.5" y="480.5" width="5" height="5" fill="#0a0ac8" stroke="#000" stroke-width="0.7"/>
<rect x="148.5" y="472.2" width="5" height="5" fill="#0a0ac8" stroke="#000" stroke-width="0.7"/>
<rect x="199.5" y="451.5" width="5" height="5" fill="#0a0ac8" stroke="#000" stroke-width="0.7"/>
<rect x="250.5" y="393.9" width="5" height="5" fill="#0a0ac8" stroke="#000" stroke-width="0.7"/>
<circle cx="49" cy="484.8" r="3.5" fill="#10c010" stroke="#000" stroke-width="0.8"/>
<circle cx="100" cy="480.6" r="3.5" fill="#10c010" stroke="#000" stroke-width="0.8"/>
<circle cx="151" cy="472.4" r="3.5" fill="#10c010" stroke="#000" stroke-width="0.8"/>
<circle cx="202" cy="443.5" r="3.5" fill="#10c010" stroke="#000" stroke-width="0.8"/>
<circle cx="253" cy="375.7" r="3.5" fill="#10c010" stroke="#000" stroke-width="0.8"/>
<path d="M49 481.76L52 487.16L46 487.16Z" fill="#ff0000" stroke="#000" stroke-width="0.7"/>
<path d="M100 480.16L103 485.56L97 485.56Z" fill="#ff0000" stroke="#000" stroke-width="0.7"/>
<path d="M151 474.46L154 479.86L148 479.86Z" fill="#ff0000" stroke="#000" stroke-width="0.7"/>
<path d="M202 458.66L205 464.06L199 464.06Z" fill="#ff0000" stroke="#000" stroke-width="0.7"/>
<path d="M253 413.56L256 418.96L250 418.96Z" fill="#ff0000" stroke="#000" stroke-width="0.7"/>
<line x1="260.9" y1="395.2" x2="260.9" y2="414.9" stroke="#555" stroke-width="1.1"/>
<text x="269.2" y="405.7" font-size="8.2" text-anchor="middle" fill="#3a3a3a" transform="rotate(-90 269.2 405.7)" textLength="26.95" lengthAdjust="spacingAndGlyphs">p=0.003</text>
<line x1="272.1" y1="375.5" x2="272.1" y2="415.5" stroke="#555" stroke-width="1.1"/>
<text x="280.1" y="396.5" font-size="8.2" text-anchor="middle" fill="#3a3a3a" transform="rotate(-90 280.1 396.5)" textLength="25.75" lengthAdjust="spacingAndGlyphs">p=0.001</text>
<line x1="278.6" y1="414.2" x2="278.6" y2="430.9" stroke="#ff2020" stroke-width="1.1"/>
<text x="286.6" y="423.3" font-size="8.2" text-anchor="middle" fill="#ff2020" transform="rotate(-90 286.6 423.3)" textLength="21.25" lengthAdjust="spacingAndGlyphs">p=0.01</text>
<line x1="288.5" y1="394.5" x2="288.5" y2="430.2" stroke="#3030d0" stroke-width="1.1"/>
<text x="296.5" y="412.9" font-size="8.2" text-anchor="middle" fill="#3a3ad0" transform="rotate(-90 296.5 412.9)" textLength="22.95" lengthAdjust="spacingAndGlyphs">p=0.02</text>
<line x1="299" y1="378.1" x2="299" y2="430.2" stroke="#80cc80" stroke-width="1.1"/>
<text x="307.2" y="402.7" font-size="8.2" text-anchor="middle" fill="#62c062" transform="rotate(-90 307.2 402.7)" textLength="30.25" lengthAdjust="spacingAndGlyphs">p=0.0008</text>
<text x="319.7" y="370.2" font-size="10.7">NCT503 40mg/kg</text>
<text x="320.5" y="383.4" font-size="10.7">JPH203 30mg/kg</text>
<line x1="316.8" y1="419" x2="335.3" y2="419" stroke="#ff1010" stroke-width="2"/>
<path d="M326 415.76L329 421.16L323 421.16Z" fill="#ff0000" stroke="#000" stroke-width="0.7"/>
<text x="338.8" y="422.8" font-size="10.7">empty NT</text>
<line x1="316.8" y1="432.8" x2="335.3" y2="432.8" stroke="#1414d4" stroke-width="2"/>
<rect x="323.4" y="430.2" width="5.2" height="5.2" fill="#0a0ac8" stroke="#000" stroke-width="0.7"/>
<text x="338.8" y="436.6" font-size="10.7">p53R175H NT</text>
<line x1="316.8" y1="446.6" x2="335.3" y2="446.6" stroke="#6cc86c" stroke-width="2"/>
<circle cx="326" cy="446.6" r="3.6" fill="#10c010" stroke="#000" stroke-width="0.8"/>
<text x="338.8" y="450.4" font-size="10.7">p53R280K NT</text>
<line x1="316.8" y1="460" x2="320.5" y2="460" stroke="#ff1010" stroke-width="2"/>
<line x1="334" y1="460" x2="335.3" y2="460" stroke="#ff1010" stroke-width="2"/>
<path d="M326 456.76L329 462.16L323 462.16Z" fill="#ff0000" stroke="#000" stroke-width="0.7"/>
<path d="M326 456.8L326 462.2L323 462.2Z" fill="#000"/>
<text x="338.8" y="463.8" font-size="10.7">empty + NCT503/JPH203</text>
<line x1="316.8" y1="473.8" x2="320.5" y2="473.8" stroke="#1414d4" stroke-width="2"/>
<line x1="334" y1="473.8" x2="335.3" y2="473.8" stroke="#1414d4" stroke-width="2"/>
<rect x="323.4" y="471.2" width="5.2" height="5.2" fill="#0a0ac8" stroke="#000" stroke-width="0.7"/>
<rect x="323.4" y="471.2" width="2.6" height="5.2" fill="#000"/>
<text x="338.8" y="477.6" font-size="10.7">p53R175H + NCT503/JPH203</text>
<line x1="316.8" y1="487.6" x2="320.5" y2="487.6" stroke="#12b812" stroke-width="2"/>
<line x1="334" y1="487.6" x2="335.3" y2="487.6" stroke="#12b812" stroke-width="2"/>
<circle cx="326" cy="487.6" r="3.6" fill="#10c010" stroke="#000" stroke-width="0.8"/>
<path d="M326 484A3.6 3.6 0 0 0 326 491.2Z" fill="#000"/>
<text x="338.8" y="491.4" font-size="10.7">p53R280K + NCT503/JPH203</text>
<text x="76.6" y="564.8" font-size="10.7" text-anchor="middle">NT</text>
<text x="209.4" y="558.2" font-size="10.7" text-anchor="middle">NCT503</text>
<text x="209.4" y="571.3" font-size="10.7" text-anchor="middle">JPH203</text>
<text x="18.9" y="605.3" font-size="10.7" text-anchor="middle" transform="rotate(-90 18.9 605.3)">empty</text>
<text x="18.9" y="663.3" font-size="10.7" text-anchor="middle" transform="rotate(-90 18.9 663.3)">R175H</text>
<text x="18.9" y="721.3" font-size="10.7" text-anchor="middle" transform="rotate(-90 18.9 721.3)">R280K</text>
<defs><filter id="blr" x="-50%" y="-50%" width="200%" height="200%"><feGaussianBlur stdDeviation="1.6"/></filter><filter id="blr2" x="-50%" y="-50%" width="200%" height="200%"><feGaussianBlur stdDeviation="0.7"/></filter><radialGradient id="tg2" cx="42%" cy="40%" r="62%"><stop offset="0" stop-color="#b85652"/><stop offset="0.55" stop-color="#a23a3a"/><stop offset="1" stop-color="#7a2626"/></radialGradient><radialGradient id="tg3" cx="42%" cy="40%" r="62%"><stop offset="0" stop-color="#c8857c"/><stop offset="0.55" stop-color="#b0605a"/><stop offset="1" stop-color="#8c4040"/></radialGradient><linearGradient id="rul" x1="0" y1="0" x2="1" y2="0"><stop offset="0" stop-color="#f4e7bd"/><stop offset="0.35" stop-color="#f1ecdc"/><stop offset="1" stop-color="#e9e9e6"/></linearGradient></defs>
<rect x="27.2" y="575.5" width="88.3" height="55" fill="#a1a4a3"/>
<rect x="29.4" y="613.5" width="86.1" height="13.1" fill="url(#rul)"/>
<rect x="29.4" y="626.6" width="86.1" height="3.9" fill="#cfd0cd"/>
<rect x="29.4" y="613.5" width="3.2" height="17" fill="#fbf8ee"/>
<path d="M34.58 613.8v5M37.82 613.8v5M39.44 613.8v5M41.06 613.8v5M42.68 613.8v5M44.3 613.8v6.8M45.92 613.8v5M47.54 613.8v5M49.16 613.8v5M50.78 613.8v5M54.02 613.8v5M55.64 613.8v5M57.26 613.8v5M58.88 613.8v5M60.5 613.8v6.8M62.12 613.8v5M63.74 613.8v5M65.36 613.8v5M66.98 613.8v5M70.22 613.8v5M71.84 613.8v5M73.46 613.8v5M75.08 613.8v5M76.7 613.8v6.8M78.32 613.8v5M79.94 613.8v5M81.56 613.8v5M83.18 613.8v5M86.42 613.8v5M88.04 613.8v5M89.66 613.8v5M91.28 613.8v5M92.9 613.8v6.8M94.52 613.8v5M96.14 613.8v5M97.76 613.8v5M99.38 613.8v5M102.62 613.8v5M104.24 613.8v5M105.86 613.8v5M107.48 613.8v5M109.1 613.8v6.8M110.72 613.8v5M112.34 613.8v5M113.96 613.8v5" stroke="#3a3a38" stroke-width="0.65" fill="none"/>
<path d="M36.2 613.8v10.5M52.4 613.8v10.5M68.6 613.8v10.5M84.8 613.8v10.5M101 613.8v10.5" stroke="#1a1a1a" stroke-width="0.8" fill="none"/>
<text x="53" y="626" font-size="6.8" fill="#141414">1</text>
<text x="69.2" y="626" font-size="6.8" fill="#141414">2</text>
<text x="85.4" y="626" font-size="6.8" fill="#141414">3</text>
<text x="101.6" y="626" font-size="6.8" fill="#141414">4</text>
<text x="36.2" y="626" font-size="6" fill="#141414">20</text>
<ellipse cx="48.9" cy="597.9" rx="9.15" ry="9.05" fill="#353b3d" opacity="0.72" filter="url(#blr)"/>
<path d="M38.05 601.22Q36.17 598.36 35.94 594.9Q35.72 591.44 38.42 589.27Q41.13 587.1 44.38 586.65Q47.63 586.2 50.48 587.91Q53.33 589.62 53.86 592.77Q54.39 595.93 53.49 598.96Q52.59 601.99 49.67 603.61Q46.75 605.24 43.33 604.66Q39.92 604.07 38.05 601.22Z" fill="url(#tg2)"/>
<ellipse cx="41.89" cy="593.53" rx="2.7" ry="2.1" fill="#e6aaa0" opacity="0.42" filter="url(#blr2)"/>
<ellipse cx="41.87" cy="597.38" rx="2.7" ry="2.1" fill="#e6aaa0" opacity="0.42" filter="url(#blr2)"/>
<ellipse cx="46.51" cy="591.53" rx="2.7" ry="2.1" fill="#e6aaa0" opacity="0.42" filter="url(#blr2)"/>
<ellipse cx="49.83" cy="599.79" rx="3.37" ry="2.86" fill="#6e1a1a" opacity="0.35" filter="url(#blr2)"/>
<ellipse cx="77.8" cy="599.1" rx="8.34" ry="8.54" fill="#353b3d" opacity="0.72" filter="url(#blr)"/>
<path d="M82.07 593.06Q84.09 595.55 83.04 598.69Q81.99 601.83 79.48 603.69Q76.97 605.55 74.09 604.91Q71.2 604.27 69.33 602.26Q67.47 600.25 66.64 597.43Q65.81 594.6 67.76 592.42Q69.72 590.25 72.3 589.32Q74.88 588.39 77.47 589.49Q80.06 590.58 82.07 593.06Z" fill="url(#tg2)"/>
<ellipse cx="70.66" cy="595.99" rx="2.46" ry="1.98" fill="#e6aaa0" opacity="0.42" filter="url(#blr2)"/>
<ellipse cx="73.54" cy="598.71" rx="2.46" ry="1.98" fill="#e6aaa0" opacity="0.42" filter="url(#blr2)"/>
<ellipse cx="74.1" cy="597.26" rx="2.46" ry="1.98" fill="#e6aaa0" opacity="0.42" filter="url(#blr2)"/>
<ellipse cx="78.35" cy="600.74" rx="3.07" ry="2.7" fill="#6e1a1a" opacity="0.35" filter="url(#blr2)"/>
<ellipse cx="104.1" cy="598.7" rx="8.13" ry="7.93" fill="#353b3d" opacity="0.72" filter="url(#blr)"/>
<path d="M93.19 598.83Q91.81 596.33 93 593.67Q94.19 591.01 96.73 589.77Q99.27 588.52 102.37 588.36Q105.47 588.19 107.58 590.64Q109.69 593.08 109.55 596.22Q109.41 599.36 107.31 601.62Q105.22 603.88 102.26 604.02Q99.3 604.16 96.94 602.75Q94.58 601.33 93.19 598.83Z" fill="url(#tg2)"/>
<ellipse cx="98.83" cy="593.01" rx="2.4" ry="1.84" fill="#e6aaa0" opacity="0.42" filter="url(#blr2)"/>
<ellipse cx="102.1" cy="595.22" rx="2.4" ry="1.84" fill="#e6aaa0" opacity="0.42" filter="url(#blr2)"/>
<ellipse cx="102.65" cy="595.12" rx="2.4" ry="1.84" fill="#e6aaa0" opacity="0.42" filter="url(#blr2)"/>
<ellipse cx="104.55" cy="600.06" rx="3" ry="2.5" fill="#6e1a1a" opacity="0.35" filter="url(#blr2)"/>
<rect x="117.2" y="575.5" width="25.8" height="55" fill="#a1a4a3"/>
<rect x="117.2" y="613.5" width="25.8" height="13.1" fill="url(#rul)"/>
<rect x="117.2" y="626.6" width="25.8" height="3.9" fill="#cfd0cd"/>
<path d="M122.88 613.8v5M124.52 613.8v5M126.16 613.8v5M127.8 613.8v6.8M129.44 613.8v5M131.08 613.8v5M132.72 613.8v5M134.36 613.8v5M137.64 613.8v5M139.28 613.8v5M140.92 613.8v5M142.56 613.8v5" stroke="#3a3a38" stroke-width="0.65" fill="none"/>
<path d="M136 613.8v10.5" stroke="#1a1a1a" stroke-width="0.8" fill="none"/>
<text x="120.2" y="626" font-size="6.8" fill="#141414">4</text>
<text x="136.6" y="626" font-size="6.8" fill="#141414">5</text>
<ellipse cx="130.6" cy="595.9" rx="7.73" ry="8.13" fill="#353b3d" opacity="0.72" filter="url(#blr)"/>
<path d="M133.84 588.65Q135.7 591.06 134.7 593.85Q133.7 596.65 132.07 598.68Q130.43 600.7 127.68 601.65Q124.93 602.59 122.77 600.5Q120.61 598.41 119.39 595.56Q118.16 592.71 119.86 590.17Q121.56 587.63 124.05 586.74Q126.53 585.85 129.25 586.05Q131.98 586.25 133.84 588.65Z" fill="url(#tg2)"/>
<ellipse cx="128.61" cy="591.5" rx="2.28" ry="1.88" fill="#e6aaa0" opacity="0.42" filter="url(#blr2)"/>
<ellipse cx="124.11" cy="591.93" rx="2.28" ry="1.88" fill="#e6aaa0" opacity="0.42" filter="url(#blr2)"/>
<ellipse cx="129.81" cy="594.84" rx="2.28" ry="1.88" fill="#e6aaa0" opacity="0.42" filter="url(#blr2)"/>
<ellipse cx="130.86" cy="597.35" rx="2.85" ry="2.57" fill="#6e1a1a" opacity="0.35" filter="url(#blr2)"/>
<rect x="151.1" y="575.5" width="108.7" height="55" fill="#a1a4a3"/>
<rect x="151.1" y="614.7" width="108.7" height="11.9" fill="url(#rul)"/>
<rect x="151.1" y="626.6" width="108.7" height="3.9" fill="#cfd0cd"/>
<path d="M156.84 615v5M158.38 615v5M159.92 615v5M161.46 615v5M164.54 615v5M166.08 615v5M167.62 615v5M169.16 615v5M170.7 615v6.8M172.24 615v5M173.78 615v5M175.32 615v5M176.86 615v5M179.94 615v5M181.48 615v5M183.02 615v5M184.56 615v5M186.1 615v6.8M187.64 615v5M189.18 615v5M190.72 615v5M192.26 615v5M195.34 615v5M196.88 615v5M198.42 615v5M199.96 615v5M201.5 615v6.8M203.04 615v5M204.58 615v5M206.12 615v5M207.66 615v5M210.74 615v5M212.28 615v5M213.82 615v5M215.36 615v5M216.9 615v6.8M218.44 615v5M219.98 615v5M221.52 615v5M223.06 615v5M226.14 615v5M227.68 615v5M229.22 615v5M230.76 615v5M232.3 615v6.8M233.84 615v5M235.38 615v5M236.92 615v5M238.46 615v5M241.54 615v5M243.08 615v5M244.62 615v5M246.16 615v5M247.7 615v6.8M249.24 615v5M250.78 615v5M252.32 615v5M253.86 615v5M256.94 615v5M258.48 615v5" stroke="#3a3a38" stroke-width="0.65" fill="none"/>
<path d="M163 615v10.5M178.4 615v10.5M193.8 615v10.5M209.2 615v10.5M224.6 615v10.5M240 615v10.5M255.4 615v10.5" stroke="#1a1a1a" stroke-width="0.8" fill="none"/>
<text x="163.6" y="626" font-size="6.8" fill="#141414">2</text>
<text x="179" y="626" font-size="6.8" fill="#141414">3</text>
<text x="194.4" y="626" font-size="6.8" fill="#141414">4</text>
<text x="209.8" y="626" font-size="6.8" fill="#141414">5</text>
<text x="225.2" y="626" font-size="6.8" fill="#141414">6</text>
<text x="240.6" y="626" font-size="6.8" fill="#141414">7</text>
<text x="256" y="626" font-size="6.8" fill="#141414">8</text>
<ellipse cx="163.8" cy="602.2" rx="8.44" ry="8.13" fill="#353b3d" opacity="0.72" filter="url(#blr)"/>
<path d="M168.16 602.71Q166.55 605.23 164 606.35Q161.45 607.47 158.8 606.87Q156.14 606.26 153.73 604.41Q151.33 602.56 152.08 599.67Q152.83 596.78 154.53 594.44Q156.23 592.1 159.26 591.82Q162.29 591.55 164.61 593.26Q166.92 594.97 168.34 597.58Q169.77 600.19 168.16 602.71Z" fill="url(#tg2)"/>
<ellipse cx="157.33" cy="600.36" rx="2.49" ry="1.88" fill="#e6aaa0" opacity="0.42" filter="url(#blr2)"/>
<ellipse cx="157.23" cy="598.83" rx="2.49" ry="1.88" fill="#e6aaa0" opacity="0.42" filter="url(#blr2)"/>
<ellipse cx="157.92" cy="597.8" rx="2.49" ry="1.88" fill="#e6aaa0" opacity="0.42" filter="url(#blr2)"/>
<ellipse cx="164.4" cy="603.65" rx="3.11" ry="2.57" fill="#6e1a1a" opacity="0.35" filter="url(#blr2)"/>
<ellipse cx="187.8" cy="603.1" rx="8.13" ry="8.34" fill="#353b3d" opacity="0.72" filter="url(#blr)"/>
<path d="M191.95 596.04Q193.43 598.96 192.47 601.88Q191.51 604.8 189.6 607.23Q187.7 609.67 184.73 609.04Q181.76 608.4 179.49 606.73Q177.22 605.06 176.23 602.11Q175.24 599.15 176.94 596.48Q178.63 593.82 181.47 593.29Q184.31 592.77 187.39 592.94Q190.47 593.12 191.95 596.04Z" fill="url(#tg2)"/>
<ellipse cx="182.01" cy="598.56" rx="2.4" ry="1.93" fill="#e6aaa0" opacity="0.42" filter="url(#blr2)"/>
<ellipse cx="185.84" cy="599.06" rx="2.4" ry="1.93" fill="#e6aaa0" opacity="0.42" filter="url(#blr2)"/>
<ellipse cx="182.58" cy="597.27" rx="2.4" ry="1.93" fill="#e6aaa0" opacity="0.42" filter="url(#blr2)"/>
<ellipse cx="188.25" cy="604.65" rx="3" ry="2.63" fill="#6e1a1a" opacity="0.35" filter="url(#blr2)"/>
<ellipse cx="211.1" cy="604.8" rx="7.12" ry="8.34" fill="#353b3d" opacity="0.72" filter="url(#blr)"/>
<path d="M214.96 604.17Q214.15 607.2 211.98 608.72Q209.82 610.25 207.3 610.48Q204.77 610.71 203.02 608.52Q201.27 606.34 200.87 603.43Q200.47 600.53 201.55 597.61Q202.63 594.68 205.32 594.17Q208.02 593.67 210.43 594.74Q212.84 595.81 214.31 598.47Q215.78 601.14 214.96 604.17Z" fill="url(#tg2)"/>
<ellipse cx="205.43" cy="599.53" rx="2.1" ry="1.93" fill="#e6aaa0" opacity="0.42" filter="url(#blr2)"/>
<ellipse cx="209.77" cy="604.19" rx="2.1" ry="1.93" fill="#e6aaa0" opacity="0.42" filter="url(#blr2)"/>
<ellipse cx="205.82" cy="599.78" rx="2.1" ry="1.93" fill="#e6aaa0" opacity="0.42" filter="url(#blr2)"/>
<ellipse cx="211.07" cy="606.35" rx="2.62" ry="2.63" fill="#6e1a1a" opacity="0.35" filter="url(#blr2)"/>
<rect x="27.2" y="634.2" width="109.5" height="55.2" fill="#a1a4a3"/>
<rect x="33.2" y="672.8" width="103.5" height="13.8" fill="url(#rul)"/>
<rect x="33.2" y="686.6" width="103.5" height="2.8" fill="#cfd0cd"/>
<rect x="33.2" y="672.8" width="3.2" height="16.6" fill="#fbf8ee"/>
<path d="M37.73 673.1v5M40.87 673.1v5M42.44 673.1v5M44.01 673.1v5M45.58 673.1v5M47.15 673.1v6.8M48.72 673.1v5M50.29 673.1v5M51.86 673.1v5M53.43 673.1v5M56.57 673.1v5M58.14 673.1v5M59.71 673.1v5M61.28 673.1v5M62.85 673.1v6.8M64.42 673.1v5M65.99 673.1v5M67.56 673.1v5M69.13 673.1v5M72.27 673.1v5M73.84 673.1v5M75.41 673.1v5M76.98 673.1v5M78.55 673.1v6.8M80.12 673.1v5M81.69 673.1v5M83.26 673.1v5M84.83 673.1v5M87.97 673.1v5M89.54 673.1v5M91.11 673.1v5M92.68 673.1v5M94.25 673.1v6.8M95.82 673.1v5M97.39 673.1v5M98.96 673.1v5M100.53 673.1v5M103.67 673.1v5M105.24 673.1v5M106.81 673.1v5M108.38 673.1v5M109.95 673.1v6.8M111.52 673.1v5M113.09 673.1v5M114.66 673.1v5M116.23 673.1v5M119.37 673.1v5M120.94 673.1v5M122.51 673.1v5M124.08 673.1v5M125.65 673.1v6.8M127.22 673.1v5M128.79 673.1v5M130.36 673.1v5M131.93 673.1v5M135.07 673.1v5" stroke="#3a3a38" stroke-width="0.65" fill="none"/>
<path d="M39.3 673.1v10.5M55 673.1v10.5M70.7 673.1v10.5M86.4 673.1v10.5M102.1 673.1v10.5M117.8 673.1v10.5M133.5 673.1v10.5" stroke="#1a1a1a" stroke-width="0.8" fill="none"/>
<text x="55.6" y="686" font-size="6.8" fill="#141414">1</text>
<text x="71.3" y="686" font-size="6.8" fill="#141414">2</text>
<text x="87" y="686" font-size="6.8" fill="#141414">3</text>
<text x="102.7" y="686" font-size="6.8" fill="#141414">4</text>
<text x="118.4" y="686" font-size="6.8" fill="#141414">5</text>
<text x="134.1" y="686" font-size="6.8" fill="#141414">6</text>
<text x="39.5" y="686" font-size="6" fill="#141414">20</text>
<ellipse cx="54.7" cy="664.2" rx="8.84" ry="7.52" fill="#353b3d" opacity="0.72" filter="url(#blr)"/>
<path d="M47.36 654.27Q50.59 653.07 53.49 654.47Q56.38 655.87 58.85 657.78Q61.31 659.69 60.87 662.64Q60.43 665.6 57.8 667.41Q55.17 669.22 51.97 669.24Q48.77 669.27 46.54 667.53Q44.31 665.8 43.69 663.43Q43.07 661.06 43.6 658.26Q44.12 655.47 47.36 654.27Z" fill="url(#tg2)"/>
<ellipse cx="48.89" cy="662.7" rx="2.61" ry="1.74" fill="#e6aaa0" opacity="0.42" filter="url(#blr2)"/>
<ellipse cx="49.02" cy="663.45" rx="2.61" ry="1.74" fill="#e6aaa0" opacity="0.42" filter="url(#blr2)"/>
<ellipse cx="51.55" cy="660.1" rx="2.61" ry="1.74" fill="#e6aaa0" opacity="0.42" filter="url(#blr2)"/>
<ellipse cx="55.49" cy="665.36" rx="3.26" ry="2.38" fill="#6e1a1a" opacity="0.35" filter="url(#blr2)"/>
<ellipse cx="80.4" cy="659.4" rx="8.64" ry="7.62" fill="#353b3d" opacity="0.72" filter="url(#blr)"/>
<path d="M83.05 662.23Q81.33 664.54 78.24 664.27Q75.15 664.01 72.67 662.75Q70.2 661.5 68.99 659.03Q67.79 656.56 68.79 653.8Q69.8 651.05 72.84 649.93Q75.88 648.81 78.79 649.72Q81.71 650.63 84.14 652.54Q86.58 654.44 85.67 657.18Q84.77 659.93 83.05 662.23Z" fill="url(#tg2)"/>
<ellipse cx="73.03" cy="655.12" rx="2.55" ry="1.77" fill="#e6aaa0" opacity="0.42" filter="url(#blr2)"/>
<ellipse cx="76.15" cy="653.78" rx="2.55" ry="1.77" fill="#e6aaa0" opacity="0.42" filter="url(#blr2)"/>
<ellipse cx="74.19" cy="655.76" rx="2.55" ry="1.77" fill="#e6aaa0" opacity="0.42" filter="url(#blr2)"/>
<ellipse cx="81.09" cy="660.61" rx="3.18" ry="2.41" fill="#6e1a1a" opacity="0.35" filter="url(#blr2)"/>
<ellipse cx="106.9" cy="659.1" rx="9.15" ry="8.34" fill="#353b3d" opacity="0.72" filter="url(#blr)"/>
<path d="M95.4 655.91Q95.6 653.21 97.65 651.08Q99.69 648.96 103.04 648.21Q106.38 647.47 109.39 649.34Q112.39 651.21 112.92 654.42Q113.44 657.63 111.98 660.46Q110.51 663.29 107.36 664.46Q104.21 665.63 101.28 664.41Q98.34 663.2 96.77 660.9Q95.2 658.6 95.4 655.91Z" fill="url(#tg2)"/>
<ellipse cx="99.3" cy="659.14" rx="2.7" ry="1.93" fill="#e6aaa0" opacity="0.42" filter="url(#blr2)"/>
<ellipse cx="104.57" cy="659.51" rx="2.7" ry="1.93" fill="#e6aaa0" opacity="0.42" filter="url(#blr2)"/>
<ellipse cx="99.33" cy="657.22" rx="2.7" ry="1.93" fill="#e6aaa0" opacity="0.42" filter="url(#blr2)"/>
<ellipse cx="107.83" cy="660.65" rx="3.37" ry="2.63" fill="#6e1a1a" opacity="0.35" filter="url(#blr2)"/>
<rect x="151.1" y="634.2" width="108.7" height="55.8" fill="#a1a4a3"/>
<rect x="153.8" y="672.5" width="106" height="13.9" fill="url(#rul)"/>
<rect x="153.8" y="686.4" width="106" height="3.6" fill="#cfd0cd"/>
<rect x="153.8" y="672.5" width="3.2" height="17.5" fill="#fbf8ee"/>
<path d="M159.34 672.8v5M162.46 672.8v5M164.02 672.8v5M165.58 672.8v5M167.14 672.8v5M168.7 672.8v6.8M170.26 672.8v5M171.82 672.8v5M173.38 672.8v5M174.94 672.8v5M178.06 672.8v5M179.62 672.8v5M181.18 672.8v5M182.74 672.8v5M184.3 672.8v6.8M185.86 672.8v5M187.42 672.8v5M188.98 672.8v5M190.54 672.8v5M193.66 672.8v5M195.22 672.8v5M196.78 672.8v5M198.34 672.8v5M199.9 672.8v6.8M201.46 672.8v5M203.02 672.8v5M204.58 672.8v5M206.14 672.8v5M209.26 672.8v5M210.82 672.8v5M212.38 672.8v5M213.94 672.8v5M215.5 672.8v6.8M217.06 672.8v5M218.62 672.8v5M220.18 672.8v5M221.74 672.8v5M224.86 672.8v5M226.42 672.8v5M227.98 672.8v5M229.54 672.8v5M231.1 672.8v6.8M232.66 672.8v5M234.22 672.8v5M235.78 672.8v5M237.34 672.8v5M240.46 672.8v5M242.02 672.8v5M243.58 672.8v5M245.14 672.8v5M246.7 672.8v6.8M248.26 672.8v5M249.82 672.8v5M251.38 672.8v5M252.94 672.8v5M256.06 672.8v5M257.62 672.8v5M259.18 672.8v5" stroke="#3a3a38" stroke-width="0.65" fill="none"/>
<path d="M160.9 672.8v10.5M176.5 672.8v10.5M192.1 672.8v10.5M207.7 672.8v10.5M223.3 672.8v10.5M238.9 672.8v10.5M254.5 672.8v10.5" stroke="#1a1a1a" stroke-width="0.8" fill="none"/>
<text x="177.1" y="685.8" font-size="6.8" fill="#141414">1</text>
<text x="192.7" y="685.8" font-size="6.8" fill="#141414">2</text>
<text x="208.3" y="685.8" font-size="6.8" fill="#141414">3</text>
<text x="223.9" y="685.8" font-size="6.8" fill="#141414">4</text>
<text x="239.5" y="685.8" font-size="6.8" fill="#141414">5</text>
<text x="255.1" y="685.8" font-size="6.8" fill="#141414">6</text>
<text x="162.5" y="685.8" font-size="6" fill="#141414">20</text>
<ellipse cx="180.5" cy="658.2" rx="7.73" ry="7.73" fill="#353b3d" opacity="0.72" filter="url(#blr)"/>
<path d="M169.9 659.38Q168.57 656.77 169.59 654.14Q170.61 651.5 172.57 649.29Q174.52 647.07 177.27 648.09Q180.01 649.1 182.24 650.62Q184.46 652.13 184.96 654.97Q185.46 657.81 183.93 660.39Q182.4 662.97 179.49 663.67Q176.57 664.38 173.9 663.18Q171.23 661.99 169.9 659.38Z" fill="url(#tg3)"/>
<ellipse cx="178.6" cy="658.09" rx="2.28" ry="1.79" fill="#e6aaa0" opacity="0.42" filter="url(#blr2)"/>
<ellipse cx="175.73" cy="656.6" rx="2.28" ry="1.79" fill="#e6aaa0" opacity="0.42" filter="url(#blr2)"/>
<ellipse cx="179.3" cy="657.81" rx="2.28" ry="1.79" fill="#e6aaa0" opacity="0.42" filter="url(#blr2)"/>
<ellipse cx="180.76" cy="659.46" rx="2.85" ry="2.44" fill="#6e1a1a" opacity="0.35" filter="url(#blr2)"/>
<ellipse cx="205.3" cy="659.6" rx="7.52" ry="7.32" fill="#353b3d" opacity="0.72" filter="url(#blr)"/>
<path d="M196.82 662.99Q194.56 661.31 193.99 658.52Q193.42 655.73 195.08 653.46Q196.73 651.19 199.32 650.23Q201.91 649.26 204.39 650.37Q206.86 651.47 208.36 653.66Q209.85 655.85 209.39 658.51Q208.93 661.16 206.63 662.44Q204.32 663.71 201.71 664.2Q199.09 664.68 196.82 662.99Z" fill="url(#tg3)"/>
<ellipse cx="204.63" cy="659.16" rx="2.22" ry="1.69" fill="#e6aaa0" opacity="0.42" filter="url(#blr2)"/>
<ellipse cx="202.95" cy="656.13" rx="2.22" ry="1.69" fill="#e6aaa0" opacity="0.42" filter="url(#blr2)"/>
<ellipse cx="202.99" cy="657.31" rx="2.22" ry="1.69" fill="#e6aaa0" opacity="0.42" filter="url(#blr2)"/>
<ellipse cx="205.46" cy="660.67" rx="2.77" ry="2.31" fill="#6e1a1a" opacity="0.35" filter="url(#blr2)"/>
<ellipse cx="229" cy="660.9" rx="6.71" ry="7.73" fill="#353b3d" opacity="0.72" filter="url(#blr)"/>
<path d="M220.36 663.68Q218.5 661.72 219.03 658.95Q219.57 656.18 220.63 653.66Q221.69 651.15 224.11 651.26Q226.53 651.37 228.77 652.17Q231.02 652.98 231.82 655.64Q232.63 658.29 231.7 660.76Q230.77 663.24 228.92 665.04Q227.07 666.85 224.65 666.24Q222.23 665.64 220.36 663.68Z" fill="url(#tg3)"/>
<ellipse cx="225.89" cy="660.83" rx="1.98" ry="1.79" fill="#e6aaa0" opacity="0.42" filter="url(#blr2)"/>
<ellipse cx="223.87" cy="654.91" rx="1.98" ry="1.79" fill="#e6aaa0" opacity="0.42" filter="url(#blr2)"/>
<ellipse cx="224.12" cy="659.25" rx="1.98" ry="1.79" fill="#e6aaa0" opacity="0.42" filter="url(#blr2)"/>
<ellipse cx="228.78" cy="662.16" rx="2.47" ry="2.44" fill="#6e1a1a" opacity="0.35" filter="url(#blr2)"/>
<rect x="27.2" y="692.6" width="109.5" height="54.6" fill="#a1a4a3"/>
<rect x="31" y="730.6" width="105.7" height="13" fill="url(#rul)"/>
<rect x="31" y="743.6" width="105.7" height="3.6" fill="#cfd0cd"/>
<rect x="31" y="730.6" width="3.2" height="16.6" fill="#fbf8ee"/>
<path d="M36.34 730.9v5M37.87 730.9v5M40.93 730.9v5M42.46 730.9v5M43.99 730.9v5M45.52 730.9v5M47.05 730.9v6.8M48.58 730.9v5M50.11 730.9v5M51.64 730.9v5M53.17 730.9v5M56.23 730.9v5M57.76 730.9v5M59.29 730.9v5M60.82 730.9v5M62.35 730.9v6.8M63.88 730.9v5M65.41 730.9v5M66.94 730.9v5M68.47 730.9v5M71.53 730.9v5M73.06 730.9v5M74.59 730.9v5M76.12 730.9v5M77.65 730.9v6.8M79.18 730.9v5M80.71 730.9v5M82.24 730.9v5M83.77 730.9v5M86.83 730.9v5M88.36 730.9v5M89.89 730.9v5M91.42 730.9v5M92.95 730.9v6.8M94.48 730.9v5M96.01 730.9v5M97.54 730.9v5M99.07 730.9v5M102.13 730.9v5M103.66 730.9v5M105.19 730.9v5M106.72 730.9v5M108.25 730.9v6.8M109.78 730.9v5M111.31 730.9v5M112.84 730.9v5M114.37 730.9v5M117.43 730.9v5M118.96 730.9v5M120.49 730.9v5M122.02 730.9v5M123.55 730.9v6.8M125.08 730.9v5M126.61 730.9v5M128.14 730.9v5M129.67 730.9v5M132.73 730.9v5M134.26 730.9v5M135.79 730.9v5" stroke="#3a3a38" stroke-width="0.65" fill="none"/>
<path d="M39.4 730.9v10.5M54.7 730.9v10.5M70 730.9v10.5M85.3 730.9v10.5M100.6 730.9v10.5M115.9 730.9v10.5M131.2 730.9v10.5" stroke="#1a1a1a" stroke-width="0.8" fill="none"/>
<text x="55.3" y="743" font-size="6.8" fill="#141414">1</text>
<text x="70.6" y="743" font-size="6.8" fill="#141414">2</text>
<text x="85.9" y="743" font-size="6.8" fill="#141414">3</text>
<text x="101.2" y="743" font-size="6.8" fill="#141414">4</text>
<text x="116.5" y="743" font-size="6.8" fill="#141414">5</text>
<text x="131.8" y="743" font-size="6.8" fill="#141414">6</text>
<text x="41.2" y="743" font-size="6" fill="#141414">20</text>
<ellipse cx="46" cy="713.7" rx="7.93" ry="7.62" fill="#353b3d" opacity="0.72" filter="url(#blr)"/>
<path d="M47.18 716.97Q44.86 718.36 41.95 718.89Q39.04 719.41 36.96 717.26Q34.89 715.1 34.73 712.32Q34.58 709.53 35.83 706.92Q37.09 704.3 40.05 703.96Q43 703.62 45.75 704.4Q48.51 705.19 49.39 707.78Q50.28 710.38 49.89 712.98Q49.49 715.59 47.18 716.97Z" fill="url(#tg3)"/>
<ellipse cx="44.23" cy="713.56" rx="2.34" ry="1.77" fill="#e6aaa0" opacity="0.42" filter="url(#blr2)"/>
<ellipse cx="44.72" cy="710.16" rx="2.34" ry="1.77" fill="#e6aaa0" opacity="0.42" filter="url(#blr2)"/>
<ellipse cx="42.74" cy="709.72" rx="2.34" ry="1.77" fill="#e6aaa0" opacity="0.42" filter="url(#blr2)"/>
<ellipse cx="46.36" cy="714.91" rx="2.92" ry="2.41" fill="#6e1a1a" opacity="0.35" filter="url(#blr2)"/>
<ellipse cx="66.5" cy="715.9" rx="7.12" ry="8.95" fill="#353b3d" opacity="0.72" filter="url(#blr)"/>
<path d="M69.05 717.75Q68.01 720.6 65.63 722.14Q63.24 723.68 60.62 722.55Q57.99 721.43 56.68 718.41Q55.37 715.39 55.61 711.92Q55.84 708.44 58.2 706.81Q60.56 705.18 62.95 705.24Q65.34 705.3 67.39 707.01Q69.44 708.71 69.77 711.8Q70.1 714.89 69.05 717.75Z" fill="url(#tg3)"/>
<ellipse cx="61.01" cy="712.38" rx="2.1" ry="2.07" fill="#e6aaa0" opacity="0.42" filter="url(#blr2)"/>
<ellipse cx="63.48" cy="712.98" rx="2.1" ry="2.07" fill="#e6aaa0" opacity="0.42" filter="url(#blr2)"/>
<ellipse cx="61.62" cy="715.58" rx="2.1" ry="2.07" fill="#e6aaa0" opacity="0.42" filter="url(#blr2)"/>
<ellipse cx="66.47" cy="717.74" rx="2.62" ry="2.82" fill="#6e1a1a" opacity="0.35" filter="url(#blr2)"/>
<ellipse cx="88" cy="712.9" rx="8.13" ry="8.13" fill="#353b3d" opacity="0.72" filter="url(#blr)"/>
<path d="M91.95 706.68Q93.01 709.52 92.01 712.12Q91.02 714.73 88.9 716.25Q86.78 717.78 83.84 718.42Q80.9 719.06 79.35 716.49Q77.79 713.92 76.82 711.17Q75.85 708.42 77.63 705.97Q79.4 703.52 82.24 702.93Q85.08 702.35 87.98 703.09Q90.89 703.84 91.95 706.68Z" fill="url(#tg3)"/>
<ellipse cx="80.88" cy="707.58" rx="2.4" ry="1.88" fill="#e6aaa0" opacity="0.42" filter="url(#blr2)"/>
<ellipse cx="83.86" cy="706.82" rx="2.4" ry="1.88" fill="#e6aaa0" opacity="0.42" filter="url(#blr2)"/>
<ellipse cx="86.43" cy="708.27" rx="2.4" ry="1.88" fill="#e6aaa0" opacity="0.42" filter="url(#blr2)"/>
<ellipse cx="88.45" cy="714.35" rx="3" ry="2.57" fill="#6e1a1a" opacity="0.35" filter="url(#blr2)"/>
<ellipse cx="108.1" cy="714.8" rx="8.34" ry="8.34" fill="#353b3d" opacity="0.72" filter="url(#blr)"/>
<path d="M111.18 716.18Q109.65 718.45 107.12 719.95Q104.59 721.45 101.82 720.21Q99.05 718.97 97.41 716.42Q95.77 713.86 96.32 710.81Q96.87 707.76 99.23 705.63Q101.58 703.51 104.86 703.4Q108.14 703.29 110.42 705.6Q112.69 707.91 112.69 710.91Q112.7 713.91 111.18 716.18Z" fill="url(#tg3)"/>
<ellipse cx="104.09" cy="709.71" rx="2.46" ry="1.93" fill="#e6aaa0" opacity="0.42" filter="url(#blr2)"/>
<ellipse cx="100.83" cy="711.77" rx="2.46" ry="1.93" fill="#e6aaa0" opacity="0.42" filter="url(#blr2)"/>
<ellipse cx="105.76" cy="709.71" rx="2.46" ry="1.93" fill="#e6aaa0" opacity="0.42" filter="url(#blr2)"/>
<ellipse cx="108.65" cy="716.35" rx="3.07" ry="2.63" fill="#6e1a1a" opacity="0.35" filter="url(#blr2)"/>
<rect x="151.4" y="692.6" width="108.7" height="54.6" fill="#a1a4a3"/>
<rect x="155" y="730.6" width="105.1" height="13" fill="url(#rul)"/>
<rect x="155" y="743.6" width="105.1" height="3.6" fill="#cfd0cd"/>
<rect x="155" y="730.6" width="3.2" height="16.6" fill="#fbf8ee"/>
<path d="M160.9 730.9v5M162.45 730.9v5M165.55 730.9v5M167.1 730.9v5M168.65 730.9v5M170.2 730.9v5M171.75 730.9v6.8M173.3 730.9v5M174.85 730.9v5M176.4 730.9v5M177.95 730.9v5M181.05 730.9v5M182.6 730.9v5M184.15 730.9v5M185.7 730.9v5M187.25 730.9v6.8M188.8 730.9v5M190.35 730.9v5M191.9 730.9v5M193.45 730.9v5M196.55 730.9v5M198.1 730.9v5M199.65 730.9v5M201.2 730.9v5M202.75 730.9v6.8M204.3 730.9v5M205.85 730.9v5M207.4 730.9v5M208.95 730.9v5M212.05 730.9v5M213.6 730.9v5M215.15 730.9v5M216.7 730.9v5M218.25 730.9v6.8M219.8 730.9v5M221.35 730.9v5M222.9 730.9v5M224.45 730.9v5M227.55 730.9v5M229.1 730.9v5M230.65 730.9v5M232.2 730.9v5M233.75 730.9v6.8M235.3 730.9v5M236.85 730.9v5M238.4 730.9v5M239.95 730.9v5M243.05 730.9v5M244.6 730.9v5M246.15 730.9v5M247.7 730.9v5M249.25 730.9v6.8M250.8 730.9v5M252.35 730.9v5M253.9 730.9v5M255.45 730.9v5M258.55 730.9v5" stroke="#3a3a38" stroke-width="0.65" fill="none"/>
<path d="M164 730.9v10.5M179.5 730.9v10.5M195 730.9v10.5M210.5 730.9v10.5M226 730.9v10.5M241.5 730.9v10.5M257 730.9v10.5" stroke="#1a1a1a" stroke-width="0.8" fill="none"/>
<text x="180.1" y="743" font-size="6.8" fill="#141414">1</text>
<text x="195.6" y="743" font-size="6.8" fill="#141414">2</text>
<text x="211.1" y="743" font-size="6.8" fill="#141414">3</text>
<text x="226.6" y="743" font-size="6.8" fill="#141414">4</text>
<text x="242.1" y="743" font-size="6.8" fill="#141414">5</text>
<text x="257.6" y="743" font-size="6.8" fill="#141414">6</text>
<text x="165.3" y="743" font-size="6" fill="#141414">20</text>
<ellipse cx="181.1" cy="714.8" rx="6.3" ry="5.49" fill="#353b3d" opacity="0.72" filter="url(#blr)"/>
<path d="M178.84 717.36Q176.81 717.91 174.67 717.18Q172.54 716.45 171.79 714.53Q171.04 712.6 171.68 710.67Q172.33 708.75 174.28 707.57Q176.24 706.4 178.49 706.91Q180.73 707.43 182.51 708.76Q184.28 710.08 184.45 712.22Q184.62 714.36 182.75 715.59Q180.87 716.81 178.84 717.36Z" fill="url(#tg3)"/>
<ellipse cx="179.66" cy="713.14" rx="1.86" ry="1.27" fill="#e6aaa0" opacity="0.42" filter="url(#blr2)"/>
<ellipse cx="175.4" cy="711.9" rx="1.86" ry="1.27" fill="#e6aaa0" opacity="0.42" filter="url(#blr2)"/>
<ellipse cx="178.03" cy="714.01" rx="1.86" ry="1.27" fill="#e6aaa0" opacity="0.42" filter="url(#blr2)"/>
<ellipse cx="180.69" cy="715" rx="2.32" ry="1.73" fill="#6e1a1a" opacity="0.35" filter="url(#blr2)"/>
<ellipse cx="207" cy="716.6" rx="7.32" ry="6.71" fill="#353b3d" opacity="0.72" filter="url(#blr)"/>
<path d="M200.4 720.49Q198.01 719.22 196.61 717.01Q195.22 714.79 196.05 712.3Q196.89 709.8 199.18 708.21Q201.48 706.63 204.19 707.26Q206.9 707.89 208.88 709.53Q210.87 711.17 210.68 713.57Q210.5 715.96 209.34 718.15Q208.19 720.34 205.49 721.05Q202.79 721.77 200.4 720.49Z" fill="url(#tg3)"/>
<ellipse cx="204.09" cy="715.08" rx="2.16" ry="1.55" fill="#e6aaa0" opacity="0.42" filter="url(#blr2)"/>
<ellipse cx="201.45" cy="716.11" rx="2.16" ry="1.55" fill="#e6aaa0" opacity="0.42" filter="url(#blr2)"/>
<ellipse cx="206.18" cy="716.54" rx="2.16" ry="1.55" fill="#e6aaa0" opacity="0.42" filter="url(#blr2)"/>
<ellipse cx="207.07" cy="717.38" rx="2.7" ry="2.12" fill="#6e1a1a" opacity="0.35" filter="url(#blr2)"/>
<ellipse cx="230.3" cy="713.7" rx="6.91" ry="8.34" fill="#353b3d" opacity="0.72" filter="url(#blr)"/>
<path d="M219.65 712.33Q219.32 709.16 221.03 706.87Q222.73 704.58 225.04 703.13Q227.35 701.68 229.83 703.02Q232.31 704.36 233.08 707.33Q233.86 710.3 233.12 712.96Q232.38 715.62 230.68 717.6Q228.97 719.58 226.49 719.52Q224 719.46 221.99 717.49Q219.99 715.51 219.65 712.33Z" fill="url(#tg3)"/>
<ellipse cx="226.46" cy="707.55" rx="2.04" ry="1.93" fill="#e6aaa0" opacity="0.42" filter="url(#blr2)"/>
<ellipse cx="228.34" cy="707.8" rx="2.04" ry="1.93" fill="#e6aaa0" opacity="0.42" filter="url(#blr2)"/>
<ellipse cx="228.28" cy="708.57" rx="2.04" ry="1.93" fill="#e6aaa0" opacity="0.42" filter="url(#blr2)"/>
<ellipse cx="230.17" cy="715.25" rx="2.55" ry="2.63" fill="#6e1a1a" opacity="0.35" filter="url(#blr2)"/>
<line x1="116.3" y1="575.5" x2="116.3" y2="630.5" stroke="#fff" stroke-width="1.2"/>
<text x="282.4" y="555.8" font-size="11.5" font-weight="bold">d</text>
<text x="311.2" y="575.5" font-size="12.05">4T1 (TetOn mutp53)</text>
<line x1="328.9" y1="592.3" x2="328.9" y2="729.5" stroke="#000" stroke-width="1.8"/>
<line x1="328" y1="728.6" x2="415" y2="728.6" stroke="#000" stroke-width="1.8"/>
<line x1="324.6" y1="728.6" x2="328.9" y2="728.6" stroke="#000" stroke-width="1.6"/>
<text x="324.6" y="730.8" font-size="11.2" text-anchor="end">0</text>
<line x1="324.6" y1="709.23" x2="328.9" y2="709.23" stroke="#000" stroke-width="1.6"/>
<text x="322.1" y="711.53" font-size="11.2" text-anchor="end">100</text>
<line x1="324.6" y1="689.86" x2="328.9" y2="689.86" stroke="#000" stroke-width="1.6"/>
<text x="322.1" y="692.16" font-size="11.2" text-anchor="end">200</text>
<line x1="324.6" y1="670.49" x2="328.9" y2="670.49" stroke="#000" stroke-width="1.6"/>
<text x="322.1" y="672.79" font-size="11.2" text-anchor="end">300</text>
<line x1="324.6" y1="651.12" x2="328.9" y2="651.12" stroke="#000" stroke-width="1.6"/>
<text x="322.1" y="653.42" font-size="11.2" text-anchor="end">400</text>
<line x1="324.6" y1="631.75" x2="328.9" y2="631.75" stroke="#000" stroke-width="1.6"/>
<text x="322.1" y="634.05" font-size="11.2" text-anchor="end">500</text>
<line x1="324.6" y1="612.38" x2="328.9" y2="612.38" stroke="#000" stroke-width="1.6"/>
<text x="322.1" y="614.68" font-size="11.2" text-anchor="end">600</text>
<line x1="324.6" y1="593.01" x2="328.9" y2="593.01" stroke="#000" stroke-width="1.6"/>
<text x="322.1" y="595.31" font-size="11.2" text-anchor="end">700</text>
<line x1="350.4" y1="728.6" x2="350.4" y2="733.6" stroke="#000" stroke-width="1.6"/>
<line x1="393.4" y1="728.6" x2="393.4" y2="733.6" stroke="#000" stroke-width="1.6"/>
<text x="296.2" y="657" font-size="10.7" text-anchor="middle" transform="rotate(-90 296.2 657)">Tumor volume (mm<tspan font-size="7" dy="-4">3</tspan><tspan dy="4">)</tspan></text>
<line x1="333.9" y1="669.4" x2="342.5" y2="669.4" stroke="#000" stroke-width="1.4"/>
<line x1="338.2" y1="666" x2="338.2" y2="673" stroke="#000" stroke-width="1"/>
<line x1="335.6" y1="666" x2="340.8" y2="666" stroke="#000" stroke-width="1"/>
<line x1="335.6" y1="673" x2="340.8" y2="673" stroke="#000" stroke-width="1"/>
<line x1="345.4" y1="652.3" x2="354" y2="652.3" stroke="#000" stroke-width="1.4"/>
<line x1="349.7" y1="650" x2="349.7" y2="655" stroke="#000" stroke-width="1"/>
<line x1="347.1" y1="650" x2="352.3" y2="650" stroke="#000" stroke-width="1"/>
<line x1="347.1" y1="655" x2="352.3" y2="655" stroke="#000" stroke-width="1"/>
<line x1="357.1" y1="634.6" x2="365.7" y2="634.6" stroke="#000" stroke-width="1.4"/>
<line x1="361.4" y1="629.3" x2="361.4" y2="641" stroke="#000" stroke-width="1"/>
<line x1="358.8" y1="629.3" x2="364" y2="629.3" stroke="#000" stroke-width="1"/>
<line x1="358.8" y1="641" x2="364" y2="641" stroke="#000" stroke-width="1"/>
<line x1="376.8" y1="684" x2="385.4" y2="684" stroke="#000" stroke-width="1.4"/>
<line x1="381.1" y1="680" x2="381.1" y2="688" stroke="#000" stroke-width="1"/>
<line x1="378.5" y1="680" x2="383.7" y2="680" stroke="#000" stroke-width="1"/>
<line x1="378.5" y1="688" x2="383.7" y2="688" stroke="#000" stroke-width="1"/>
<line x1="388.9" y1="687.4" x2="397.5" y2="687.4" stroke="#000" stroke-width="1.4"/>
<line x1="393.2" y1="677.6" x2="393.2" y2="697.5" stroke="#000" stroke-width="1"/>
<line x1="390.6" y1="677.6" x2="395.8" y2="677.6" stroke="#000" stroke-width="1"/>
<line x1="390.6" y1="697.5" x2="395.8" y2="697.5" stroke="#000" stroke-width="1"/>
<line x1="400.3" y1="685" x2="408.9" y2="685" stroke="#000" stroke-width="1.4"/>
<line x1="404.6" y1="683" x2="404.6" y2="687" stroke="#000" stroke-width="1"/>
<line x1="402" y1="683" x2="407.2" y2="683" stroke="#000" stroke-width="1"/>
<line x1="402" y1="687" x2="407.2" y2="687" stroke="#000" stroke-width="1"/>
<circle cx="336.5" cy="665.2" r="2.6" fill="#ff0000" stroke="#000" stroke-width="0.8"/>
<circle cx="340.9" cy="667.1" r="2.6" fill="#ff0000" stroke="#000" stroke-width="0.8"/>
<circle cx="338.4" cy="670.4" r="2.6" fill="#ff0000" stroke="#000" stroke-width="0.8"/>
<circle cx="339" cy="675.7" r="2.6" fill="#ff0000" stroke="#000" stroke-width="0.8"/>
<circle cx="382" cy="678" r="2.6" fill="#ff0000" stroke="#000" stroke-width="0.8"/>
<circle cx="384" cy="685" r="2.6" fill="#ff0000" stroke="#000" stroke-width="0.8"/>
<circle cx="380.1" cy="689" r="2.6" fill="#ff0000" stroke="#000" stroke-width="0.8"/>
<circle cx="350" cy="650" r="2.6" fill="#0606c0" stroke="#000" stroke-width="0.8"/>
<circle cx="351.8" cy="649.5" r="2.6" fill="#0606c0" stroke="#000" stroke-width="0.8"/>
<circle cx="350" cy="656.9" r="2.6" fill="#0606c0" stroke="#000" stroke-width="0.8"/>
<circle cx="393.4" cy="671.3" r="2.6" fill="#0606c0" stroke="#000" stroke-width="0.8"/>
<circle cx="393.4" cy="685.2" r="2.6" fill="#0606c0" stroke="#000" stroke-width="0.8"/>
<circle cx="393.4" cy="705.5" r="2.6" fill="#0606c0" stroke="#000" stroke-width="0.8"/>
<circle cx="361" cy="619.2" r="2.6" fill="#0cbf0c" stroke="#000" stroke-width="0.8"/>
<circle cx="361" cy="632.9" r="2.6" fill="#0cbf0c" stroke="#000" stroke-width="0.8"/>
<circle cx="359.2" cy="644.8" r="2.6" fill="#0cbf0c" stroke="#000" stroke-width="0.8"/>
<circle cx="363.4" cy="642.5" r="2.6" fill="#0cbf0c" stroke="#000" stroke-width="0.8"/>
<circle cx="402" cy="685.2" r="2.6" fill="#0cbf0c" stroke="#000" stroke-width="0.8"/>
<circle cx="404.8" cy="682.1" r="2.6" fill="#0cbf0c" stroke="#000" stroke-width="0.8"/>
<circle cx="407.3" cy="685.5" r="2.6" fill="#0cbf0c" stroke="#000" stroke-width="0.8"/>
<line x1="337.8" y1="608.5" x2="361" y2="608.5" stroke="#5a5a5a" stroke-width="1.45"/>
<text x="336.2" y="606.1" font-size="8.2" fill="#2a2a2a" textLength="25.85" lengthAdjust="spacingAndGlyphs">p=0.001</text>
<line x1="337.8" y1="643.5" x2="349.7" y2="643.5" stroke="#5a5a5a" stroke-width="1.45"/>
<text x="331.7" y="641.9" font-size="8.2" fill="#2a2a2a" textLength="25.75" lengthAdjust="spacingAndGlyphs">p=0.003</text>
<line x1="381.1" y1="652.5" x2="403.9" y2="652.5" stroke="#5a5a5a" stroke-width="1.45"/>
<text x="387.7" y="651.1" font-size="8.2" fill="#2a2a2a" textLength="10.05" lengthAdjust="spacingAndGlyphs">n.s</text>
<line x1="381.1" y1="664.5" x2="393.4" y2="664.5" stroke="#5a5a5a" stroke-width="1.45"/>
<text x="382.6" y="662.5" font-size="8.2" fill="#2a2a2a" textLength="10.05" lengthAdjust="spacingAndGlyphs">n.s</text>
<line x1="338" y1="701.5" x2="381.1" y2="701.5" stroke="#5a5a5a" stroke-width="1.45"/>
<text x="345" y="698.9" font-size="8.2" fill="#2a2a2a" textLength="23.15" lengthAdjust="spacingAndGlyphs">p=0.01</text>
<line x1="349.4" y1="712.5" x2="392.5" y2="712.5" stroke="#5a5a5a" stroke-width="1.45"/>
<text x="359.3" y="710.3" font-size="8.2" fill="#2a2a2a" textLength="23.45" lengthAdjust="spacingAndGlyphs">p=0.02</text>
<line x1="361.7" y1="723.5" x2="404.8" y2="723.5" stroke="#5a5a5a" stroke-width="1.45"/>
<text x="369.3" y="721.3" font-size="8.2" fill="#2a2a2a" textLength="31.15" lengthAdjust="spacingAndGlyphs">p=0.0008</text>
<text x="355" y="742.4" font-size="10.7" text-anchor="end" transform="rotate(-45 355 742.4)">NT</text>
<text x="407.5" y="741.6" font-size="10.7" text-anchor="end" transform="rotate(-45 407.5 741.6)">NCT503</text>
<text x="416.8" y="752" font-size="10.7" text-anchor="end" transform="rotate(-45 416.8 752)">JPH203</text>
<circle cx="425.4" cy="598" r="2.7" fill="#ff0000" stroke="#000" stroke-width="0.8"/>
<circle cx="425.4" cy="611.9" r="2.7" fill="#0606c0" stroke="#000" stroke-width="0.8"/>
<circle cx="425.4" cy="625.3" r="2.7" fill="#0cbf0c" stroke="#000" stroke-width="0.8"/>
<text x="431" y="601.7" font-size="10.7">empty</text>
<text x="431" y="615.6" font-size="10.7">p53R175H</text>
<text x="431" y="629" font-size="10.7">p53R280K</text>
<text x="487" y="556.1" font-size="11.5" font-weight="bold">e</text>
<text x="517.2" y="579.3" font-size="12.05">4T1 (TetOn mutp53)</text>
<line x1="534.8" y1="597.3" x2="534.8" y2="734.5" stroke="#000" stroke-width="1.8"/>
<line x1="533.9" y1="733.6" x2="621" y2="733.6" stroke="#000" stroke-width="1.8"/>
<line x1="530" y1="733.6" x2="534.8" y2="733.6" stroke="#000" stroke-width="1.6"/>
<text x="528" y="735.2" font-size="11.2" text-anchor="end">0.0</text>
<line x1="530" y1="714.23" x2="534.8" y2="714.23" stroke="#000" stroke-width="1.6"/>
<text x="528" y="715.83" font-size="11.2" text-anchor="end">0.1</text>
<line x1="530" y1="694.86" x2="534.8" y2="694.86" stroke="#000" stroke-width="1.6"/>
<text x="528" y="696.46" font-size="11.2" text-anchor="end">0.2</text>
<line x1="530" y1="675.49" x2="534.8" y2="675.49" stroke="#000" stroke-width="1.6"/>
<text x="528" y="677.09" font-size="11.2" text-anchor="end">0.3</text>
<line x1="530" y1="656.12" x2="534.8" y2="656.12" stroke="#000" stroke-width="1.6"/>
<text x="528" y="657.72" font-size="11.2" text-anchor="end">0.4</text>
<line x1="530" y1="636.75" x2="534.8" y2="636.75" stroke="#000" stroke-width="1.6"/>
<text x="528" y="638.35" font-size="11.2" text-anchor="end">0.5</text>
<line x1="530" y1="617.38" x2="534.8" y2="617.38" stroke="#000" stroke-width="1.6"/>
<text x="528" y="618.98" font-size="11.2" text-anchor="end">0.6</text>
<line x1="530" y1="598.01" x2="534.8" y2="598.01" stroke="#000" stroke-width="1.6"/>
<text x="528" y="599.61" font-size="11.2" text-anchor="end">0.7</text>
<line x1="554.8" y1="733.6" x2="554.8" y2="738.8" stroke="#000" stroke-width="1.6"/>
<line x1="598.3" y1="733.6" x2="598.3" y2="738.8" stroke="#000" stroke-width="1.6"/>
<text x="507.2" y="657" font-size="10.7" text-anchor="middle" transform="rotate(-90 507.2 657)">Tumor weight (gr)</text>
<line x1="539.3" y1="653.7" x2="547.9" y2="653.7" stroke="#000" stroke-width="1.4"/>
<line x1="543.6" y1="651" x2="543.6" y2="656.8" stroke="#000" stroke-width="1"/>
<line x1="541" y1="651" x2="546.2" y2="651" stroke="#000" stroke-width="1"/>
<line x1="541" y1="656.8" x2="546.2" y2="656.8" stroke="#000" stroke-width="1"/>
<line x1="550.5" y1="639" x2="560.1" y2="639" stroke="#000" stroke-width="1.4"/>
<line x1="555.3" y1="635" x2="555.3" y2="643.5" stroke="#000" stroke-width="1"/>
<line x1="552.7" y1="635" x2="557.9" y2="635" stroke="#000" stroke-width="1"/>
<line x1="552.7" y1="643.5" x2="557.9" y2="643.5" stroke="#000" stroke-width="1"/>
<line x1="562" y1="636.7" x2="571.2" y2="636.7" stroke="#000" stroke-width="1.4"/>
<line x1="566.6" y1="634" x2="566.6" y2="640" stroke="#000" stroke-width="1"/>
<line x1="564" y1="634" x2="569.2" y2="634" stroke="#000" stroke-width="1"/>
<line x1="564" y1="640" x2="569.2" y2="640" stroke="#000" stroke-width="1"/>
<line x1="582.6" y1="665.9" x2="592" y2="665.9" stroke="#000" stroke-width="1.4"/>
<line x1="587.3" y1="658.5" x2="587.3" y2="673" stroke="#000" stroke-width="1"/>
<line x1="584.7" y1="658.5" x2="589.9" y2="658.5" stroke="#000" stroke-width="1"/>
<line x1="584.7" y1="673" x2="589.9" y2="673" stroke="#000" stroke-width="1"/>
<line x1="594.1" y1="680.4" x2="603.1" y2="680.4" stroke="#000" stroke-width="1.4"/>
<line x1="598.6" y1="672.6" x2="598.6" y2="686.9" stroke="#000" stroke-width="1"/>
<line x1="596" y1="672.6" x2="601.2" y2="672.6" stroke="#000" stroke-width="1"/>
<line x1="596" y1="686.9" x2="601.2" y2="686.9" stroke="#000" stroke-width="1"/>
<line x1="605.7" y1="679.5" x2="614.1" y2="679.5" stroke="#000" stroke-width="1.4"/>
<line x1="609.9" y1="675" x2="609.9" y2="684" stroke="#000" stroke-width="1"/>
<line x1="607.3" y1="675" x2="612.5" y2="675" stroke="#000" stroke-width="1"/>
<line x1="607.3" y1="684" x2="612.5" y2="684" stroke="#000" stroke-width="1"/>
<circle cx="541.5" cy="651.6" r="2.6" fill="#ff0000" stroke="#000" stroke-width="0.8"/>
<circle cx="544.3" cy="651.1" r="2.6" fill="#ff0000" stroke="#000" stroke-width="0.8"/>
<circle cx="546.4" cy="653" r="2.6" fill="#ff0000" stroke="#000" stroke-width="0.8"/>
<circle cx="543.6" cy="663.8" r="2.6" fill="#ff0000" stroke="#000" stroke-width="0.8"/>
<circle cx="587.2" cy="652" r="2.6" fill="#ff0000" stroke="#000" stroke-width="0.8"/>
<circle cx="587.2" cy="669.9" r="2.6" fill="#ff0000" stroke="#000" stroke-width="0.8"/>
<circle cx="587.2" cy="675.7" r="2.6" fill="#ff0000" stroke="#000" stroke-width="0.8"/>
<circle cx="555.2" cy="629.5" r="2.6" fill="#0606c0" stroke="#000" stroke-width="0.8"/>
<circle cx="555.2" cy="639.4" r="2.6" fill="#0606c0" stroke="#000" stroke-width="0.8"/>
<circle cx="555.2" cy="648" r="2.6" fill="#0606c0" stroke="#000" stroke-width="0.8"/>
<circle cx="598.3" cy="673.6" r="2.6" fill="#0606c0" stroke="#000" stroke-width="0.8"/>
<circle cx="600.4" cy="673.6" r="2.6" fill="#0606c0" stroke="#000" stroke-width="0.8"/>
<circle cx="598.3" cy="693.6" r="2.6" fill="#0606c0" stroke="#000" stroke-width="0.8"/>
<circle cx="566.8" cy="627.8" r="2.6" fill="#0cbf0c" stroke="#000" stroke-width="0.8"/>
<circle cx="566.8" cy="634.7" r="2.6" fill="#0cbf0c" stroke="#000" stroke-width="0.8"/>
<circle cx="566.8" cy="640.6" r="2.6" fill="#0cbf0c" stroke="#000" stroke-width="0.8"/>
<circle cx="566.8" cy="645.7" r="2.6" fill="#0cbf0c" stroke="#000" stroke-width="0.8"/>
<circle cx="609.9" cy="668.8" r="2.6" fill="#0cbf0c" stroke="#000" stroke-width="0.8"/>
<circle cx="609.9" cy="680" r="2.6" fill="#0cbf0c" stroke="#000" stroke-width="0.8"/>
<circle cx="609.9" cy="690" r="2.6" fill="#0cbf0c" stroke="#000" stroke-width="0.8"/>
<line x1="543.1" y1="609.5" x2="565.8" y2="609.5" stroke="#5a5a5a" stroke-width="1.45"/>
<text x="543.9" y="606.7" font-size="8.2" fill="#2a2a2a" textLength="22.65" lengthAdjust="spacingAndGlyphs">p=0.01</text>
<line x1="543.1" y1="621.5" x2="555" y2="621.5" stroke="#5a5a5a" stroke-width="1.45"/>
<text x="536.9" y="620.6" font-size="8.2" fill="#2a2a2a" textLength="22.65" lengthAdjust="spacingAndGlyphs">p=0.04</text>
<line x1="586.3" y1="635.5" x2="608.8" y2="635.5" stroke="#5a5a5a" stroke-width="1.45"/>
<text x="593.1" y="633.9" font-size="8.2" fill="#2a2a2a" textLength="10.05" lengthAdjust="spacingAndGlyphs">n.s</text>
<line x1="586.3" y1="645.5" x2="597.7" y2="645.5" stroke="#5a5a5a" stroke-width="1.45"/>
<text x="587.2" y="643.8" font-size="8.2" fill="#2a2a2a" textLength="10.05" lengthAdjust="spacingAndGlyphs">n.s</text>
<line x1="542.6" y1="696.5" x2="585.7" y2="696.5" stroke="#5a5a5a" stroke-width="1.45"/>
<text x="559.8" y="695.7" font-size="8.2" fill="#2a2a2a" textLength="10.05" lengthAdjust="spacingAndGlyphs">n.s</text>
<line x1="554.2" y1="708.5" x2="596.9" y2="708.5" stroke="#5a5a5a" stroke-width="1.45"/>
<text x="563.6" y="706.3" font-size="8.2" fill="#2a2a2a" textLength="27.05" lengthAdjust="spacingAndGlyphs">p=0.007</text>
<line x1="566.4" y1="719.5" x2="609.9" y2="719.5" stroke="#5a5a5a" stroke-width="1.45"/>
<text x="575.8" y="717.3" font-size="8.2" fill="#2a2a2a" textLength="26.05" lengthAdjust="spacingAndGlyphs">p=0.001</text>
<text x="560" y="745.5" font-size="10.7" text-anchor="end" transform="rotate(-45 560 745.5)">NT</text>
<text x="613.5" y="745.5" font-size="10.7" text-anchor="end" transform="rotate(-45 613.5 745.5)">NCT503</text>
<text x="622.1" y="755.5" font-size="10.7" text-anchor="end" transform="rotate(-45 622.1 755.5)">JPH203</text>
<circle cx="628" cy="596.3" r="2.7" fill="#ff0000" stroke="#000" stroke-width="0.8"/>
<circle cx="628" cy="610.3" r="2.7" fill="#0606c0" stroke="#000" stroke-width="0.8"/>
<circle cx="628" cy="623.3" r="2.7" fill="#0cbf0c" stroke="#000" stroke-width="0.8"/>
<text x="633.6" y="600" font-size="10.7">empty</text>
<text x="633.6" y="614" font-size="10.7">p53R175H</text>
<text x="633.6" y="627" font-size="10.7">p53R280K</text>
</svg></body></html>
